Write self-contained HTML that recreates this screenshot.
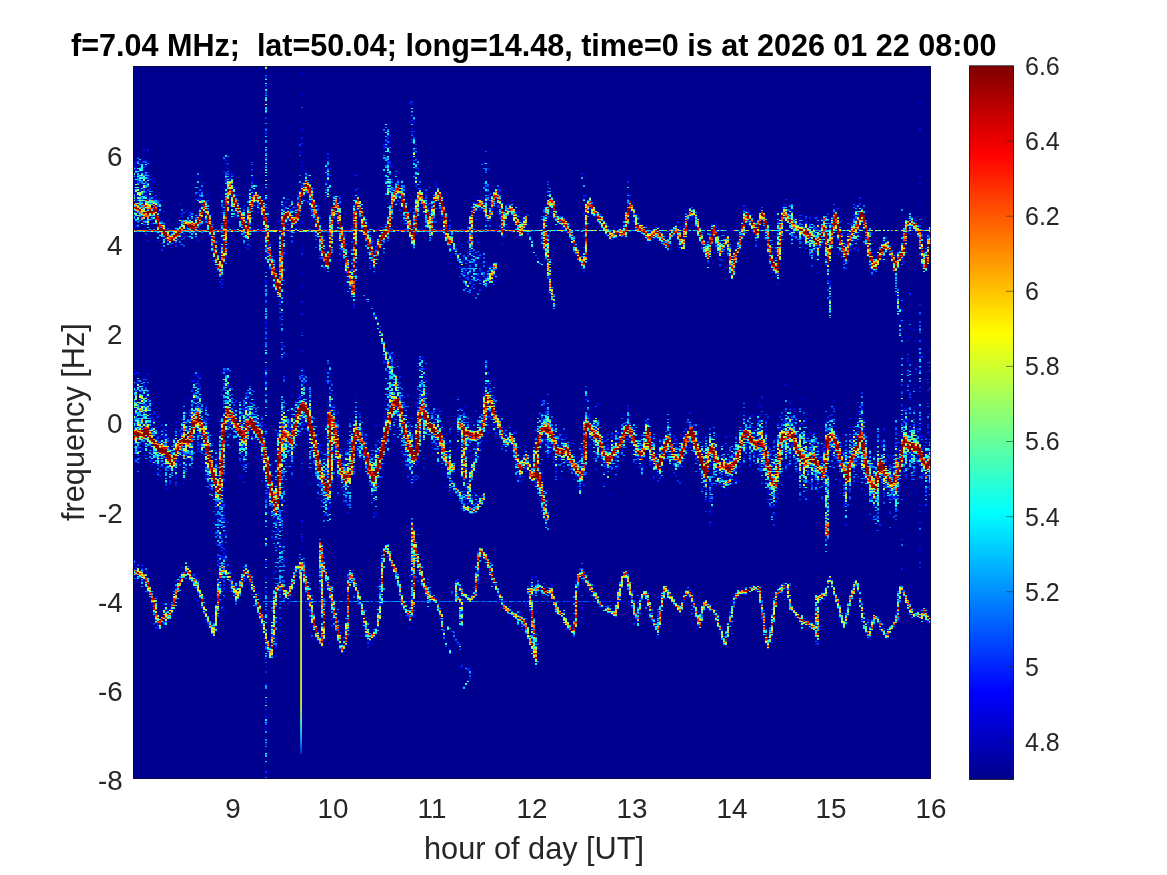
<!DOCTYPE html>
<html><head><meta charset="utf-8"><title>spectrogram</title><style>
html,body{margin:0;padding:0;background:#fff;}
body{width:1167px;height:875px;position:relative;overflow:hidden;font-family:"Liberation Sans",sans-serif;color:#262626;}
.t,.xt,.yt,.ct{will-change:transform;}
.t{position:absolute;white-space:pre;line-height:1;}
.xt{position:absolute;white-space:pre;line-height:1;font-size:27.8px;top:794.5px;width:80px;margin-left:-40px;text-align:center;}
.yt{position:absolute;white-space:pre;line-height:1;font-size:27.8px;right:1044.5px;text-align:right;}
.ct{position:absolute;white-space:pre;line-height:1;font-size:25px;left:1024.8px;}
#plot{position:absolute;left:0;top:0;}
</style></head><body>
<svg id="plot" width="1167" height="875" viewBox="0 0 1167 875">
<rect x="133" y="66" width="798" height="713" fill="#00008f"/>
<defs><filter id="sb" filterUnits="userSpaceOnUse" x="133" y="66" width="798" height="713"><feGaussianBlur stdDeviation="0.5 0.4"/></filter></defs><g fill="none" stroke-width="2" shape-rendering="crispEdges" filter="url(#sb)">
<path stroke="#0000c1" d="M134 224v1m2 7v1m0 328v1m4 -338v1m0 158v1m2 9v1m0 50v1m2 -69v1m2 -218v1m0 10v1m0 400v1m2 -372v1m2 -40v1m0 30v1m0 404v1m4 -382v1m0 10v1m2 -23v1m2 244v1m2 -240v1m0 208v1m0 9v1m2 -226v1m0 33v1m2 227v1m4 -217v1m2 196v1m2 154v1m0 9v1m2 -32v1m0 5v1m6 -377v1m2 -14v1m0 37v1m6 -29v1m0 3v1m2 191v1m2 -196v1m2 163v1m0 15v1m0 196v1m2 -412v1m2 -5v1m0 26v1m0 15v1m0 156v1m0 73v1m2 -62v1m0 1v1m0 14v1m2 -214v1m0 217v1m2 -197v1m2 389v1m6 13v1m6 -143v1m0 54v1m2 -244v1m0 225v1m0 23v1m0 18v1m2 -347v1m0 73v1m0 223v1m0 75v1m2 29v1m2 -183v1m0 87v1m4 -143v1m0 201v1m0 3v1m2 -411v1m4 45v1m0 22v1m0 165v1m0 26v1m4 -11v1m4 -27v1m0 186v1m6 -391v1m4 216v1m0 198v1m2 -431v1m0 20v1m2 7v1m2 382v1m2 -405v1m2 53v1m0 370v1m2 -354v2m0 16v1m0 252v2m0 12v1m0 28v1m0 150v1m2 -516v1m2 243v1m2 165v1m6 -98v2m2 74v1m0 1v1m2 -272v1m4 129v1m0 109v1m2 -159v1m0 44v1m0 12v1m2 -238v1m2 188v1m0 52v1m2 107v1m2 -354v1m0 168v1m2 -170v1m0 158v1m2 -228v1m2 -36v1m0 2v1m0 79v1m0 35v1m0 35v1m0 94v1m0 17v1m0 28v1m0 57v1m8 -310v1m0 296v1m2 -16v1m0 183v1m8 -419v1m2 36v1m2 153v1m0 194v1m2 -456v2m2 11v1m0 223v1m0 6v1m0 13v1m2 93v1m2 -258v1m2 159v1m4 23v1m0 216v1m2 -437v1m0 29v1m0 6v1m0 200v1m2 -1v1m0 12v1m8 -12v1m2 -214v1m2 165v1m0 99v1m0 108v2m2 -219v1m2 -187v1m2 -17v1m4 436v1m2 -144v1m2 -263v1m0 73v1m0 348v1m2 -153v1m0 3v1m0 130v1m4 -122v1m2 -199v1m0 114v1m2 -193v1m0 79v1m0 2v1m0 5v1m0 255v1m2 -3v1m2 -359v1m2 -92v1m0 19v1m0 23v1m0 66v1m0 132v1m0 27v1m2 -242v1m0 210v1m0 168v1m2 -188v2m2 -129v1m4 212v1m6 -248v1m2 16v1m0 7v1m0 203v1m0 28v1m2 -234v1m2 -23v1m2 229v1m2 -301v1m0 441v1m2 -140v1m0 45v1m0 118v1m2 -473v1m0 9v1m0 346v1m2 -278v1m0 197v1m0 19v1m2 -54v1m4 -180v1m0 225v1m0 142v1m4 -337v1m4 -16v1m6 -27v1m0 8v1m2 273v1m0 135v1m4 -127v1m2 138v1m2 -405v1m4 277v1m4 -15v1m2 163v1m2 -236v1m0 45v1m0 38v1m0 97v1m4 -110v1m2 -207v1m0 7v1m0 242v1m2 75v1m2 -119v1m2 -249v1m0 204v1m4 -227v1m0 51v1m2 -48v1m2 74v1m2 -25v1m0 310v1m2 -404v1m2 26v1m2 -7v1m0 237v1m2 -61v1m6 -97v1m0 100v1m0 24v1m0 27v1m2 -145v1m4 -15v1m2 135v1m2 192v1m2 -177v1m4 -215v1m0 407v1m2 -12v1m4 -127v1m4 -265v1m6 5v1m6 254v1m6 -225v1m0 2v1m0 229v1m0 135v1m4 -207v1m0 14v1m2 75v1m0 83v1m2 -404v1m0 23v1m6 229v1m0 2v1m0 6v1m2 -28v1m0 171v1m2 -133v1m4 -248v1m0 405v1m2 -159v1m2 -258v1m4 266v1m8 -21v1m4 -199v1m4 11v1m2 125v1m0 189v1m4 1v1m4 -148v1m2 -48v1m0 14v1m0 9v1m0 175v1m2 -186v1m0 189v1m4 -397v1m6 406v1m2 -147v1m4 -3v1m2 -238v1m0 371v1m4 -376v1m0 195v1m0 27v1m4 2v1m4 -278v1m0 226v1m0 199v1m0 2v1m4 -5v1m2 -158v1m6 -212v1m0 234v1m2 -37v1m2 -4v1m2 -212v1m2 365v1m4 -125v1m2 -30v1m0 195v1m2 -406v1m6 389v1m12 -148v1m4 -5v1m6 -243v1m0 3v1m0 375v1m2 -154v1m2 4v1m2 -238v1m2 234v1m4 -25v1m2 8v1m2 176v1m4 -161v1m2 48v1m2 -240v1m2 244v2m0 93v1m2 -91v1m4 -73v1m2 22v1m0 17v1m2 -26v1m2 -215v1m4 216v1m2 -230v1m2 13v1m0 231v1m2 -248v1m0 249v1m8 -251v1m2 220v1m2 -210v1m0 174v2m0 38v1m2 -20v1m4 23v1m2 -33v1m0 39v1m2 -9v1m4 26v1m2 -263v1m2 -19v1m0 189v1m4 28v1m2 8v1m2 -173v1m0 193v1m2 -17v1m0 10v1m0 18v1m0 20v1m4 -40v1m0 62v1m0 79v1m2 -104v1m2 -241v1m0 169v1m4 -221v1m12 258v1m2 -26v1m4 -198v1m0 224v1m2 -38v1m4 19v2m2 25v1m2 -12v1m4 -215v1m0 232v1m4 151v1m2 -154v1m0 14v1m0 91v1m2 -385v1m0 33v1m2 294v1m0 18v1m2 -260v1m0 296v1m4 -167v1m2 1v1m2 -222v1m0 216v1m0 178v1m2 -170v1m0 1v1m4 -199v1m2 30v1m4 2v1m0 185v1m4 -245v1m0 268v1m2 -236v1m2 -2v1m0 235v1m4 -113v2m0 35v1m0 5v1m0 170v1m2 -181v1m0 190v1m4 -102v1m4 -276v1m4 18v1m0 266v1m10 -66v1m0 69v1m6 -268v1m2 226v1m4 -29v1m0 144v1m2 -280v1m0 132v1m4 72v2m0 58v1m2 -350v1m0 233v1m0 1v1m6 -73v1m0 95v1m2 -35v1m0 29v1m4 -252v1m0 139v2m0 10v2m0 26v2m2 -66v1m2 -142v1m0 84v1m0 10v1m0 138v1m0 31v1m0 97v2m2 -186v2m0 35v1m0 65v1m0 117v1m0 2v1m2 -367v1m6 105v1m0 37v1m0 64v1m0 91v1"/>
<path stroke="#0000e5" d="M134 181v2m0 16v1m0 172v2m0 41v1m0 148v1m2 -400v1m0 3v1m0 22v1m0 7v1m0 15v1m0 153v1m0 1v2m0 205v1m2 -392v1m0 25v1m0 225v1m0 8v1m0 10v1m2 -86v1m0 87v1m2 -86v1m0 8v1m0 26v1m0 9v2m0 2v1m0 20v2m0 113v1m0 1v1m2 -418v1m0 5v1m0 13v3m0 1v2m0 18v3m0 174v1m0 6v1m0 5v1m0 2v1m0 52v1m0 3v3m2 -270v1m0 196v1m0 199v1m2 -379v2m0 377v1m2 -413v1m0 12v1m0 13v2m0 26v1m0 193v1m0 4v2m0 5v1m0 3v1m0 26v1m2 -274v2m0 4v1m0 36v1m0 177v1m0 11v1m0 1v1m0 1v1m0 1v2m0 5v1m0 3v1m0 25v1m0 7v1m2 -286v3m0 16v1m0 238v1m0 19v1m0 1v1m0 13v1m2 -278v1m0 231v1m0 5v1m0 157v1m0 2v1m0 33v1m2 -419v1m0 214v1m0 4v1m0 46v1m0 133v1m0 14v1m2 -431v1m0 18v2m0 202v1m0 14v2m2 -232v1m0 256v1m2 -227v1m0 190v1m0 180v1m2 -145v1m0 23v1m2 -68v1m0 45v1m0 136v1m0 3v1m0 3v1m0 7v1m2 -180v1m0 6v1m0 32v1m2 -236v1m0 230v1m2 -238v1m0 226v2m0 119v1m0 25v1m2 -194v1m0 11v1m0 5v1m2 15v1m2 -244v2m0 10v1m0 8v1m0 183v1m0 13v2m0 4v1m0 11v1m0 11v1m0 111v1m0 3v2m2 -128v2m0 129v1m2 -182v1m0 75v1m2 -62v1m0 19v1m0 25v1m0 10v1m2 -265v1m0 3v1m0 213v2m0 33v1m2 -251v1m0 24v1m0 160v1m0 79v1m2 -269v1m0 3v1m0 159v1m2 32v1m0 29v1m2 -202v2m0 139v1m0 23v1m0 170v1m0 2v1m0 11v1m0 9v1m2 -422v2m0 22v2m0 170v1m0 1v1m0 8v1m0 48v1m0 13v1m0 125v1m0 6v1m0 12v1m0 11v1m2 -232v1m0 21v2m0 45v1m0 2v1m2 -275v1m0 17v2m0 14v1m0 191v1m0 59v1m0 149v1m2 1v1m2 -208v1m0 1v1m0 24v1m0 34v1m0 6v1m0 148v1m2 -429v1m0 4v1m0 223v1m0 8v1m0 3v1m0 39v1m0 139v1m2 -380v1m0 181v1m0 60v1m0 6v1m0 2v1m2 -277v2m0 4v1m0 5v1m0 21v1m0 242v1m0 125v1m0 18v1m2 -374v1m0 239v1m0 15v1m0 15v1m0 101v2m2 -395v1m0 258v1m0 6v1m0 21v1m0 10v2m0 12v2m0 70v1m2 -342v1m0 166v1m0 1v2m0 58v3m0 39v1m0 3v1m0 8v1m0 6v1m2 -31v2m0 1v1m0 5v1m0 21v1m0 39v2m2 -430v1m0 53v1m0 30v1m0 4v1m0 1v1m0 120v2m0 120v1m0 7v1m0 9v2m0 29v1m0 14v1m0 8v1m2 -188v1m0 75v2m0 22v2m0 5v1m0 14v1m0 29v1m0 17v1m0 28v1m2 -445v1m0 11v1m0 77v2m0 115v1m0 131v1m0 39v1m0 4v1m2 -384v1m0 82v1m0 118v1m0 198v1m2 -373v1m0 8v1m0 167v1m0 2v1m0 5v1m0 14v1m0 36v1m0 149v1m2 -179v1m0 171v1m2 5v1m0 10v1m0 2v1m2 -411v2m0 26v1m0 364v1m0 3v1m0 19v1m2 -163v1m0 154v1m2 -393v1m0 198v1m0 18v1m0 51v2m2 -268v1m0 202v1m0 3v1m2 -184v1m0 210v1m0 18v1m0 9v1m0 108v1m2 -362v1m0 155v1m0 3v1m0 16v2m0 13v1m0 42v1m0 108v1m0 10v1m2 -385v1m0 52v1m0 151v1m0 48v2m2 -258v1m0 46v1m0 150v1m0 19v1m2 -234v2m0 1v1m0 12v3m0 33v1m0 369v1m2 -411v2m0 222v1m0 25v1m0 166v1m2 -425v1m0 255v1m0 17v2m0 135v1m2 -385v1m0 16v1m0 221v1m0 9v1m0 127v1m0 5v1m0 20v1m2 -385v1m0 196v1m0 194v1m0 11v1m2 -444v1m0 5v1m0 1v1m0 30v1m0 186v1m0 7v2m0 2v2m0 23v1m0 170v1m2 -386v1m0 232v1m2 -397v1m0 131v3m0 44v1m0 7v1m0 19v1m0 15v1m0 25v2m0 41v2m0 1v1m0 20v2m0 17v1m0 12v2m0 2v2m0 57v1m0 8v2m0 12v1m0 7v1m0 4v1m0 6v1m0 45v2m0 12v1m0 1v2m0 5v1m0 54v1m0 55v1m0 2v1m0 1v2m0 10v2m0 44v1m2 -528v1m0 4v1m0 16v1m0 186v1m0 34v1m0 22v1m2 -269v1m2 11v1m0 17v1m0 229v1m0 114v1m2 -366v1m0 41v1m0 185v1m2 -215v2m0 160v1m0 11v1m0 6v1m0 12v1m0 2v1m0 71v1m0 99v1m0 8v2m0 6v2m2 -428v1m0 1v1m0 63v1m0 8v1m0 182v1m0 38v1m2 -203v1m0 104v1m0 66v1m0 57v2m0 11v1m0 23v2m0 30v2m2 -428v2m0 6v1m0 127v2m0 77v2m0 38v2m0 4v1m0 63v1m2 -292v1m0 4v1m0 118v1m0 14v1m0 145v2m0 21v1m0 2v1m0 16v1m0 7v1m2 -357v1m0 17v1m0 6v1m0 16v2m0 159v1m0 13v1m0 31v1m0 138v1m0 1v1m2 -371v1m0 235v1m2 -235v1m0 194v1m0 29v1m0 1v2m0 137v1m2 -404v1m0 12v1m0 176v1m0 29v2m0 45v1m0 2v2m0 3v1m2 -241v1m0 183v1m0 40v2m0 110v1m2 -345v1m0 176v1m0 41v1m2 -223v1m0 172v1m2 -244v2m0 74v1m0 167v1m0 21v1m0 162v1m2 -508v2m0 18v2m0 25v1m0 8v2m0 21v1m0 8v2m0 2v2m0 2v2m0 52v1m0 8v1m0 2v1m0 13v2m0 5v1m0 16v2m0 10v2m0 1v1m0 49v1m0 29v2m0 2v2m0 23v1m0 26v1m0 34v1m0 8v2m0 4v1m0 12v1m0 26v1m0 8v1m0 3v1m0 12v2m0 6v2m2 -167v1m0 16v1m0 27v1m0 3v2m2 -231v1m2 -11v1m0 194v2m0 13v1m2 -26v1m0 15v1m0 4v1m0 70v1m0 121v1m0 19v1m0 6v3m2 -404v1m0 1v1m0 193v1m0 34v1m0 150v1m0 3v1m0 20v2m0 12v1m2 -445v1m0 38v1m2 -7v1m0 209v1m0 41v1m0 156v1m2 -433v1m0 300v1m0 68v1m0 25v1m2 -379v1m0 233v1m2 -235v1m0 32v1m0 187v2m0 101v1m0 66v1m2 -368v1m0 2v1m0 188v1m0 75v1m0 39v2m0 1v1m0 2v1m0 26v2m0 20v1m0 23v1m2 -468v1m0 1v2m0 2v2m0 6v2m0 13v1m0 173v1m0 47v1m0 33v2m0 5v1m0 3v1m0 104v1m2 -393v1m0 7v1m0 60v2m0 30v1m0 128v2m0 67v1m0 25v1m0 99v1m2 -443v1m0 19v2m0 10v1m0 180v3m0 114v1m0 10v1m0 3v1m0 1v2m2 -268v1m0 167v2m0 1v1m0 207v2m2 -215v1m0 2v1m0 195v1m0 13v1m2 -425v1m0 21v2m0 196v1m0 44v2m2 -218v1m0 188v1m0 44v1m0 16v1m0 128v1m2 -435v1m0 58v1m0 10v1m0 187v1m0 184v2m0 8v1m2 -156v2m2 -266v1m0 39v1m0 176v1m0 6v2m0 7v1m0 37v1m0 105v1m0 50v1m2 -410v1m0 194v1m0 22v1m0 5v1m0 30v1m0 5v2m0 82v1m0 53v1m2 -414v1m0 47v1m0 218v1m0 1v1m0 14v1m0 107v1m2 -208v1m0 72v1m0 93v1m0 1v1m0 16v1m2 -350v1m0 14v1m0 8v1m0 23v1m0 270v1m2 -398v2m0 16v1m0 12v1m0 35v1m0 64v2m0 120v1m0 50v1m0 94v1m0 44v1m2 -411v1m0 1v1m0 60v1m0 27v1m0 97v1m0 14v2m0 27v1m0 6v1m2 -256v2m0 36v1m0 193v1m0 18v1m0 9v1m2 -234v1m0 33v1m0 210v1m0 3v1m0 130v1m2 -397v2m0 221v2m0 1v1m0 18v1m2 -14v1m2 -218v1m2 3v2m0 7v1m0 66v1m0 149v1m0 171v1m0 5v1m0 11v1m0 3v1m4 -414v1m0 7v1m0 5v1m0 241v1m0 4v2m0 149v2m2 -165v1m0 15v1m0 15v1m0 124v1m2 -409v1m0 13v1m0 180v1m0 14v1m0 46v1m0 25v2m0 113v1m2 -393v1m0 83v1m0 132v2m2 -121v1m0 226v2m0 8v1m0 11v1m0 47v1m2 -400v1m0 14v1m0 187v1m0 162v1m2 -384v1m0 9v1m0 131v2m0 47v1m0 10v2m2 -277v1m0 3v2m0 40v1m0 33v2m0 2v1m0 136v2m0 23v1m0 23v1m0 32v1m0 9v1m0 89v1m2 -405v1m0 2v1m0 228v2m0 1v1m0 58v1m0 8v1m0 98v1m0 4v1m0 7v1m0 1v1m2 -422v1m0 28v2m0 185v2m0 5v1m2 -4v1m0 34v1m0 180v1m2 -371v1m0 168v1m0 1v1m0 13v1m0 42v1m0 5v1m0 3v2m0 13v1m2 -282v1m0 7v1m0 208v1m0 16v2m2 -231v1m0 14v1m0 6v1m0 169v1m0 58v1m2 -245v1m0 42v1m0 197v1m0 170v1m2 -392v1m0 184v3m0 4v1m0 52v1m0 134v1m2 -372v1m0 5v1m0 1v1m0 183v2m0 37v1m0 10v1m2 -257v1m0 211v1m0 7v1m0 23v1m0 10v1m0 10v2m0 13v1m0 124v1m0 4v1m2 -403v1m0 217v1m0 44v1m2 -374v2m0 4v1m0 323v1m0 32v1m0 5v1m0 10v1m0 39v1m0 106v1m2 -473v1m0 319v1m0 10v1m0 77v1m0 6v2m0 1v1m0 21v1m2 -477v2m0 38v2m0 20v1m0 283v1m0 12v1m0 48v1m0 70v2m0 5v1m2 -451v2m0 20v1m0 3v2m0 219v2m0 13v1m0 41v2m0 96v1m0 22v1m2 -414v1m0 224v1m0 14v1m0 46v2m0 70v1m0 18v1m2 -168v2m0 10v1m2 -30v1m0 11v1m0 16v2m0 171v1m2 -208v1m0 15v1m0 27v1m0 39v1m2 -250v2m0 29v1m0 143v2m0 5v1m0 6v1m0 12v1m0 31v1m0 6v1m2 -24v1m0 34v1m0 130v1m2 -163v1m2 36v2m2 -260v1m0 25v1m0 182v1m0 2v1m0 3v1m0 5v1m2 -234v1m0 1v1m0 252v1m2 -255v1m0 44v1m0 178v1m0 34v2m0 19v1m0 138v1m2 -395v2m0 2v1m0 15v1m0 192v1m2 -230v1m0 217v1m0 12v2m0 44v1m2 -237v1m0 240v1m0 163v1m2 -168v2m0 4v1m2 -37v1m0 40v1m0 14v1m0 146v1m0 2v2m2 -426v1m0 7v2m0 12v1m0 10v1m0 185v1m0 39v1m0 10v1m2 -248v1m0 334v1m0 68v2m2 -403v1m0 219v1m0 130v1m2 -347v1m0 230v2m0 155v1m2 -258v1m0 9v1m0 51v1m0 9v1m0 184v1m2 -214v1m0 70v1m0 123v1m0 41v1m2 -260v2m0 104v1m0 85v1m2 -372v1m0 37v1m0 155v1m0 56v1m0 6v1m0 7v1m2 -267v1m0 6v1m0 23v1m0 146v1m0 38v1m0 3v1m0 33v1m0 14v1m2 -265v1m0 3v2m0 227v2m0 200v1m2 -446v2m0 21v1m0 44v1m0 125v1m0 24v1m0 5v1m0 7v1m0 33v1m2 -285v1m0 3v1m0 34v1m0 8v1m0 7v1m0 2v1m0 2v1m0 4v1m0 4v3m0 8v1m0 176v1m0 22v1m0 99v1m0 8v1m2 -402v1m0 260v1m0 31v1m0 21v1m0 83v1m2 -388v1m0 48v1m0 158v1m0 24v1m0 12v1m0 104v1m0 5v1m2 -373v1m0 2v1m0 16v1m0 39v1m0 14v1m0 6v1m0 189v1m0 34v1m0 27v1m2 -333v1m0 15v1m0 37v1m0 3v2m0 12v1m0 1v2m0 4v1m0 144v1m0 19v2m0 122v2m2 -299v1m0 9v1m0 137v1m0 134v1m0 1v1m2 -407v1m0 10v2m0 89v1m0 26v1m0 82v1m0 27v1m2 -232v1m0 27v1m0 73v2m0 14v1m0 143v1m0 18v2m2 -178v1m0 5v1m0 10v1m0 78v2m0 16v1m0 5v4m0 23v1m0 21v1m2 -214v1m0 8v1m0 35v1m0 114v1m0 11v1m2 -183v1m0 68v1m2 -72v1m0 68v1m0 112v1m0 33v1m0 146v1m0 2v1m2 -377v1m0 32v1m0 210v1m0 138v1m2 -391v1m0 1v1m2 21v1m0 221v1m2 -238v1m0 35v1m2 200v1m0 5v1m0 1v1m2 -215v1m2 -13v1m0 3v1m0 3v1m0 208v1m0 164v1m0 12v1m2 -411v1m0 243v1m2 -249v1m0 414v1m2 1v1m2 -391v1m0 202v1m0 30v2m0 5v1m0 2v1m0 4v1m0 124v1m2 -391v1m0 234v1m0 29v2m0 136v1m2 -4v1m2 -396v1m0 242v1m0 141v1m0 11v1m0 11v1m0 9v2m2 -160v1m2 -11v1m0 127v1m0 6v3m2 -386v1m0 9v1m0 368v1m2 -356v1m0 340v1m0 20v1m0 5v1m0 1v1m2 -371v1m0 332v1m0 1v1m0 20v1m0 39v1m2 -49v1m0 67v1m2 -219v1m0 42v2m0 182v1m2 -11v1m2 -420v1m0 21v2m0 1v1m0 157v1m0 71v1m0 6v1m0 86v1m0 12v1m2 -363v1m0 159v1m0 2v1m0 18v1m0 21v1m0 34v2m2 -82v1m0 19v1m0 15v1m0 80v1m0 71v1m2 -187v1m0 6v1m0 34v1m0 81v1m2 -285v1m0 213v1m0 11v1m4 -259v1m0 91v1m0 2v1m0 115v2m0 26v1m0 135v1m2 -284v1m2 -89v1m0 93v1m0 160v1m0 4v1m2 -39v1m0 7v1m2 -8v2m0 20v1m0 1v1m0 166v1m4 -414v1m0 207v1m0 18v1m0 169v1m2 -393v1m0 216v1m0 179v1m0 11v1m2 -396v1m0 396v1m4 -398v1m0 216v1m2 -221v1m0 13v1m2 9v1m0 232v1m0 92v1m0 1v1m2 -127v1m0 43v1m0 88v1m2 -127v1m2 -16v1m0 3v2m0 122v1m0 28v1m0 4v1m0 10v1m2 -349v1m0 146v1m2 -219v1m0 195v1m0 2v1m0 4v1m0 68v1m2 -45v1m2 -201v1m0 183v1m2 -185v1m0 204v1m0 145v1m2 -176v1m0 2v1m0 33v1m0 11v1m2 -3v1m0 146v1m2 -380v1m0 181v2m0 21v1m0 2v1m0 15v1m2 -24v1m0 26v2m0 155v1m2 -168v1m0 20v1m0 17v1m2 -45v1m0 4v2m0 42v2m0 120v1m2 -371v1m0 199v2m0 8v1m0 22v1m2 -248v1m0 218v1m0 171v1m2 -171v1m0 5v1m0 18v1m0 144v1m2 -6v1m0 1v1m2 -382v1m0 8v1m0 200v1m0 16v1m0 144v1m2 -375v1m0 12v1m0 191v1m0 1v1m0 24v1m0 8v2m0 147v1m2 -385v1m0 2v1m0 194v1m0 168v1m2 -375v1m0 1v1m0 358v1m2 -173v1m2 -1v1m2 162v2m2 -402v1m0 45v1m0 180v1m0 2v1m0 2v1m0 22v1m0 3v1m0 134v1m0 27v1m0 1v1m2 -404v1m0 217v1m0 162v1m0 13v1m4 -374v1m0 8v1m0 199v1m2 -218v1m0 13v1m0 201v1m0 7v1m0 17v1m0 9v1m0 155v1m2 -160v1m0 3v1m0 133v1m2 -380v1m0 9v1m0 202v1m0 2v1m0 18v1m0 152v1m2 -146v1m0 139v1m2 -380v1m0 369v1m0 4v1m2 -378v1m0 22v1m0 211v1m0 123v1m0 15v1m2 -359v1m0 208v1m0 141v1m2 -361v1m0 222v1m0 7v1m0 15v1m2 -37v1m0 17v1m0 160v1m2 -172v1m2 -214v1m0 233v2m2 147v1m0 14v1m2 -160v1m0 127v1m2 -375v1m0 236v1m2 -221v1m0 215v1m2 -37v2m0 23v1m0 129v1m0 10v1m0 3v1m2 -369v1m0 5v1m2 193v1m0 21v1m0 5v1m2 -18v1m2 -11v1m2 -196v1m2 10v1m0 1v1m0 193v1m2 -213v1m0 215v1m0 18v1m0 131v1m2 -164v1m0 2v1m0 20v1m0 14v1m2 -253v1m0 212v1m2 -227v1m0 39v2m0 347v1m2 -147v1m0 142v1m2 -173v1m0 22v1m0 150v1m2 -7v1m2 -163v2m0 166v1m0 4v1m2 -392v1m0 224v1m0 18v1m0 1v1m0 170v1m2 -192v1m0 173v1m2 -385v1m0 243v1m2 -25v1m2 -217v1m0 268v2m0 99v1m2 -361v1m0 367v1m4 -374v1m0 287v2m2 -62v2m0 22v2m0 22v1m0 9v1m0 81v1m2 -381v1m0 11v2m0 14v1m0 169v1m2 -202v1m0 3v1m0 208v1m0 33v2m0 16v1m0 7v1m2 -266v1m0 28v1m0 212v1m2 -241v1m0 9v1m0 237v1m2 -238v1m0 13v1m0 2v1m0 213v1m0 8v1m2 -252v1m0 212v1m0 49v1m2 -239v1m0 197v1m0 34v1m0 4v1m0 151v1m2 -185v1m0 13v1m0 2v1m2 -207v1m0 178v2m0 22v1m0 137v1m0 7v1m2 -343v1m0 319v2m0 20v1m2 -394v1m0 214v2m0 8v1m0 18v1m2 -230v1m0 27v1m0 205v2m4 -245v1m0 16v1m0 162v1m0 47v1m0 4v1m0 11v2m2 -54v2m2 -189v1m0 214v1m2 -251v1m0 29v1m0 197v1m0 163v1m2 -377v1m0 196v1m0 6v1m2 -215v1m2 1v1m0 231v1m0 12v1m2 -26v2m0 18v1m0 130v1m2 -343v1m0 3v1m2 208v1m0 18v1m0 12v1m2 -260v1m0 174v1m0 25v1m0 21v2m4 -220v1m0 374v1m2 -190v1m0 8v1m0 69v1m0 125v1m2 -379v1m0 202v1m0 39v1m2 -250v1m0 210v1m0 54v1m2 -273v1m0 34v1m0 369v1m2 -177v2m0 4v1m2 -197v1m0 164v3m0 55v1m0 3v1m2 -87v1m0 12v1m0 5v1m0 29v2m0 23v1m0 98v1m2 -325v1m0 165v1m0 63v1m2 -289v1m0 22v1m0 11v1m0 175v1m0 8v1m2 -221v1m0 23v1m0 231v1m0 136v1m2 -371v1m0 154v1m0 86v1m2 -44v1m2 -201v1m0 201v1m0 23v1m0 22v1m0 118v1m0 13v1m2 -412v1m0 31v1m0 6v1m0 179v1m0 1v1m2 -204v1m0 16v1m0 173v1m0 2v1m0 6v1m0 40v1m2 -220v1m0 185v1m0 27v1m0 161v1m2 -396v1m0 196v1m0 11v1m0 40v1m0 146v1m2 -402v1m0 206v1m0 7v2m0 182v1m2 -394v1m0 14v1m0 2v1m0 201v1m0 1v1m0 24v1m2 -233v1m0 12v1m0 163v1m0 30v1m0 32v1m0 22v1m2 -282v1m0 25v1m0 172v2m0 31v1m0 17v1m2 -247v1m0 1v1m0 208v1m0 45v1m2 -267v1m0 2v1m0 3v1m0 208v1m0 43v1m2 -249v1m0 19v1m0 213v1m0 13v1m0 21v1m2 -282v1m0 9v1m0 26v1m0 165v2m0 4v1m0 5v1m0 40v1m0 4v2m2 -265v1m0 268v1m0 9v1m0 7v1m0 141v1m2 -426v1m0 4v1m0 231v2m0 16v1m0 14v1m0 6v1m0 144v1m2 -183v1m0 14v2m0 137v1m0 11v1m0 3v1m2 -202v2m2 -226v1m0 7v1m0 266v1m0 112v1m2 -369v1m0 195v1m0 27v2m0 58v2m0 9v1m2 -295v2m0 2v1m0 7v1m0 5v1m0 28v1m0 2v1m0 1v2m0 32v1m0 109v1m0 50v2m0 38v2m0 65v1m2 -162v1m0 156v1m0 2v2m2 -131v1m0 5v1m0 11v1m2 -256v1m0 187v2m0 64v1m0 17v2m2 -280v1m0 255v1m0 130v1m2 -354v1m0 7v1m0 5v1m2 215v1m0 7v1m0 139v1m2 -167v2m0 158v1m2 -351v1m0 5v2m0 161v1m0 68v3m0 13v2m0 4v1m0 94v2m2 -352v1m0 236v2m0 5v1m0 97v1m2 -8v1m2 -384v1m0 31v1m0 179v1m0 4v2m0 4v1m0 56v1m2 -280v1m0 15v1m0 6v1m0 1v1m0 222v1m0 7v1m0 1v1m0 108v1m2 -375v1m0 3v1m0 5v1m0 208v1m0 5v1m0 35v1m2 -228v1m0 211v1m2 -261v1m0 270v1m0 9v2m2 -272v1m0 16v1m0 3v1m2 -10v1m0 184v1m0 46v1m0 146v1m2 -174v2m0 177v1m0 12v1m0 8v1m2 -115v1m2 -285v1m0 220v2m0 49v1m0 119v1m0 5v1m0 9v1m2 -418v1m0 24v1m0 20v1m0 368v1m2 -367v1m2 -21v1m0 19v1m0 354v1m2 -165v1m0 31v1m0 119v1m2 -172v1m0 12v1m0 66v1m4 -294v1m0 10v1m0 19v1m0 180v1m0 1v1m0 6v1m0 181v1m2 -408v1m0 187v1m0 15v1m0 12v1m0 11v1m0 26v1m2 -252v1m0 9v1m0 392v1m2 -177v1m0 175v1m2 -146v1m0 24v1m2 -271v1m0 221v1m0 3v1m0 2v1m2 33v1m2 -214v1m0 135v1m0 14v1m0 180v1m2 -339v1m0 20v1m0 140v1m0 3v1m0 5v1m0 20v1m0 7v1m0 2v2m2 -181v1m0 2v1m0 3v1m0 121v1m0 3v1m0 27v1m2 -246v1m0 71v2m0 18v2m0 93v2m0 52v1m0 56v1m0 3v1m0 59v1m0 62v1m2 -247v2m0 50v1m2 -243v1m0 26v1m0 229v1m2 -161v1m0 104v2m0 11v1m0 25v1m0 150v1m2 -319v1m0 27v1m0 7v1m0 7v2m0 61v1m0 11v1m0 16v2m0 5v1m0 99v1m0 34v1m2 -169v1m0 21v2m0 1v1m0 24v1m2 -232v1m0 8v1m0 98v2m0 57v2m0 9v1m0 7v1m0 82v1m0 3v1m2 -155v2m0 36v1m0 39v1m0 6v1m0 2v3m0 186v1m2 -402v1m0 7v1m0 124v1m0 74v2m0 6v2m0 1v1m0 20v1m0 152v1m0 1v1m2 -529v1m0 17v2m0 73v1m0 24v2m0 43v1m0 104v1m0 54v1m0 27v1m0 1v2m0 24v1m0 41v2m0 28v1m0 13v3m0 54v1m2 -349v1m0 8v1m0 175v1m0 29v2m0 1v1m0 7v1m2 -40v1m2 -212v2m0 258v2m0 16v1m2 -248v1m0 81v1m0 4v1m0 60v2m0 37v1m0 160v1m2 -366v1m0 4v1m0 100v1m0 6v2m0 60v1m0 9v2m0 40v1m0 12v1m0 2v1"/>
<path stroke="#0009ff" d="M134 175v1m0 13v2m0 29v1m0 165v1m0 3v1m0 23v1m0 44v1m0 115v1m2 -415v1m0 4v1m0 3v1m0 24v1m0 30v1m0 2v1m0 157v1m0 20v2m0 168v1m2 -419v1m0 43v1m0 8v1m0 158v1m0 10v1m0 26v1m0 35v1m0 1v1m0 5v1m2 -284v1m0 16v1m0 254v1m2 -283v2m0 9v1m0 6v1m0 7v1m0 203v1m0 24v2m0 30v1m0 119v1m2 -419v1m0 37v1m0 31v1m0 163v2m0 69v1m2 -296v1m0 4v1m0 13v1m0 4v1m0 11v1m0 13v1m0 9v1m0 173v1m0 11v1m2 -258v2m0 84v1m0 4v1m0 133v1m0 17v2m0 6v1m0 2v1m0 188v1m2 -417v1m0 7v1m0 35v1m0 178v1m0 28v1m0 18v1m2 -269v1m0 27v1m0 209v1m0 32v1m0 5v1m0 3v3m0 1v1m0 141v1m2 -403v1m2 -7v2m0 32v1m0 181v1m0 182v1m0 30v1m2 -418v1m0 3v1m0 24v1m0 192v1m0 39v1m2 -34v1m0 193v1m2 -435v1m0 223v1m0 5v1m0 4v1m0 30v1m2 -256v1m0 217v1m0 2v2m0 2v2m0 1v1m0 163v1m2 -177v1m0 8v2m0 26v1m0 23v1m0 137v1m2 -188v1m2 -196v1m0 361v1m0 1v1m6 -380v1m0 193v1m0 4v1m0 12v2m0 16v1m0 10v1m0 5v3m0 6v1m0 89v1m0 4v1m0 29v1m0 6v1m2 -395v1m0 234v1m0 1v2m2 -259v1m0 40v1m0 186v1m0 2v1m2 -222v1m0 2v1m0 19v1m0 195v1m0 139v1m2 -339v1m0 163v1m0 12v1m0 2v1m0 5v1m0 62v1m2 -273v1m0 208v1m0 46v1m2 -248v1m0 234v1m2 -242v1m0 22v1m0 185v1m0 35v1m2 -80v2m0 32v1m0 28v1m0 4v2m0 5v1m0 6v1m0 113v1m0 10v1m2 -366v1m0 157v2m0 10v2m0 15v1m0 1v1m0 35v1m2 -73v1m0 23v1m0 30v1m0 3v1m0 142v2m2 -382v2m0 41v1m0 135v2m0 7v1m0 21v1m0 24v1m0 16v1m0 150v2m2 -409v1m0 250v2m0 20v1m4 -284v1m0 11v1m0 227v1m0 19v1m0 177v1m2 -402v1m0 243v1m0 1v1m0 8v1m0 3v1m2 -286v1m0 14v1m0 25v1m0 241v1m0 5v1m2 -273v1m0 228v2m0 40v1m0 5v1m0 139v1m2 -408v1m0 24v1m0 188v1m2 -175v1m2 201v1m0 3v1m0 9v1m0 7v1m0 22v1m0 18v1m0 103v1m2 -362v1m0 187v1m0 121v1m0 18v1m2 -357v1m0 28v1m0 9v1m0 127v1m0 13v2m0 9v1m0 65v1m0 2v2m0 9v1m0 30v1m0 9v1m0 10v1m0 18v1m0 13v2m2 -415v1m0 8v1m0 16v2m0 14v1m0 9v2m0 5v1m0 32v1m0 7v1m0 84v2m0 115v1m0 4v1m0 9v2m0 13v3m0 13v1m0 20v3m0 9v1m0 10v1m0 26v1m2 -448v1m0 49v1m0 52v1m0 121v2m0 95v1m0 24v1m0 20v1m0 24v2m0 2v2m0 29v1m0 8v2m0 12v1m2 -451v1m0 209v2m0 27v1m0 41v1m0 84v1m0 3v1m0 3v1m0 19v1m0 12v1m2 -357v1m0 9v2m0 148v1m2 -197v1m0 1v1m0 22v1m0 4v1m0 165v1m0 14v1m0 60v1m0 123v1m0 19v1m2 -419v1m0 251v1m2 -251v1m0 53v1m2 357v1m2 -393v1m0 225v1m2 -8v1m0 32v1m0 6v1m0 6v1m0 14v1m2 -34v1m0 20v2m2 -261v1m0 196v1m0 5v1m0 1v1m0 36v1m0 16v1m0 112v1m0 1v1m0 1v1m2 -366v1m0 30v1m0 147v1m0 12v2m0 36v1m2 -252v1m0 4v1m0 241v1m0 126v1m0 4v1m2 -339v1m0 8v2m0 144v1m0 23v1m0 14v1m0 152v1m2 -408v1m0 4v2m0 259v1m0 143v1m2 -383v1m0 197v1m0 8v1m0 3v1m2 8v1m0 22v1m0 147v1m0 10v1m2 -404v1m0 21v1m0 365v1m0 1v1m2 -363v1m0 214v1m2 -232v1m0 201v1m0 34v1m0 28v1m0 130v1m0 12v1m2 -430v1m0 32v1m0 385v1m0 2v1m0 19v1m2 -555v1m0 48v2m0 16v1m0 47v1m0 32v1m0 10v1m0 8v1m0 6v1m0 20v3m0 38v3m0 3v1m0 8v2m0 9v1m0 10v1m0 7v1m0 8v3m0 2v2m0 101v1m0 38v1m0 17v2m0 18v2m0 2v2m0 12v1m0 21v1m0 9v1m0 20v1m0 17v1m0 16v1m0 16v2m0 14v2m0 16v1m0 3v1m0 7v1m2 -511v1m0 25v1m0 8v2m0 198v1m0 31v1m0 6v1m0 18v1m0 127v1m0 9v1m0 1v1m2 -186v1m0 46v1m0 132v1m2 -368v1m0 6v1m0 182v1m0 9v1m0 57v1m0 64v1m0 23v1m2 -337v1m0 280v2m0 21v1m0 40v1m2 -117v2m0 17v1m0 4v2m0 56v1m0 8v2m0 6v2m0 18v2m0 4v1m0 7v1m2 -433v2m0 209v1m0 97v1m0 1v2m0 14v2m2 -306v1m0 55v3m0 17v1m0 178v1m0 30v1m0 11v1m0 1v2m0 4v1m0 38v1m0 14v1m0 9v1m0 2v1m0 7v1m0 5v2m2 -427v1m0 93v1m0 43v2m0 13v1m0 64v1m0 57v1m0 99v1m2 -378v1m0 43v2m0 103v1m0 60v1m0 74v1m0 19v1m0 49v2m2 -361v1m0 29v1m0 191v1m0 5v1m2 36v1m0 129v1m0 7v1m2 -377v2m0 178v1m0 20v1m0 6v1m2 -237v1m0 7v1m0 1v1m0 24v1m0 159v1m0 32v1m0 49v1m4 -272v1m0 371v1m2 -389v1m0 9v1m0 233v1m0 135v1m2 -427v2m0 41v1m0 34v1m0 151v1m0 3v1m0 18v1m0 31v1m0 4v1m0 120v1m0 1v1m2 -422v2m0 48v1m0 33v2m0 78v2m0 10v2m0 36v1m0 24v1m0 6v1m0 34v2m0 7v1m0 38v1m0 11v1m0 41v2m0 14v2m2 -356v1m0 12v1m0 175v1m0 41v1m0 6v2m0 3v1m0 137v1m0 23v1m0 7v1m2 -425v1m0 28v1m0 197v1m0 43v1m0 132v1m2 -145v1m0 7v1m0 134v1m0 26v1m0 2v1m2 -405v1m0 1v1m0 195v1m0 84v1m0 86v1m0 4v1m0 17v1m0 15v1m0 1v1m0 10v1m0 3v1m2 -448v1m0 9v1m0 24v1m0 2v1m0 188v1m0 3v1m0 35v1m0 1v1m0 6v1m0 11v1m2 -276v1m0 25v1m0 14v1m2 242v2m0 147v1m2 -420v1m0 8v1m0 19v1m0 8v1m0 185v1m0 8v1m0 8v1m0 33v1m0 8v1m0 139v1m2 -188v2m0 2v2m0 8v1m0 28v1m0 101v1m2 -119v1m0 30v1m0 41v1m0 92v1m2 -373v2m0 247v1m2 -247v1m0 111v2m0 40v1m0 15v1m0 16v1m0 19v1m0 2v1m2 -322v2m0 70v1m0 2v1m0 267v1m0 8v1m0 11v1m2 -354v1m0 88v1m0 4v1m0 129v1m0 95v1m0 109v1m2 -361v1m0 124v1m0 19v1m0 97v1m2 -264v1m0 176v1m0 8v2m0 72v1m2 -57v1m0 5v1m0 20v1m2 -251v1m0 4v1m0 34v1m0 170v1m0 9v1m0 56v1m0 9v1m0 123v2m0 6v1m2 -417v2m0 9v1m0 29v1m0 14v1m2 -34v1m0 23v1m0 5v1m2 -24v1m0 228v2m0 166v1m2 -359v1m0 9v1m0 5v1m0 162v1m0 34v1m0 7v1m0 94v1m0 30v1m2 -173v1m0 6v1m0 56v1m0 63v1m0 15v1m0 36v1m0 15v1m2 -417v1m0 40v1m0 21v1m0 210v1m0 76v1m2 -349v1m0 6v1m0 332v1m2 -377v1m0 110v1m0 159v1m0 1v1m0 4v1m0 102v1m0 16v1m2 -148v1m0 133v1m2 -375v1m0 204v2m2 -210v1m0 202v1m0 40v2m0 4v1m0 3v1m0 147v1m4 2v1m2 -355v1m0 182v1m0 17v2m0 175v1m2 -408v1m0 248v1m0 167v1m2 -384v1m0 5v1m0 215v1m2 -240v2m0 61v1m2 -59v1m0 3v1m0 19v1m0 42v1m0 181v1m0 19v1m0 120v1m2 -392v1m0 1v1m0 175v1m0 26v2m0 60v1m2 -32v1m0 83v1m2 -239v1m0 254v1m0 6v1m0 11v2m2 -360v1m0 218v2m0 1v1m0 89v1m0 1v1m0 44v1m2 -461v3m0 194v1m0 18v2m0 238v1m2 -459v1m0 206v1m2 -226v1m0 22v1m0 12v1m0 26v1m0 15v1m0 150v1m0 3v1m0 19v1m0 16v1m0 11v1m2 -273v1m0 5v2m0 8v1m0 32v1m0 206v1m0 35v1m2 -263v2m0 190v2m0 3v1m0 1v1m2 -10v1m0 21v1m0 40v1m2 -188v1m0 351v1m2 -412v1m0 58v1m0 181v1m0 10v2m0 149v1m2 6v1m0 10v1m2 -379v1m0 180v2m2 -200v1m0 22v1m0 1v1m0 5v1m0 166v2m0 5v1m0 196v1m2 -370v1m0 223v2m0 5v1m0 153v1m2 -154v1m0 2v1m0 134v1m2 -481v2m0 86v1m0 212v1m0 4v1m0 10v1m0 35v1m0 5v1m0 78v1m0 16v2m0 49v1m2 -524v1m0 11v1m0 11v1m0 4v2m0 429v1m0 13v1m0 43v1m2 -410v1m0 232v1m0 4v1m0 163v2m2 -450v1m0 297v1m0 128v1m2 -427v1m0 1v1m0 1v1m0 7v1m0 177v1m0 47v1m0 55v1m0 66v1m0 44v1m2 -391v1m0 4v1m0 17v1m0 185v1m0 11v1m0 195v1m2 -373v1m0 126v2m2 -159v1m0 168v2m0 6v2m0 18v2m0 21v1m2 -224v1m0 193v1m2 -184v1m0 24v1m0 175v1m2 2v1m0 197v1m2 -405v1m0 237v1m0 3v1m0 153v1m2 -411v1m0 30v1m0 189v2m0 3v1m0 1v1m0 19v1m0 157v1m2 -418v1m0 5v1m0 17v1m0 237v1m0 2v1m2 -37v1m0 4v1m4 -221v1m0 21v1m0 197v1m0 204v1m2 -414v1m0 26v1m0 401v2m2 -184v1m0 12v1m0 20v1m0 154v1m2 -418v1m0 232v1m0 1v1m2 -227v1m0 20v1m0 7v1m0 168v2m2 -185v2m0 199v1m2 -28v1m0 209v1m2 -390v1m0 335v1m2 -184v1m0 18v1m0 30v1m0 46v1m0 86v1m0 62v1m2 21v1m2 -420v1m0 15v1m0 15v1m0 138v1m0 3v1m0 69v1m0 108v1m0 3v1m0 7v1m0 53v1m2 -411v2m0 1v1m0 9v1m0 2v2m0 131v1m0 5v1m0 89v1m2 -228v1m0 10v1m0 139v1m0 27v1m0 30v1m0 5v1m0 4v1m0 9v1m0 3v1m0 90v1m0 65v1m2 -413v1m0 20v1m0 163v2m0 5v1m0 33v1m0 17v1m0 96v1m0 71v1m0 14v1m2 -473v1m0 38v1m0 9v1m0 30v1m0 221v1m0 154v1m0 1v1m2 -461v1m0 58v1m0 15v2m0 135v1m0 46v1m0 35v1m2 -253v2m0 9v1m0 176v1m0 51v1m2 -291v1m0 25v1m0 6v1m0 26v1m0 13v2m0 175v1m0 1v1m0 14v1m0 97v1m2 -368v1m0 38v1m0 13v1m0 21v1m0 218v2m0 4v1m0 49v1m0 20v1m0 20v1m2 -387v1m0 1v1m0 43v1m0 21v1m0 137v1m0 10v1m0 22v2m0 107v1m2 -275v1m0 156v2m2 -48v1m2 -224v1m0 12v1m0 33v1m0 5v1m0 57v1m0 137v1m2 -221v1m0 7v1m0 1v1m0 64v1m0 7v1m0 121v1m0 10v2m0 7v1m0 6v1m2 -230v1m0 62v1m0 114v1m0 11v1m0 20v1m2 -207v1m0 22v1m0 192v2m2 -146v1m0 115v2m0 186v1m2 -382v1m0 25v1m0 32v1m0 17v1m0 132v1m0 19v1m0 4v1m2 -228v1m0 17v1m0 371v1m2 -413v1m0 38v1m2 15v1m2 -18v2m0 203v1m0 169v1m2 -383v1m0 230v1m0 153v1m2 -402v1m0 402v1m2 10v1m4 -165v1m2 -24v2m0 30v1m4 13v1m0 2v2m0 130v1m4 -394v1m0 231v1m0 4v1m0 19v1m0 149v1m2 -402v1m0 242v2m0 1v1m0 129v1m2 -378v1m0 365v1m2 -351v1m0 221v1m0 119v1m0 2v1m2 -9v1m0 17v1m0 37v1m2 -42v1m2 -17v1m0 34v2m0 32v1m0 21v1m2 -241v1m0 5v1m0 37v1m0 26v1m2 -85v1m0 85v1m2 -101v2m0 36v1m0 3v1m0 29v1m0 2v1m0 5v1m2 -275v1m0 4v1m0 191v2m0 33v1m0 52v1m2 -272v1m0 187v1m0 2v1m0 27v2m0 79v1m0 2v1m2 -287v1m0 3v1m0 28v1m0 4v1m0 167v2m0 3v1m0 7v1m0 32v1m2 -275v1m0 27v1m0 30v1m0 1v1m0 15v1m0 151v1m0 5v3m0 147v1m2 -155v1m0 137v1m2 -368v1m0 12v1m0 70v1m0 132v1m0 22v2m0 145v1m2 -379v1m0 199v1m0 11v1m0 23v1m0 8v1m2 -250v1m0 216v2m0 2v1m2 -15v1m0 28v1m0 141v1m2 -375v2m0 205v1m0 3v1m0 39v1m2 -37v1m0 11v1m0 8v1m0 148v1m2 -382v1m0 202v1m0 2v1m0 24v1m0 138v1m0 25v1m6 -27v1m2 -1v1m2 -360v1m0 3v1m0 214v1m0 13v1m2 -19v1m2 -204v1m0 172v1m0 40v1m0 16v1m0 3v1m2 -317v2m0 274v3m0 29v1m0 98v1m0 26v2m2 -413v1m0 15v2m0 21v1m0 35v1m0 201v1m2 -87v1m0 77v1m0 1v1m2 -254v1m0 183v1m2 15v1m0 3v1m0 3v1m0 22v1m0 5v1m0 149v1m4 -386v1m0 225v1m2 -15v1m0 39v2m2 -67v1m0 35v1m4 -5v1m0 21v1m0 2v1m0 140v1m0 2v1m2 -144v1m0 21v1m2 -36v2m0 13v1m0 1v1m0 2v1m0 132v1m2 -158v1m0 2v1m0 47v1m0 105v1m2 -151v1m2 -16v1m0 6v1m0 22v1m0 134v1m4 -175v1m0 5v1m0 33v1m0 133v1m2 -373v1m0 212v1m0 21v2m0 135v1m2 -168v1m0 19v1m0 142v1m0 3v1m2 -171v1m0 18v1m0 120v1m0 22v1m0 6v1m2 -156v1m0 12v1m0 141v1m2 -179v2m2 -232v2m0 9v1m0 204v1m0 177v1m2 -375v1m0 387v1m4 -382v1m0 230v1m0 139v1m0 23v1m0 1v1m4 -159v1m0 158v1m2 -169v1m0 148v1m2 -136v1m2 -8v1m4 -215v1m0 174v1m0 3v2m0 166v1m2 -360v1m0 233v1m0 139v1m2 -379v1m0 2v1m0 8v1m2 196v1m0 40v2m0 143v1m0 3v1m4 -400v1m0 12v1m0 233v1m0 121v1m0 38v1m0 2v1m2 -163v1m0 148v1m2 -186v1m0 4v1m0 163v1m6 -360v1m0 203v1m2 -226v1m0 15v1m0 173v1m0 42v1m4 -27v3m0 34v1m4 -247v1m2 -1v3m0 235v1m0 16v1m4 117v1m2 -391v1m0 219v1m0 165v1m2 -377v1m0 10v1m0 218v1m0 138v1m2 -178v2m2 -205v1m0 6v1m0 385v1m0 11v1m0 7v1m2 -406v1m0 381v1m0 8v1m0 2v1m2 -156v1m0 2v1m0 157v1m0 9v1m2 -196v2m0 1v1m2 10v1m2 4v3m0 20v1m0 13v2m0 132v1m2 -371v1m0 185v1m0 40v1m2 -238v1m0 14v1m0 224v1m2 -221v1m2 169v1m0 10v1m0 39v3m0 28v1m2 -15v2m4 -280v1m0 3v1m0 209v2m0 10v2m0 34v2m2 -258v1m0 28v1m2 203v1m0 15v1m2 -8v1m0 1v1m0 156v1m2 -185v1m0 39v1m2 -50v2m0 13v1m0 9v1m0 26v1m2 -30v1m0 14v1m0 8v1m2 -254v1m0 247v1m0 132v1m2 -177v1m0 18v1m0 5v1m0 15v2m0 126v1m2 -150v1m0 1v1m0 13v2m0 10v1m0 112v1m0 3v1m0 6v1m2 -377v1m0 15v1m0 191v1m0 29v1m0 10v2m0 110v1m4 -122v1m2 -250v1m0 12v1m2 -27v1m0 201v1m0 8v1m0 168v1m0 4v1m2 -371v1m0 224v1m2 -239v1m0 217v1m0 13v1m0 11v1m2 -242v1m0 230v1m0 14v2m0 4v1m2 -236v1m0 183v1m0 11v1m0 158v1m2 -160v1m2 -184v1m0 189v1m2 -216v1m0 200v1m0 17v1m2 -34v1m0 8v2m0 41v1m0 7v1m0 5v1m0 133v1m2 -210v1m0 9v1m0 191v1m0 20v1m2 -394v1m0 6v1m0 4v1m0 208v1m0 175v2m2 -392v1m0 187v1m0 10v2m0 209v1m2 -391v1m0 238v2m2 -41v1m0 27v1m0 4v1m0 19v1m0 122v1m0 12v1m2 -371v1m0 197v1m0 43v1m0 118v1m0 2v1m0 2v1m2 -134v1m0 7v1m2 -19v1m0 3v1m0 6v1m0 6v1m2 -294v1m0 2v1m0 4v1m0 10v1m0 26v1m0 6v1m0 9v1m0 138v1m0 5v1m0 8v1m0 49v1m0 3v2m0 101v1m2 -10v1m2 -380v1m0 39v1m0 345v1m2 -174v2m0 28v1m0 144v1m2 -365v1m0 153v1m0 66v2m0 10v2m2 -253v1m0 241v1m0 7v1m0 1v1m2 -257v1m0 21v1m0 170v2m0 4v1m0 38v1m0 17v1m0 10v1m2 -266v1m0 24v2m0 183v1m0 5v1m0 14v1m0 2v1m0 4v1m2 -233v1m0 14v1m0 175v1m0 44v1m0 8v1m0 144v1m0 5v1m2 -200v1m0 2v1m0 60v1m0 131v1m2 -390v1m0 246v1m0 143v1m2 -396v1m0 33v1m0 146v1m0 25v1m0 97v1m2 -309v1m0 21v1m0 230v2m0 16v1m0 138v1m2 -400v1m0 10v1m0 244v1m0 7v1m0 5v2m0 120v1m2 -402v1m0 2v1m0 1v1m0 5v1m0 15v1m0 173v1m0 31v1m0 23v1m2 -249v1m0 12v1m0 197v1m0 8v1m0 1v2m0 49v1m2 -283v1m0 20v1m0 194v1m0 193v1m2 -382v1m0 201v1m0 29v1m2 -261v1m0 34v1m0 179v1m0 32v1m0 5v1m2 170v1m2 -384v1m0 11v1m0 171v2m0 2v3m0 1v2m0 4v1m0 29v1m2 109v1m0 2v1m2 -365v1m0 2v1m0 207v3m0 9v2m0 130v1m0 9v1m2 -159v1m0 39v2m0 104v1m2 -331v1m0 160v1m0 51v1m0 18v2m2 -256v1m0 25v1m0 151v1m2 -193v1m0 56v2m2 -47v1m0 170v1m0 7v1m0 27v1m0 3v2m0 17v1m2 -47v1m0 5v1m0 29v2m0 5v1m0 131v1m2 -160v1m0 166v1m2 -351v1m0 207v1m2 -234v1m0 214v3m0 34v2m0 10v2m2 131v1m2 -394v1m0 2v1m0 25v1m0 194v4m0 27v1m0 16v2m0 104v1m2 -169v1m0 5v1m0 37v1m0 15v1m0 21v2m2 -271v1m2 -6v1m0 176v1m2 -189v1m0 212v1m0 136v1m2 -376v1m0 3v1m0 212v1m0 1v1m0 12v1m0 12v1m0 8v2m0 135v1m2 -401v1m0 29v1m0 4v1m0 177v1m0 4v1m0 12v1m2 -222v1m0 34v1m0 160v1m0 15v1m0 31v1m0 17v1m2 -281v1m0 38v1m0 175v2m0 36v1m0 143v1m2 -387v1m0 199v1m0 6v1m0 72v2m0 116v1m2 -187v2m0 10v1m0 8v1m0 33v3m0 130v1m2 -388v1m0 16v1m0 205v1m0 34v1m2 -29v1m0 13v1m0 158v1m0 1v1m0 9v1m2 -398v1m0 262v1m0 119v1m2 -390v2m0 17v1m0 244v1m0 21v1m0 99v1m0 10v1m2 -376v1m0 19v1m2 -6v1m0 183v1m0 15v1m0 20v1m0 38v1m2 -74v1m0 16v1m2 145v1m2 -379v1m0 12v2m0 183v2m0 3v1m0 1v1m0 6v1m0 26v1m0 144v1m2 -384v1m0 184v2m0 67v1m2 -48v1m0 9v1m0 18v1m0 6v1m0 151v1m2 -183v2m0 41v1m2 -256v1m0 209v1m0 9v1m0 23v1m0 7v2m0 13v1m0 1v1m2 -58v2m0 18v1m0 19v2m0 140v1m2 -196v1m0 3v1m0 38v1m0 3v1m0 2v1m0 3v1m0 127v1m2 -333v1m0 124v1m0 23v1m0 8v1m0 44v2m0 114v1m0 1v1m2 -319v1m0 7v1m0 19v1m0 123v2m0 11v1m0 18v1m0 7v1m0 10v1m0 10v1m0 101v1m2 -289v1m0 122v1m0 24v1m2 -164v2m0 17v1m0 7v2m0 57v1m0 10v1m0 30v1m0 130v2m2 -308v1m2 -24v1m0 1v1m0 177v1m0 51v1m0 5v1m0 9v1m2 -262v1m0 5v1m0 106v1m0 20v2m0 10v2m0 34v2m0 188v1m0 7v1m2 -381v1m0 7v1m0 157v2m0 61v1m0 1v1m0 145v1m2 -147v1m0 20v1m2 -73v1m0 67v1m2 -16v1m0 6v1m0 3v1m2 -244v1m0 194v1m0 39v2m2 -398v2m0 61v2m0 52v1m0 139v1m0 32v2m0 49v1m0 8v2m0 8v1m0 12v1m0 42v1m0 39v1m0 4v1m0 82v1m0 4v2m2 -384v1m0 31v1m0 169v3m0 9v2m0 177v1m2 -182v1m0 8v1m0 1v1m2 -201v1m0 235v1m0 127v1m2 -384v1m0 133v1m0 46v1m0 12v1m0 1v1m0 42v2m0 3v1m0 139v1m2 -235v1m0 6v1"/>
<path stroke="#002cff" d="M134 164v1m0 14v1m0 7v1m0 3v1m0 1v2m0 1v1m0 223v2m0 7v1m0 12v1m0 9v2m0 106v1m0 4v1m0 3v1m2 -408v1m0 36v1m0 12v1m0 12v1m0 157v1m0 22v1m0 17v2m0 33v1m0 107v1m2 -411v1m0 23v2m0 16v1m0 24v1m0 148v1m0 37v1m0 43v1m0 108v1m2 -398v1m0 21v2m0 5v1m0 222v1m0 157v1m2 -13v1m0 15v1m2 -418v1m0 19v1m0 19v1m0 199v2m0 5v1m2 -246v1m0 16v1m0 7v2m0 31v1m0 9v1m0 161v1m0 58v1m2 -284v1m0 228v1m0 41v1m2 -228v1m0 189v1m0 22v1m0 31v1m2 -246v1m0 6v1m0 179v1m0 30v1m2 -239v1m0 215v2m0 6v2m0 8v1m0 193v1m2 -198v1m0 23v1m0 11v1m0 163v1m2 -428v1m0 215v2m0 18v1m0 3v1m0 12v1m0 10v2m0 6v1m0 154v1m2 -428v1m0 20v1m0 10v1m0 208v1m0 18v2m0 8v1m2 -222v2m0 174v1m0 31v1m0 164v1m2 -399v1m0 396v1m2 -164v1m0 7v1m0 18v1m0 125v1m2 -392v1m0 7v1m0 12v1m0 198v1m2 28v1m0 10v2m0 1v1m0 125v1m2 -1v1m4 -383v1m0 18v1m0 182v1m0 31v1m0 22v1m0 96v1m0 6v1m6 -375v1m0 212v1m0 5v1m0 133v1m2 -335v1m0 4v1m0 182v1m0 42v2m2 -239v1m0 184v1m0 8v1m0 32v1m0 4v1m2 -41v1m0 6v1m4 -191v1m0 338v1m2 -178v2m0 3v1m0 171v1m2 -345v1m2 -40v1m0 187v2m0 22v2m0 28v1m0 10v1m0 2v1m0 2v1m0 129v1m0 12v1m2 -401v1m0 1v1m0 2v1m0 8v2m0 176v1m0 1v2m0 37v1m2 34v1m0 143v1m2 -395v1m0 207v2m2 -14v1m0 11v1m0 10v1m2 -13v1m0 14v1m0 35v1m0 5v1m0 10v1m0 135v1m0 1v1m2 -188v1m2 -217v1m0 220v2m0 42v1m2 35v1m0 102v1m2 -360v1m0 182v1m0 33v1m0 142v1m2 -357v1m0 261v1m0 26v2m0 2v2m0 15v2m0 33v1m2 -365v1m0 28v1m0 138v2m0 78v1m0 17v1m2 -307v1m0 71v1m0 105v1m0 97v1m0 13v1m0 13v2m0 32v1m0 13v1m0 43v1m2 -438v1m0 198v1m0 15v1m0 87v1m0 5v1m0 21v1m0 4v1m0 12v2m0 9v1m0 16v2m0 15v1m0 12v1m0 5v2m0 2v2m2 -427v1m0 17v2m0 8v1m0 55v1m0 120v2m0 70v1m0 94v1m0 22v1m2 -396v2m0 55v1m0 6v1m0 15v1m0 140v1m0 1v1m0 47v1m0 87v1m2 -345v1m0 239v1m0 2v1m0 3v1m0 155v1m0 2v1m2 -411v1m0 36v1m0 23v1m0 152v1m0 11v2m0 22v1m0 164v2m2 -398v1m0 205v1m0 2v1m0 190v1m2 -399v1m0 19v1m0 184v2m0 202v1m2 -163v1m2 -212v1m0 214v1m0 12v2m0 119v1m2 -356v1m0 182v2m0 36v1m0 8v1m2 -250v1m0 27v1m0 8v1m0 159v1m0 5v1m0 35v1m0 14v2m0 20v1m0 83v2m2 -349v1m0 18v1m0 153v2m0 24v1m0 19v1m2 -199v1m0 7v1m0 143v2m0 13v1m0 4v1m0 50v1m2 -265v1m0 195v1m0 7v1m2 -235v2m0 236v1m2 -202v1m0 192v1m0 19v1m0 18v1m0 148v1m2 -387v1m0 216v2m0 23v1m2 -250v1m0 9v1m0 7v1m0 206v1m0 4v1m0 170v1m0 18v1m2 -192v1m0 19v1m0 181v1m2 -204v1m0 13v1m0 8v1m0 34v1m2 -282v1m0 231v1m0 7v1m0 23v1m0 7v1m2 -395v2m0 6v2m0 6v2m0 22v2m0 9v1m0 3v1m0 28v2m0 84v2m0 47v1m0 34v1m0 22v1m0 29v2m0 26v2m0 20v1m0 49v3m0 12v1m0 91v1m0 52v1m0 13v1m0 12v2m0 36v1m0 33v2m0 26v2m2 -557v1m0 4v2m0 265v1m0 3v1m0 1v1m0 3v1m2 -253v1m0 398v1m2 -116v1m0 5v2m0 66v1m0 29v2m2 -371v1m0 15v1m0 230v2m0 1v1m0 62v1m2 -289v1m0 231v1m0 8v1m0 39v1m0 74v1m2 -210v1m0 90v2m0 54v1m2 -365v1m0 8v1m0 62v1m0 18v1m0 5v2m0 113v1m0 65v1m0 19v1m0 1v2m0 58v1m0 7v1m0 14v1m2 -309v1m0 107v1m0 16v1m0 4v1m0 15v1m0 36v1m0 23v1m0 20v1m0 22v2m2 -342v1m0 2v2m0 42v2m0 121v2m0 22v2m0 22v1m0 76v1m0 4v1m0 75v1m2 -381v1m0 260v1m2 -254v1m0 8v1m0 198v1m0 5v1m0 3v2m0 13v1m0 159v1m2 -395v2m0 25v1m0 172v1m0 10v2m0 1v1m0 159v1m2 -368v1m0 23v1m0 1v1m0 212v1m2 -35v1m0 24v1m0 122v1m0 17v1m2 -365v1m0 4v1m2 -34v1m0 190v1m0 11v1m0 5v1m0 196v1m2 -206v1m0 178v1m2 -433v1m0 39v1m0 1v2m0 12v1m0 53v2m0 77v1m0 44v1m0 36v1m0 119v1m0 40v1m2 -201v1m0 4v2m0 33v1m0 8v1m0 146v1m2 -393v1m0 248v2m0 162v1m2 -391v1m0 400v1m2 -403v1m0 188v1m0 15v1m0 52v1m0 140v1m2 -414v1m0 25v1m0 384v1m2 -400v1m0 261v1m0 1v1m2 -228v1m0 199v2m0 28v1m2 -259v3m0 5v1m0 217v1m0 11v2m0 1v1m0 29v1m0 18v1m0 135v1m0 5v1m2 -424v1m0 34v1m0 2v1m0 1v2m0 225v2m0 91v1m0 9v2m0 48v1m2 -186v2m0 31v1m0 7v1m0 7v1m0 65v1m2 -329v1m0 232v1m0 25v1m0 27v1m2 -91v2m0 55v1m0 12v1m0 8v1m0 65v1m0 36v1m2 -466v2m0 13v1m0 19v1m0 194v1m0 19v1m0 104v1m0 74v1m0 2v1m0 3v1m2 -416v1m0 204v2m0 11v1m2 -157v1m0 169v1m0 83v1m0 126v1m0 6v2m2 -411v1m0 230v1m0 7v1m2 -259v1m2 24v1m0 189v2m0 7v1m0 54v1m0 143v1m2 -424v1m0 251v1m0 182v1m2 -385v1m0 216v1m2 19v1m0 15v1m0 149v1m2 -412v1m0 35v1m0 4v1m0 220v1m2 -251v1m0 3v1m0 22v1m0 160v2m0 7v1m0 55v1m0 72v1m0 14v1m2 -308v1m0 132v1m0 20v2m2 -178v1m0 168v1m2 -130v1m0 106v1m0 8v2m0 46v1m0 106v1m2 -401v1m0 13v2m0 76v1m0 20v1m0 151v1m0 143v1m2 -397v1m0 234v1m0 17v1m0 10v2m0 145v1m0 4v1m2 -189v1m0 3v1m0 5v1m0 177v1m2 -377v1m2 229v1m2 -20v1m0 25v1m0 154v1m2 18v1m0 6v1m2 -396v1m0 13v1m0 190v1m0 27v2m0 115v1m2 -362v1m2 75v2m0 138v1m0 2v1m0 31v1m0 8v1m0 15v1m2 -201v1m0 130v1m0 180v1m2 -400v1m0 210v2m0 152v1m2 -265v1m0 138v1m0 115v1m0 1v1m0 12v1m0 4v1m0 7v1m2 -387v1m0 248v2m0 73v1m0 8v1m0 35v1m0 6v1m2 -456v1m0 273v1m0 33v1m0 6v1m2 -325v1m0 39v1m0 219v1m2 -268v1m0 2v1m0 1v2m0 24v1m0 7v1m0 8v1m0 35v1m0 165v1m0 20v1m0 34v1m2 -278v3m0 206v1m0 54v1m2 -63v1m0 1v1m0 9v1m0 7v1m0 2v1m0 8v1m2 -207v1m2 13v1m2 -24v1m0 2v1m0 11v1m0 183v1m0 8v2m0 20v1m0 1v1m2 -204v2m0 20v1m0 144v2m0 203v1m0 17v1m2 -420v1m0 6v1m0 247v1m0 15v1m2 -264v1m0 30v1m0 184v2m0 49v1m2 -40v2m0 5v1m0 191v1m2 -139v1m0 139v1m2 -515v1m0 106v1m0 213v1m2 -324v2m0 17v1m0 20v2m0 275v1m0 51v1m0 12v1m0 114v1m0 17v1m2 -486v1m0 116v1m0 228v1m0 48v1m2 -383v1m0 7v1m0 7v1m0 7v1m0 16v2m0 32v1m0 12v1m0 231v1m2 -301v1m0 198v1m0 2v1m0 35v1m0 73v2m0 102v2m2 -353v1m0 138v2m0 17v1m0 42v1m2 -49v1m0 3v1m0 9v2m2 40v1m0 19v1m0 8v1m2 -273v1m0 31v1m0 152v2m0 10v1m0 38v1m0 162v2m2 -187v1m0 21v1m0 158v1m2 -404v1m0 24v2m0 25v1m0 362v1m2 -191v1m2 22v1m0 13v1m2 -28v1m0 3v1m0 17v1m2 -27v1m0 8v1m2 -217v1m2 3v1m0 3v1m0 214v1m0 32v1m2 164v1m4 -407v1m0 2v1m0 240v2m2 -247v2m0 18v1m0 185v1m0 10v1m0 33v1m2 3v1m2 6v1m0 2v1m0 146v1m2 -389v1m2 4v1m0 159v1m0 2v1m0 16v1m0 144v1m2 -313v1m0 140v1m2 -165v1m0 16v1m0 231v1m0 15v1m0 78v1m0 22v2m2 -341v1m0 140v1m0 1v1m0 51v1m0 23v1m0 7v1m0 96v1m0 89v1m2 -419v1m0 8v2m0 158v1m0 13v3m0 33v1m0 6v1m0 2v1m2 -270v1m0 12v2m0 9v1m0 3v1m0 21v1m0 401v1m2 -409v1m0 9v1m0 158v1m0 9v1m0 50v1m0 7v1m0 167v1m2 -428v1m0 35v1m0 211v1m0 4v1m2 -300v1m0 9v1m0 238v1m0 4v1m0 1v1m2 -243v1m0 191v1m0 26v1m0 9v1m0 144v1m2 -352v1m0 30v3m0 170v1m0 12v1m0 91v1m0 20v1m0 5v1m0 2v1m0 1v1m2 -375v1m0 59v2m0 18v2m2 -28v1m0 167v1m2 -269v1m0 19v1m0 99v1m0 102v1m2 -199v1m0 2v1m0 9v1m0 18v1m0 147v2m0 60v1m2 -263v1m0 16v1m0 45v1m0 35v1m0 114v1m0 21v1m0 5v1m0 13v1m2 -232v2m0 31v1m0 4v1m0 179v1m0 5v1m0 155v1m2 -365v1m0 6v1m0 63v1m0 110v1m0 190v1m2 -377v1m0 68v1m0 154v1m2 -162v1m0 162v1m0 1v1m0 149v1m2 -396v2m0 1v1m0 13v2m0 385v1m2 -404v1m0 8v1m0 17v2m0 7v1m0 193v1m2 8v1m0 16v1m0 2v1m0 151v1m2 -366v1m0 194v1m2 2v1m0 10v1m4 -234v1m0 18v1m2 -26v1m0 237v1m0 5v1m2 -19v2m0 8v1m0 10v1m2 -241v1m0 14v1m0 204v1m0 26v1m2 -246v1m2 5v1m0 238v1m2 -242v1m0 409v1m4 -416v1m0 231v1m0 19v1m0 139v1m0 26v1m2 -400v1m0 221v1m2 6v1m0 186v1m2 -181v1m0 108v1m0 3v1m0 56v1m0 9v1m2 -420v1m0 369v1m0 21v1m0 10v1m2 -156v1m0 97v1m0 6v1m2 -327v1m0 171v1m0 212v2m0 2v2m0 4v1m0 8v1m2 -251v1m0 30v1m0 26v1m0 116v1m2 -359v1m0 189v1m0 53v1m0 37v1m2 -303v1m2 9v1m0 3v1m0 187v1m0 1v1m0 92v1m2 -326v2m0 9v1m0 85v1m0 143v1m0 19v1m0 5v1m0 7v1m0 57v1m0 78v1m2 -401v1m0 17v1m0 48v1m0 17v1m0 165v1m2 -233v1m0 388v1m2 -166v1m0 20v1m2 -154v1m0 125v1m0 40v1m0 5v1m0 123v1m0 10v1m2 -174v1m0 2v1m0 3v1m0 11v1m0 6v1m2 -250v1m0 393v1m2 -167v1m4 -7v1m0 21v2m0 167v1m2 -168v1m2 0v1m0 4v2m0 131v1m2 -159v1m0 27v1m2 -29v1m0 10v1m0 24v1m0 156v1m2 -56v1m2 -333v1m0 236v1m0 100v2m2 -143v1m0 22v1m0 14v1m0 3v1m0 79v1m0 8v1m2 -87v1m0 109v1m0 15v1m2 -423v1m0 18v1m0 21v1m0 195v2m0 50v2m0 85v1m2 -377v1m0 60v1m0 142v1m0 74v1m2 -265v1m0 2v1m0 202v2m0 162v1m0 6v1m2 -144v1m4 -21v1m2 -212v1m0 1v1m0 208v1m0 4v1m0 29v1m2 -5v1m2 -232v1m4 247v2m0 127v1m2 -368v1m0 205v2m0 22v1m0 1v1m2 -22v1m2 159v1m2 -174v3m0 2v1m0 8v1m0 15v1m0 151v1m4 -158v1m0 3v1m2 -30v1m0 6v1m0 15v1m0 10v1m0 123v2m2 8v1m2 -372v1m0 196v1m4 12v1m2 -259v2m0 16v1m0 3v1m0 202v1m0 11v1m2 -208v1m0 203v1m0 8v1m2 18v1m0 147v2m0 3v1m0 9v2m2 -147v2m0 127v1m0 9v1m0 23v1m2 -162v1m0 148v1m2 -389v1m0 219v1m0 2v1m0 8v1m0 164v1m2 -175v1m0 8v1m0 141v1m2 -153v1m0 10v1m0 9v1m0 3v1m2 123v1m2 -358v1m0 181v1m0 2v1m2 0v1m2 34v1m0 4v1m2 -228v1m0 382v2m2 -384v1m0 198v1m0 38v1m2 -240v1m0 218v1m2 23v2m0 115v1m0 13v2m0 2v1m2 -177v1m0 3v1m0 182v2m2 -386v1m0 198v1m2 -200v1m4 181v1m0 164v1m2 -154v1m0 10v1m0 2v1m0 143v1m4 -366v1m0 5v1m0 199v1m0 24v1m0 11v1m2 -6v1m0 7v1m2 -255v1m0 9v1m0 11v1m0 209v1m0 26v2m2 -18v1m2 -23v1m2 -217v1m0 209v1m0 165v1m2 -386v1m0 204v1m0 5v2m2 -211v1m0 200v1m0 1v1m2 24v1m2 -229v1m0 10v1m2 193v2m2 -200v1m0 377v1m2 -385v1m0 217v1m0 1v1m0 184v1m2 -385v1m0 232v1m2 -231v1m0 2v1m0 366v1m2 -133v1m2 -47v1m0 7v1m0 54v1m0 11v1m2 -252v1m0 208v1m0 8v1m0 124v1m0 4v1m2 -376v1m0 194v1m0 4v1m0 20v1m0 3v1m0 5v2m0 30v2m0 2v2m0 9v1m0 92v1m2 -381v1m0 230v1m0 3v1m0 2v1m0 21v2m0 21v1m2 -62v1m0 30v1m2 -251v1m0 222v1m0 19v1m0 12v1m2 -253v1m0 245v1m0 140v1m2 -355v1m0 1v1m0 366v1m2 -384v1m0 2v1m0 200v1m0 21v2m2 -228v2m0 204v2m0 24v1m6 -244v1m0 6v1m0 19v1m0 181v1m0 10v1m0 165v1m2 -143v1m0 149v1m2 -364v1m2 -15v1m0 179v1m0 31v1m2 -228v1m2 7v1m0 212v1m0 3v1m0 127v1m2 -147v1m2 -244v2m0 3v1m0 21v1m0 188v1m2 -211v1m0 233v1m0 2v1m0 145v1m2 -371v1m0 216v1m2 -26v1m0 27v1m0 12v1m0 6v2m2 -236v1m2 199v1m0 21v2m2 -219v1m0 10v1m2 171v1m0 2v1m0 24v1m0 3v1m0 3v2m2 -34v1m0 13v2m0 18v1m0 7v1m0 1v1m0 2v1m2 -73v1m0 55v1m0 3v1m0 10v2m0 12v2m0 119v1m0 14v1m2 -382v1m0 227v1m0 144v1m2 -372v1m0 183v1m0 58v1m0 143v1m2 -211v2m0 29v1m0 51v1m0 2v1m2 -261v1m0 13v1m0 191v1m0 9v1m2 -190v1m0 180v2m0 12v2m0 25v1m0 14v1m2 -2v1m0 7v1m0 10v2m2 -269v1m0 18v1m0 169v1m0 41v1m0 13v1m2 -281v1m0 201v1m2 -9v2m0 52v1m2 -48v1m0 51v1m0 8v2m2 -282v1m0 217v1m0 24v3m2 -251v1m0 268v2m2 -41v1m0 14v2m0 5v1m0 1v1m0 10v1m2 -255v1m0 21v1m0 176v1m0 8v1m0 38v1m0 6v1m0 132v1m2 -154v1m2 -226v1m2 251v1m0 145v1m2 -387v2m0 202v2m0 31v1m2 26v1m6 -278v1m0 29v1m0 189v1m0 51v1m0 127v1m2 -179v2m0 28v1m0 2v1m0 6v2m2 -264v1m0 20v1m0 11v1m0 2v2m0 186v1m0 7v1m0 20v1m0 11v1m0 138v1m2 -378v1m0 20v1m0 168v1m0 13v1m0 6v1m0 27v3m2 -259v1m0 3v1m0 17v1m0 191v1m0 26v1m2 -211v1m0 179v2m0 1v1m0 13v1m2 -228v1m0 15v1m0 245v1m0 114v1m0 37v1m2 -399v1m0 209v1m0 22v1m0 122v1m0 23v1m2 -408v1m0 236v1m0 21v1m0 17v2m2 -53v1m0 1v1m0 2v2m0 22v1m0 123v2m2 -172v1m0 2v1m0 2v1m0 37v1m0 1v1m0 15v1m0 50v1m0 45v1m2 -375v1m0 66v3m0 134v1m0 174v1m2 -334v1m0 25v1m0 18v1m0 110v1m2 -2v1m0 172v1m2 -180v2m0 11v1m0 8v1m0 14v1m0 4v2m0 6v1m2 -230v1m0 227v2m2 -251v1m0 229v2m0 22v1m0 3v1m0 130v1m0 4v1m2 -382v1m0 247v1m0 143v1m2 -394v1m0 12v1m0 1v1m0 5v1m0 204v1m0 176v1m2 -379v1m0 14v1m0 232v1m0 13v1m2 -262v1m0 202v1m0 174v1m2 -396v1m0 3v1m0 256v1m2 -267v1m0 9v1m0 11v2m0 1v1m0 168v1m0 20v1m2 -217v1m2 -9v1m0 18v1m0 5v1m0 7v1m0 214v1m0 16v2m0 105v1m2 -382v1m0 230v1m0 148v1m2 -375v1m0 36v1m0 152v1m0 60v1m0 12v1m2 -279v1m0 4v2m0 206v1m0 46v1m2 -67v2m0 15v1m0 16v1m0 32v1m0 2v1m0 157v1m2 -390v1m0 201v1m2 5v1m0 54v1m2 -239v1m0 362v2m2 -163v1m0 171v1m2 -388v1m0 220v1m0 31v1m2 -41v2m0 47v1m2 -35v1m0 18v1m0 8v1m0 6v1m0 11v1m2 -252v1m0 171v1m2 14v1m0 69v2m0 96v1m0 4v1m2 -182v1m0 33v1m2 -252v1m0 209v1m0 47v1m0 2v1m0 1v2m0 1v2m2 -51v1m0 14v1m0 21v1m0 1v1m2 -31v1m0 174v1m2 -166v1m0 46v1m2 -262v1m0 9v1m0 218v1m0 10v1m0 7v1m2 -8v1m0 3v1m2 -65v2m0 34v2m0 28v1m2 -206v1m0 3v2m0 293v1m0 18v1m0 8v1m2 -186v1m0 159v1m0 6v1m2 -345v2m0 99v1m0 24v2m0 5v1m0 12v2m0 17v1m0 115v1m2 -279v1m0 148v1m0 11v1m2 -191v1m0 15v1m0 225v1m0 1v1m2 -119v1m0 25v2m0 33v1m0 49v1m2 -237v1m0 59v2m0 101v2m0 58v1m0 2v1m2 -234v1m0 229v1m0 9v2m0 140v1m2 -390v1m0 190v1m0 15v1m0 1v1m0 33v1m2 -232v1m0 136v2m2 58v2m0 25v1m0 3v1m2 -235v2m0 77v1m0 8v2m0 43v1m0 3v1m0 8v1m0 19v1m0 19v1m0 18v1m0 80v1m0 55v1m2 -339v1m0 126v2m0 109v1m0 9v1m4 -227v1m0 186v1m0 36v1m0 13v2m0 13v2m2 -277v1m0 132v1m0 16v1m0 2v1m0 7v1m0 12v1m0 20v2m0 6v1m0 37v1m0 9v1m0 141v1m2 -375v1m0 101v1m0 84v1"/>
<path stroke="#0050ff" d="M134 167v1m0 206v1m0 20v1m0 23v1m0 20v1m0 132v1m2 -183v1m0 26v1m2 -242v1m0 2v1m0 14v1m0 184v2m0 65v1m0 117v1m2 -385v2m0 22v2m0 180v1m0 3v1m0 66v1m2 -279v1m0 18v1m0 1v1m0 6v1m0 185v1m0 174v1m0 10v1m2 -420v2m0 4v1m0 21v2m0 31v1m0 1v1m0 154v1m0 28v2m2 -249v1m0 11v1m0 59v1m0 145v1m0 7v3m0 7v1m0 6v2m0 39v1m0 131v1m0 5v1m2 -407v2m0 10v2m0 8v1m0 391v1m2 -413v1m0 8v1m0 8v1m0 262v1m2 141v1m2 10v1m0 9v1m2 -429v1m0 10v1m0 232v1m0 180v1m2 -184v2m0 2v2m0 26v1m2 -4v1m0 8v1m2 -255v1m0 21v1m0 212v1m2 0v1m0 146v1m0 19v1m2 -396v1m0 200v1m0 53v1m0 136v1m2 -393v1m0 211v1m0 28v1m2 -3v1m2 -236v1m2 212v1m2 -205v1m0 2v1m0 186v1m0 27v1m0 13v1m0 124v1m2 -361v1m2 190v1m0 33v2m0 110v1m2 -338v1m0 179v1m0 27v1m0 125v1m2 -337v1m0 7v2m0 206v1m2 -226v1m0 184v1m0 9v1m0 4v1m0 39v2m0 101v1m2 -336v1m0 193v1m2 -219v1m0 2v1m0 194v1m0 1v2m0 6v2m0 30v2m0 9v1m2 -74v2m0 14v1m0 31v1m0 21v2m0 5v1m4 -275v2m0 4v1m0 17v1m0 165v1m0 22v2m0 3v1m2 -29v1m0 54v1m0 5v1m0 147v1m2 -404v1m0 39v1m0 177v1m0 43v1m2 -44v1m0 28v1m0 5v1m0 2v1m0 5v2m2 0v1m0 143v1m0 14v1m2 -399v1m0 6v1m0 184v1m0 1v1m0 8v1m0 2v1m0 2v1m0 26v1m0 16v2m0 4v1m0 3v1m0 7v1m0 132v1m2 -420v1m0 9v1m0 227v1m0 47v1m0 135v1m2 -173v1m0 34v1m2 -41v1m0 43v1m2 -23v1m0 43v1m2 -14v1m0 1v2m0 1v1m0 29v1m2 -20v1m0 5v2m0 1v1m0 8v1m0 11v2m0 8v2m0 49v1m2 -377v1m0 201v1m0 18v1m0 56v1m0 35v3m0 9v1m0 39v1m2 -391v2m0 25v1m0 35v1m0 125v1m0 119v1m0 9v2m0 12v1m0 3v1m0 64v1m2 -398v1m0 172v1m0 14v1m0 14v1m0 58v2m0 5v1m0 24v2m0 9v1m0 64v2m2 -410v4m0 1v2m0 76v1m0 175v1m0 110v1m0 34v1m2 -405v2m0 210v1m0 32v1m0 4v1m0 140v2m2 -371v1m0 213v1m0 10v1m0 3v1m0 162v1m2 -398v1m0 198v1m0 190v1m2 -394v1m0 28v1m0 187v2m0 6v1m0 17v1m0 7v1m2 -210v1m0 203v1m0 1v1m0 152v1m2 -385v1m0 231v1m2 157v1m2 -173v1m0 164v1m2 -379v1m0 23v1m0 170v1m0 39v1m0 12v1m0 10v2m0 108v1m0 1v1m2 -185v1m2 -1v1m0 11v2m0 3v1m2 -190v1m0 4v1m0 156v1m0 15v1m2 -241v1m0 1v1m0 18v1m0 33v2m0 171v1m0 25v1m0 19v2m0 143v1m0 12v1m2 -390v1m0 185v1m0 28v1m2 -13v1m0 5v1m0 190v1m2 -400v1m0 24v1m0 206v1m2 -231v1m0 215v1m0 193v1m2 -182v1m0 21v1m0 158v1m2 -415v1m0 411v1m2 -460v2m0 37v1m0 47v1m0 56v2m0 25v1m0 4v2m0 8v1m0 26v1m0 23v1m0 37v2m0 8v1m0 5v1m0 43v2m0 152v1m0 55v1m0 20v2m2 -494v1m0 21v1m0 347v1m2 -354v1m0 19v1m2 -11v1m0 244v1m0 2v1m0 6v1m0 114v1m0 7v1m0 19v1m2 -396v1m0 254v2m0 4v1m0 3v1m0 108v1m0 1v1m2 -168v1m0 23v1m0 110v1m0 12v1m2 -186v2m0 87v1m0 15v1m0 24v1m0 3v1m0 10v1m2 -344v1m0 68v1m0 7v1m0 173v1m0 24v4m0 1v2m0 78v2m0 10v1m0 9v1m2 -307v1m0 3v1m0 39v2m0 63v1m0 18v1m0 30v1m0 27v1m0 18v1m0 5v2m0 4v1m0 4v1m0 44v2m2 -302v1m0 65v1m0 5v2m0 25v3m0 28v1m0 14v1m0 20v1m0 25v2m0 26v1m0 57v1m0 5v2m0 14v2m0 18v1m2 -379v1m0 180v1m2 -205v1m0 24v1m0 198v1m0 1v2m0 3v1m0 13v2m0 6v2m0 137v1m2 -387v2m0 220v1m0 17v1m0 155v1m2 -361v1m0 187v1m0 29v1m0 12v2m0 127v1m2 -378v1m0 349v1m2 -366v1m2 -11v1m0 205v1m0 159v1m2 -422v1m0 10v1m0 35v1m0 23v1m0 13v1m0 146v2m0 19v1m0 27v1m0 131v1m0 43v1m2 -495v1m0 227v1m0 50v1m0 29v2m0 45v1m2 -82v1m2 -207v1m0 15v1m0 229v1m2 -222v1m0 29v1m0 377v1m2 -402v1m0 20v1m0 162v2m0 189v1m0 17v1m2 -392v1m0 207v1m0 217v1m2 -177v1m2 -222v1m0 231v1m0 2v1m4 -257v1m0 240v1m0 22v1m0 3v1m0 7v1m0 78v2m0 1v1m0 6v1m2 -326v1m0 205v1m0 27v1m0 7v1m0 5v1m0 44v1m2 -323v1m0 31v1m0 5v1m0 203v1m0 1v1m0 83v1m0 40v2m0 5v1m2 -417v2m0 4v1m0 35v1m0 194v1m0 144v1m2 -397v1m0 55v1m0 150v1m0 57v2m0 12v1m0 13v1m0 45v1m0 72v1m2 -393v1m0 32v1m0 159v2m0 12v1m0 48v1m0 51v1m0 83v1m0 6v1m0 6v1m2 -351v1m0 132v2m0 20v1m0 179v1m0 15v1m2 -193v1m0 1v1m0 187v1m2 -387v1m0 214v1m0 18v1m0 181v1m2 -403v1m0 198v1m0 3v1m0 43v1m0 16v2m0 128v1m0 6v1m2 -432v1m0 40v1m0 6v1m0 6v2m0 393v1m2 -168v1m0 5v1m0 164v1m2 -419v1m0 2v1m0 246v1m0 6v1m0 8v1m0 144v1m2 -375v1m0 180v1m0 15v1m0 1v1m0 22v1m0 3v1m0 3v1m0 99v1m2 -337v1m0 177v1m0 47v1m0 12v1m0 72v1m2 -155v2m0 162v1m2 -360v1m0 12v2m0 16v1m0 9v2m0 13v1m0 296v1m0 19v1m2 -395v1m0 264v2m2 -265v1m0 70v1m0 125v1m0 43v1m2 -242v1m0 218v1m0 21v1m0 4v1m0 144v1m0 2v1m2 -190v1m0 2v1m0 3v1m0 8v1m2 1v2m0 3v1m2 -222v1m0 229v1m2 -226v1m0 77v1m0 135v1m0 6v1m0 25v1m0 141v1m0 6v1m2 -144v1m0 167v1m2 -388v1m0 7v1m0 4v1m0 188v1m0 182v1m2 -400v2m0 242v1m2 -235v1m0 60v1m0 137v1m0 6v1m0 29v1m0 143v1m2 -386v1m0 72v1m0 124v2m0 155v1m2 -280v1m0 128v1m0 4v1m0 129v1m2 -261v1m0 115v1m0 34v1m0 101v1m0 12v2m0 5v1m0 1v1m2 -41v1m2 -322v1m0 121v1m0 90v1m2 -84v1m0 48v1m0 27v1m2 -287v2m0 1v1m0 12v2m0 61v1m0 130v1m0 19v1m0 16v1m0 147v1m2 -368v2m0 163v2m0 38v1m0 166v1m0 39v1m2 -423v1m0 1v2m0 6v2m0 161v1m0 248v1m2 -414v1m0 226v1m2 -245v1m0 234v1m2 -207v1m0 385v1m2 -389v1m0 4v1m0 179v1m0 15v1m0 195v1m2 -208v1m0 216v1m2 -421v1m0 10v1m0 241v2m2 25v1m2 -237v1m0 165v1m0 80v1m2 -52v1m0 10v1m0 29v1m0 108v1m0 31v1m0 7v1m2 -504v1m0 18v1m0 7v1m0 91v1m0 202v2m0 28v2m0 53v1m0 18v1m0 3v1m0 28v1m0 12v2m0 13v1m2 -481v1m0 17v2m0 10v2m0 9v1m0 47v1m0 5v1m0 6v1m0 254v1m0 98v1m0 34v1m2 -463v1m0 277v1m0 48v1m0 3v1m0 81v1m0 14v2m0 23v1m2 -414v1m0 18v1m0 180v2m0 8v1m0 4v1m0 130v1m2 -347v1m0 14v1m0 152v2m0 38v2m0 31v1m0 8v1m0 12v1m2 -84v2m0 14v2m0 180v1m0 15v1m0 2v1m2 15v1m2 -413v1m0 7v1m0 195v1m0 8v1m0 26v2m0 170v1m2 -398v1m0 3v2m0 369v1m0 2v1m2 -380v1m0 34v1m0 353v1m2 -180v1m0 28v1m2 -225v1m0 2v1m0 189v1m0 36v1m2 -228v2m0 191v1m0 34v1m2 -1v1m2 -39v1m0 6v1m0 182v1m0 16v1m2 1v1m2 -394v1m0 210v1m0 22v1m2 -19v1m0 157v1m0 44v1m2 -192v1m0 145v1m2 -382v1m0 10v1m0 196v1m0 18v1m0 29v1m0 3v1m0 8v1m2 -9v1m0 108v3m0 7v1m0 29v1m2 -168v1m0 166v1m0 4v1m2 -389v1m0 5v1m0 238v1m0 87v1m0 58v1m2 -382v1m0 232v2m0 91v1m0 4v1m0 3v1m2 -335v1m0 15v1m0 132v1m0 81v1m0 117v1m0 34v1m0 4v1m2 -421v1m0 38v1m0 1v1m0 205v1m0 25v1m0 3v1m0 1v1m0 97v1m0 58v1m2 -435v1m0 23v2m0 23v1m0 222v1m0 5v1m0 83v1m0 7v1m2 -333v2m0 151v1m0 13v1m0 41v1m2 -202v1m0 1v1m0 223v1m0 97v1m0 67v1m2 -405v2m0 2v2m0 10v1m0 7v1m0 181v1m0 7v1m0 193v1m0 1v2m2 -198v1m0 15v1m0 99v1m2 -347v1m0 11v2m0 21v1m0 139v1m0 80v1m0 81v1m2 -290v1m0 152v1m0 42v1m0 17v1m0 59v1m2 -342v1m0 190v1m0 148v1m0 5v1m0 2v1m2 -313v1m0 11v1m0 145v1m2 -263v1m0 64v1m0 265v1m0 5v1m0 99v1m2 -399v1m0 53v2m0 14v2m2 -124v1m0 33v2m0 10v2m0 3v1m0 14v1m0 142v1m0 3v2m0 235v1m2 -416v1m0 4v1m0 3v1m0 80v1m0 95v2m0 227v1m2 -390v1m0 2v1m0 9v1m0 41v1m0 1v1m0 118v2m0 26v1m2 -150v1m0 333v1m2 -332v1m0 13v1m0 115v1m2 26v1m0 157v1m2 -381v1m0 209v1m0 174v1m0 4v1m2 -401v1m0 16v1m0 1v1m0 10v1m0 375v1m2 -175v1m0 11v1m0 8v1m0 151v1m2 0v1m0 2v1m2 -4v1m2 -393v1m0 5v1m0 225v1m0 171v1m2 -187v1m0 178v1m4 -150v1m0 143v1m2 -137v1m2 6v1m0 128v1m0 16v1m2 -143v1m2 147v1m4 -402v1m0 240v1m2 -250v1m0 17v1m0 226v1m0 125v1m2 -351v1m0 373v1m2 -27v1m4 -330v1m0 387v1m2 -64v1m0 2v1m0 7v1m0 9v1m2 -189v1m0 49v1m2 -248v1m0 19v1m0 4v2m0 173v1m0 5v1m0 87v1m2 -301v1m0 38v1m0 182v1m0 85v1m0 64v1m0 17v1m2 -372v1m2 -47v1m0 2v1m0 28v1m0 45v1m0 131v1m0 17v1m0 30v1m0 143v1m4 -161v1m2 -134v1m0 161v1m0 5v1m2 3v1m0 9v1m2 -13v1m0 149v1m2 -398v1m0 217v1m0 20v1m2 -241v1m0 228v1m0 17v1m2 -237v1m0 200v1m0 10v1m0 26v1m4 -242v1m0 375v1m2 -137v1m2 -232v1m0 393v1m2 -390v1m0 11v1m2 222v1m2 1v1m0 109v1m0 14v1m2 -372v1m0 244v1m0 93v1m0 31v1m2 -334v1m0 187v2m0 9v1m0 100v1m0 26v1m2 -368v1m0 18v1m0 223v1m0 102v1m0 26v1m2 -216v1m0 86v1m0 127v1m2 -182v1m0 180v1m2 -394v1m0 381v1m2 -388v1m0 10v1m2 207v1m0 2v1m0 32v1m0 137v1m0 4v1m2 -388v1m0 191v1m0 18v1m2 -6v1m2 -207v2m4 232v1m0 17v1m2 -243v1m0 381v1m2 -173v1m0 13v1m2 152v1m2 -370v1m0 6v1m0 227v1m0 1v1m2 -237v1m0 209v1m2 -207v1m0 215v1m0 2v1m0 3v1m0 155v1m2 -184v1m2 149v1m2 -348v1m0 217v1m0 132v1m4 -141v1m0 126v1m2 -140v1m0 3v1m2 -245v1m0 35v1m0 191v1m0 18v1m2 -9v1m0 164v1m2 -387v2m0 245v1m0 141v1m0 20v1m2 -171v1m0 163v1m2 -401v1m0 224v1m0 159v1m2 -159v1m0 3v1m0 17v1m2 3v1m0 3v1m0 124v1m4 -179v1m2 -191v1m2 228v2m0 151v1m2 -4v1m2 -145v1m2 -240v1m0 241v1m0 153v1m2 -386v1m0 223v1m0 151v1m0 1v1m2 -139v1m2 -27v1m0 139v1m0 3v1m2 -356v1m0 217v1m0 138v1m2 -353v1m0 211v1m2 -34v1m2 6v2m0 1v1m4 29v1m0 138v1m2 -380v1m0 213v1m0 3v1m2 -222v1m2 260v1m4 -53v1m0 23v1m2 -243v1m0 233v1m0 142v1m2 -361v1m0 190v1m0 17v1m0 2v1m0 151v1m2 -171v3m0 163v1m2 -384v1m0 397v1m2 -156v1m0 150v1m2 -388v1m0 243v1m2 -18v1m0 18v1m0 151v1m4 -381v1m0 1v1m0 381v1m2 -157v1m2 -217v2m0 191v1m0 7v1m0 37v1m0 3v1m0 2v1m0 6v1m2 -257v1m0 19v1m0 206v1m2 -234v1m0 16v1m0 176v1m0 60v1m0 1v2m0 28v1m0 87v1m2 -128v1m0 12v2m2 -54v2m0 30v1m0 132v1m2 -380v1m0 15v1m0 370v1m0 2v1m2 -151v1m2 -229v1m0 16v1m0 5v1m0 218v1m0 140v1m2 -366v1m0 369v1m2 -161v2m2 -29v1m0 31v1m0 159v1m2 -384v1m0 1v2m0 377v1m2 -387v1m0 201v1m0 10v1m0 154v1m4 -147v1m0 131v1m0 1v3m2 -346v1m0 176v1m0 9v1m0 35v1m2 -239v1m2 -15v1m2 198v1m2 20v1m0 6v1m0 3v1m2 -19v1m2 -225v1m2 1v1m0 2v1m0 191v1m0 6v1m0 1v1m0 29v1m0 2v1m4 -238v1m0 213v1m0 18v1m2 -211v1m0 189v1m0 154v1m2 -353v1m0 185v1m0 44v1m2 -42v2m0 29v1m0 3v1m0 4v1m0 1v1m2 -264v1m0 203v1m0 40v1m0 3v1m0 2v1m0 137v1m0 2v1m0 1v1m0 1v1m2 -141v1m0 149v1m2 -201v1m0 11v1m0 7v1m0 4v3m0 2v1m0 184v1m2 -143v1m0 151v1m0 8v1m2 -200v1m0 5v1m0 49v1m0 121v1m2 -377v1m0 216v1m0 145v1m0 27v1m2 -203v2m0 18v2m0 42v1m0 7v1m2 -265v1m0 2v1m0 6v1m2 -28v1m0 193v1m0 10v1m0 61v1m4 -277v1m0 11v1m0 177v2m0 10v1m0 161v1m0 5v1m2 -10v1m2 -176v1m0 2v1m0 8v2m0 33v1m0 131v1m2 -136v1m0 146v1m2 -383v1m0 204v2m0 27v1m0 4v1m0 4v1m0 121v2m2 -351v1m0 5v1m0 175v2m0 28v1m2 -226v1m0 14v1m0 189v1m2 -189v1m0 220v1m0 2v2m2 -27v1m0 5v1m0 4v1m2 -234v1m0 10v1m0 15v1m0 165v1m0 63v2m0 18v2m0 5v1m2 -274v1m0 196v1m0 11v1m0 43v1m2 -244v1m0 175v2m0 206v1m2 -398v1m0 216v1m0 57v1m2 -27v1m2 -249v2m0 16v1m0 10v1m0 194v1m0 16v1m2 -210v1m0 8v1m0 176v1m0 3v1m0 10v1m0 24v1m0 4v1m2 -239v1m0 193v1m0 24v1m2 -252v2m0 8v2m0 18v2m0 2v1m0 189v1m2 -195v1m0 232v2m0 136v1m0 24v1m2 -417v1m0 15v1m0 213v1m0 142v1m2 -144v1m2 -238v1m0 10v1m0 246v1m2 -262v1m0 41v1m0 4v1m0 158v1m0 5v1m0 54v2m0 28v1m0 25v1m2 -327v1m0 5v1m0 14v1m0 53v2m0 140v1m0 29v1m0 26v2m0 14v2m0 2v2m2 -287v1m0 62v1m0 12v1m0 143v1m2 -227v1m0 1v1m0 5v1m0 193v1m0 34v1m2 -251v1m0 4v1m2 244v1m0 1v1m0 22v1m0 114v1m2 -356v1m0 368v1m2 -387v1m0 245v1m0 148v1m2 -384v1m0 21v1m0 356v1m2 -162v1m0 1v2m0 32v2m0 2v1m2 -231v1m0 5v1m0 166v1m0 8v1m0 15v2m0 2v1m0 38v1m0 110v1m2 -392v1m0 10v1m0 25v1m0 190v1m0 31v1m0 20v2m2 -18v2m0 1v1m0 4v2m2 -59v1m2 -236v1m0 2v1m0 219v1m2 -211v1m0 2v1m0 223v1m0 140v1m2 -155v1m0 23v1m0 134v2m2 -363v1m0 176v2m0 14v1m0 40v1m2 -60v1m0 13v1m0 3v1m0 8v1m2 4v1m0 41v1m2 -242v1m0 6v1m0 197v1m0 2v1m0 186v1m4 -366v1m0 182v1m0 13v1m0 33v2m0 14v1m0 121v1m2 -363v1m0 190v1m2 -196v1m0 221v2m0 10v1m0 12v1m0 106v1m2 -394v1m0 283v1m2 -82v2m0 74v1m0 1v2m0 4v1m0 11v1m0 86v1m4 -359v1m2 -21v1m0 11v1m0 251v1m0 124v1m2 -392v2m0 220v1m0 24v1m2 0v1m2 -256v1m0 24v1m0 210v1m0 8v1m0 51v1m0 98v1m2 -160v1m0 7v1m0 2v1m0 14v1m2 22v2m2 -243v2m0 2v1m0 1v2m0 139v1m0 4v2m0 5v1m0 8v1m0 66v2m0 7v1m2 -226v1m0 147v1m0 153v1m0 21v1m4 -319v1m0 91v2m0 30v2m0 37v1m0 35v1m0 92v1m2 -173v2m0 44v1m2 -223v1m0 169v1m0 39v1m2 -225v2m0 122v1m0 113v1m4 -252v1m0 261v1m0 130v1m2 -192v1m0 4v2m0 3v1m0 38v2m0 5v1m0 137v1m2 -394v1m0 239v2m2 -237v1m0 9v1m0 204v1m2 -196v1m0 7v2m0 66v2m0 2v2m0 13v2m0 25v1m0 19v1m0 30v1m0 46v1m0 10v2m0 84v1m2 -329v1m0 1v1m0 202v1m0 9v1m0 26v1m0 1v1m2 -5v1m0 141v1m2 -369v1m0 190v1m0 2v1m0 45v1m2 -35v1m0 3v1m0 28v1m2 -122v1m0 3v1m0 17v2m0 98v2"/>
<path stroke="#0073ff" d="M134 210v1m0 232v1m0 117v1m2 -390v1m0 243v2m0 5v1m0 19v1m0 7v1m0 8v2m0 112v1m2 -417v1m0 2v2m0 15v1m0 43v1m0 3v1m0 4v1m0 196v1m0 22v1m0 6v2m0 11v1m2 -308v1m0 11v1m0 39v1m0 163v1m0 25v1m0 13v2m0 25v1m2 -272v1m0 6v1m0 13v1m0 4v1m0 12v1m0 211v1m0 13v1m0 129v1m2 -160v2m2 -252v1m0 11v1m0 6v2m0 12v1m0 219v1m0 8v2m0 18v1m0 123v1m0 22v1m2 -429v1m0 45v1m0 172v1m0 8v1m0 7v1m0 22v1m2 -225v2m0 3v1m0 204v2m0 34v2m0 4v1m2 -260v1m0 11v1m0 15v1m0 212v1m0 160v1m2 -171v1m0 10v1m0 177v1m2 -156v1m0 140v1m2 -398v1m0 1v4m0 252v1m0 8v1m0 156v1m2 -399v1m0 214v1m0 15v1m2 -237v1m2 221v1m0 177v2m2 -181v1m0 23v4m0 141v1m2 -175v1m0 8v1m4 -205v1m0 208v3m0 17v2m2 -35v1m0 10v1m2 -210v1m0 191v1m0 32v1m0 15v1m0 106v1m4 -364v1m0 15v1m2 -34v2m0 12v1m0 204v2m0 4v1m0 11v1m0 8v1m2 -244v1m0 239v1m0 18v1m2 -43v1m0 23v1m0 1v1m0 15v1m2 -253v1m0 9v1m0 336v1m2 -152v1m0 3v1m0 34v1m2 -238v1m0 184v1m0 8v1m0 3v1m0 23v1m0 4v2m0 10v2m0 123v1m2 -350v1m0 153v1m0 7v1m0 17v1m0 39v2m0 120v1m2 -357v1m0 360v1m2 -393v1m0 38v2m0 164v2m0 4v1m0 7v1m0 21v2m0 12v1m2 -253v1m0 33v1m0 153v1m0 218v1m2 -413v1m0 6v3m0 36v2m0 171v1m0 4v1m0 197v1m4 -407v1m0 17v1m0 1v1m0 203v1m0 28v1m2 -40v1m0 52v2m2 -24v1m0 37v1m2 -261v1m0 263v1m2 -229v1m0 362v1m2 -395v1m0 11v1m0 290v1m0 3v2m2 -71v1m0 33v1m0 33v1m0 50v1m0 28v1m2 -340v1m0 257v1m0 3v1m0 24v1m0 20v2m0 13v1m2 -396v1m0 18v1m0 47v1m0 268v2m0 5v1m0 43v1m2 -435v2m0 81v1m0 127v2m0 18v2m0 10v2m0 4v1m0 54v1m0 3v1m0 52v1m0 40v1m0 8v2m2 -390v1m0 71v1m0 122v1m2 -220v1m0 14v1m0 247v1m2 -50v1m0 51v1m0 149v1m0 7v1m2 -405v1m0 217v1m0 13v2m0 19v1m0 155v1m2 -355v1m0 181v1m0 21v1m2 -4v1m0 170v1m2 -404v1m0 12v1m2 -4v1m0 226v1m0 20v1m2 -47v2m0 10v1m2 -215v1m0 8v1m0 180v2m0 3v1m0 50v1m0 9v1m0 109v1m2 -180v1m0 66v2m0 5v1m2 -75v1m0 12v1m0 7v1m0 18v1m2 -227v1m0 11v1m0 183v1m0 166v1m2 -181v1m0 184v1m2 -378v1m0 204v1m0 6v1m2 -184v1m0 177v1m0 12v1m2 -218v1m0 201v1m0 15v1m0 2v1m2 -2v1m0 179v1m2 -188v2m0 6v1m0 28v1m0 167v1m2 -396v1m2 -154v1m0 16v1m0 36v2m0 29v1m0 4v2m0 82v2m0 49v1m0 31v1m0 9v1m0 1v2m0 28v1m0 24v1m0 77v1m0 12v1m0 9v3m0 1v2m0 95v1m0 1v2m0 4v1m0 22v1m0 14v2m0 13v1m0 114v1m4 -534v1m0 22v1m0 230v1m0 5v2m0 95v1m2 -346v1m0 224v1m0 30v1m0 94v2m0 1v1m0 44v1m2 -394v1m0 268v1m0 112v1m2 -215v1m0 45v1m0 57v1m0 12v1m0 30v1m0 4v1m0 22v1m0 15v1m0 4v2m2 -110v1m0 63v1m2 -321v1m0 44v1m0 201v1m0 67v1m0 2v1m0 19v1m0 5v1m2 -380v1m0 90v1m0 4v1m0 23v2m0 123v1m0 2v2m0 5v1m0 8v2m0 33v1m0 34v1m2 -311v1m0 154v1m0 139v1m0 2v1m0 47v1m2 -391v1m0 19v1m0 237v1m0 12v1m2 -60v1m0 21v1m2 -232v1m0 220v2m0 161v1m2 -150v1m0 10v2m0 15v1m0 114v1m2 -379v1m0 198v1m2 -9v1m0 42v1m0 129v1m2 -374v1m0 231v1m2 -260v1m0 35v1m0 166v1m0 37v1m0 7v1m0 6v1m0 142v1m2 -373v1m0 26v1m0 145v1m0 225v1m2 -38v1m2 -374v1m0 184v2m0 2v2m0 35v1m0 172v1m0 10v1m2 -427v1m0 4v1m0 406v1m2 -390v1m0 189v1m0 7v2m0 10v1m0 43v2m0 156v1m0 4v2m2 -22v1m0 5v1m0 15v1m0 17v1m2 -218v1m0 43v1m0 152v1m0 12v1m2 -406v1m0 23v1m0 186v1m0 166v1m2 -110v2m2 -266v1m0 323v2m0 5v1m0 8v2m0 2v1m2 -336v1m0 19v1m0 207v1m0 20v1m2 -25v1m0 40v1m0 16v2m0 47v1m0 30v1m0 5v1m2 -424v1m0 287v1m0 2v1m0 38v1m0 87v1m2 -441v2m0 6v1m0 190v2m0 1v1m0 8v2m0 2v1m0 3v2m0 68v1m0 18v1m2 -283v1m0 199v1m0 12v1m0 117v1m2 -269v1m0 199v1m0 29v1m0 1v1m2 -287v1m0 5v1m0 14v1m0 195v1m0 58v2m2 -51v1m0 177v1m2 -406v1m0 24v1m0 202v1m2 -224v2m0 42v1m0 2v1m2 231v1m2 -223v1m0 378v1m2 -394v1m0 6v1m0 201v1m0 15v1m0 22v1m0 3v1m0 3v1m2 -240v1m0 196v1m0 116v1m0 34v1m2 -186v1m0 13v1m0 30v1m0 30v1m0 2v2m2 -257v2m0 45v1m0 285v1m2 -378v1m0 89v1m0 175v1m0 124v2m2 -354v1m0 16v2m0 12v1m0 131v1m0 10v1m0 15v1m4 -219v1m0 240v1m2 -24v2m0 165v1m2 -161v1m0 168v1m2 -177v1m0 199v1m2 -383v1m0 48v1m0 335v1m2 -403v1m0 226v1m2 -217v1m0 11v1m0 49v1m0 141v1m0 3v1m0 29v1m0 9v1m0 7v1m0 98v1m2 -346v1m0 10v1m0 3v1m0 190v1m0 25v2m2 -259v1m0 257v1m2 -235v1m0 3v1m0 226v1m0 114v1m0 24v1m2 -151v1m0 111v1m2 -247v1m2 -214v2m0 111v1m2 -116v1m0 29v2m0 6v2m0 57v1m0 126v1m0 56v2m0 32v1m2 -314v1m0 11v2m0 25v1m0 14v1m0 210v1m0 14v1m0 29v1m0 104v1m0 56v1m2 -455v1m0 4v1m0 20v2m0 5v1m0 24v1m0 22v1m0 133v1m0 16v1m0 16v2m0 7v1m0 1v1m0 20v2m2 -242v1m0 25v1m0 14v1m0 123v1m0 5v2m2 -160v1m2 -19v1m0 191v1m0 43v1m0 153v2m2 -391v1m0 11v1m0 169v1m0 15v1m0 44v1m2 -33v3m0 32v1m0 161v1m2 -204v1m0 14v1m0 24v1m0 14v2m2 -260v2m0 1v1m0 5v1m0 206v1m0 4v1m0 33v1m2 -238v1m0 24v1m0 176v1m0 36v1m0 6v1m0 3v1m0 5v2m0 2v1m2 -59v1m0 47v1m0 9v2m0 149v1m2 -186v1m0 6v1m0 20v1m2 -344v1m0 19v1m0 300v2m0 112v1m0 64v1m2 -394v1m0 23v1m0 215v1m0 93v1m2 -398v1m0 39v1m0 31v1m2 -18v1m0 171v1m0 20v1m0 3v1m0 43v1m0 114v1m0 30v1m2 -421v2m0 251v1m0 128v1m4 -352v1m0 186v1m0 8v1m0 179v1m2 -399v1m0 7v1m0 2v1m0 18v1m0 10v1m0 131v1m0 22v1m0 41v1m2 172v1m2 -368v1m0 2v1m0 181v1m0 171v1m0 1v1m0 7v1m2 -396v1m0 24v1m0 3v1m2 -20v2m0 219v1m0 2v2m2 -234v1m0 234v1m0 4v1m2 -30v1m0 28v1m2 -243v3m2 -10v1m0 258v1m0 142v1m2 -1v1m0 35v2m4 -408v1m0 224v1m0 4v1m0 14v2m2 -250v1m0 22v1m0 177v1m0 25v1m0 145v1m0 51v1m2 -173v1m2 -251v1m0 17v1m0 221v1m0 160v1m2 -383v1m0 388v1m2 -241v1m0 31v1m0 57v1m0 152v1m2 -390v2m0 161v2m0 82v1m0 86v1m0 10v1m0 12v3m0 3v1m0 3v1m2 -349v2m0 140v1m0 4v1m0 42v1m0 32v1m0 2v1m0 118v1m2 -343v1m0 137v1m0 4v1m0 59v1m2 -217v1m0 21v1m0 2v1m0 127v1m0 39v1m0 2v1m0 8v2m0 28v1m2 -239v1m0 7v1m0 149v1m0 3v1m0 1v3m0 61v1m0 106v1m2 -345v1m0 184v1m0 3v1m0 55v2m2 -262v1m0 8v2m0 14v1m0 17v1m0 150v1m0 46v1m0 20v1m0 14v1m0 87v1m2 -399v1m0 25v1m0 1v1m0 18v1m0 29v1m0 7v1m0 136v1m0 22v2m0 54v1m0 3v1m0 3v1m0 88v1m2 -350v1m0 44v1m0 143v1m0 61v1m0 69v1m0 18v1m0 8v1m2 -351v1m0 42v1m0 149v2m0 11v1m0 43v1m0 68v1m0 5v1m0 2v1m0 21v1m2 -347v1m2 -48v1m0 63v1m0 141v2m0 6v1m0 81v1m0 43v1m2 -381v1m0 18v2m0 42v1m0 33v2m0 5v1m0 3v1m0 324v1m2 -434v3m0 1v1m0 108v1m0 2v1m0 1v1m0 74v1m0 5v1m0 20v2m0 3v1m2 -205v2m0 6v1m0 1v1m0 77v1m2 -69v1m0 60v1m0 112v1m0 25v1m0 152v2m0 1v1m2 -367v1m0 198v1m2 -197v1m0 1v1m0 26v1m0 37v1m0 4v1m0 126v1m0 3v1m0 195v1m2 -334v1m2 -84v2m2 23v1m0 225v1m0 162v1m2 -181v1m2 -207v1m2 -9v1m0 18v1m2 -15v1m0 229v1m0 4v1m4 -215v1m0 379v1m2 -160v1m2 -241v1m2 234v1m0 6v1m2 146v1m4 -373v1m0 1v1m0 386v1m0 6v1m2 -8v1m0 10v1m2 -37v1m4 -126v1m0 131v1m0 40v1m2 -190v2m0 26v1m0 107v1m0 29v1m0 5v1m2 -195v1m0 8v1m0 42v1m0 102v1m0 5v1m0 9v1m0 32v1m0 9v1m2 -152v1m0 87v1m4 -178v2m0 8v1m0 2v1m0 6v1m0 34v1m0 133v1m0 7v1m2 -391v1m0 5v1m0 182v2m0 91v1m2 -243v1m0 6v1m0 180v1m0 5v1m2 -232v1m0 46v1m0 15v1m0 135v1m0 26v2m0 9v3m0 58v1m0 5v1m0 82v1m2 -414v1m0 42v1m0 191v1m2 -227v1m0 218v2m0 6v1m2 -130v1m0 154v1m2 -27v1m0 54v1m0 130v1m2 -175v1m0 164v1m2 -381v1m0 212v1m0 12v1m0 16v2m2 -27v1m0 2v1m2 -225v1m0 210v1m0 18v1m0 152v1m4 -158v2m0 182v1m2 -392v1m0 226v1m2 3v2m0 2v2m2 -237v1m0 375v1m0 21v1m2 -383v1m4 194v2m0 36v1m2 -25v1m0 100v1m2 -296v1m0 152v1m0 50v1m0 106v1m2 -186v1m0 19v1m0 49v1m0 7v1m2 -264v1m0 190v2m0 6v2m2 -213v1m0 385v1m2 -382v1m0 221v1m2 3v1m0 14v1m2 8v2m0 138v1m2 -172v1m0 35v1m0 145v1m2 -177v1m0 178v1m2 -166v1m2 44v1m2 121v1m2 -383v1m0 212v1m0 9v1m0 21v1m0 134v1m4 -139v1m4 -27v1m4 153v1m2 -179v1m0 5v2m0 13v1m0 13v1m2 -31v1m0 23v1m2 -26v1m2 151v2m0 13v1m4 -163v2m0 168v1m2 -377v1m0 379v1m2 -143v1m0 158v1m2 -400v1m0 238v1m0 136v1m0 11v1m0 5v1m2 -169v1m2 -11v1m0 8v1m0 11v1m4 -230v1m0 2v1m0 377v1m2 -16v1m2 -158v1m0 16v1m0 163v1m2 -174v1m0 164v1m0 3v1m2 -180v1m0 190v1m2 -395v1m2 222v1m0 16v1m0 137v1m0 9v1m2 -180v1m0 10v1m4 -214v1m2 2v1m0 189v1m0 20v1m2 -222v1m0 11v1m0 203v1m0 3v1m0 6v1m0 132v1m2 -138v1m2 -9v1m2 17v1m0 137v1m2 -156v1m0 12v1m2 -222v1m0 208v1m2 -202v1m0 200v1m2 12v1m0 4v1m2 -13v1m2 -237v1m0 231v1m2 136v1m4 21v1m0 3v1m4 -395v1m0 204v1m0 46v1m4 -3v1m2 -222v1m0 221v1m0 144v1m2 -368v1m0 237v1m2 -47v2m0 16v1m0 37v1m2 -255v1m2 245v2m0 8v1m0 106v1m2 -381v1m0 212v1m0 18v1m2 -31v1m0 7v1m0 37v1m0 140v1m2 -384v1m0 13v1m0 229v1m0 134v1m2 -359v1m0 202v2m2 -227v1m0 242v1m2 0v1m0 4v1m0 6v1m0 152v1m2 -405v1m0 248v1m2 156v1m2 -403v1m0 7v1m0 237v1m2 -221v1m0 181v1m0 2v1m0 5v1m0 4v1m0 22v1m0 127v1m2 -350v1m0 191v1m0 23v1m0 137v1m2 -349v1m0 178v2m0 147v1m2 -160v1m0 32v1m2 -10v1m2 -230v1m0 14v1m0 178v1m2 18v1m2 -212v1m0 167v1m0 3v1m0 7v1m0 177v1m2 -362v1m0 194v2m0 18v1m0 5v1m0 133v1m2 -376v1m0 8v1m2 200v1m0 2v1m0 29v1m4 1v1m0 3v1m2 -224v1m0 1v1m0 198v1m0 10v1m0 12v1m0 125v1m2 -165v1m0 5v1m0 36v1m2 -49v2m2 4v1m0 22v1m0 151v1m0 10v1m0 4v1m2 -395v1m0 391v1m2 -194v1m0 22v1m0 188v1m2 -179v1m2 -194v1m0 190v1m0 44v1m0 4v1m2 -265v1m0 3v1m0 224v1m0 6v1m0 132v1m0 25v1m2 -375v1m0 180v1m0 3v2m0 45v1m0 1v1m2 -249v1m0 25v1m2 -1v1m0 163v1m0 45v1m0 106v1m2 -118v1m0 113v1m2 -376v1m0 8v1m0 203v1m0 158v1m2 -377v1m0 219v1m0 15v3m2 -236v1m0 197v1m0 56v1m2 -258v2m0 4v1m0 200v1m2 -212v1m0 10v1m0 207v1m0 1v1m0 33v1m0 124v1m2 -382v1m0 7v1m0 20v1m0 376v1m2 -380v1m0 183v1m0 6v1m2 -186v1m0 230v2m2 -231v1m2 -16v1m0 14v1m0 1v1m0 1v1m0 165v1m0 49v1m0 15v1m0 8v2m2 -262v1m0 397v1m2 -191v2m0 2v2m0 28v1m0 20v1m2 -272v1m0 224v1m0 37v1m0 19v1m2 -256v1m0 207v2m0 17v1m2 -246v1m0 14v1m0 8v1m0 189v2m0 7v1m0 14v1m2 -21v1m0 35v2m0 6v2m2 -265v1m0 7v1m0 233v1m2 -231v1m0 7v1m0 205v1m0 37v1m0 117v1m0 16v1m0 16v1m2 -196v1m0 36v1m2 -237v1m0 239v1m2 10v1m4 -270v1m0 181v1m0 95v1m0 31v1m0 54v1m2 -298v2m0 177v1m0 9v1m0 7v1m0 7v1m0 34v1m2 -108v1m2 -205v1m0 19v1m0 179v1m0 14v1m0 18v2m0 122v2m2 -376v1m0 25v1m0 174v1m4 -174v1m0 201v1m2 -194v1m0 2v1m0 195v1m0 14v2m0 8v1m0 133v1m4 -342v1m0 188v1m0 30v2m2 -242v1m0 16v1m0 178v2m0 3v1m0 19v1m0 25v1m0 7v1m2 103v1m0 9v1m2 -180v1m0 15v1m0 151v1m2 -378v1m0 220v1m0 20v1m0 129v1m2 -379v2m0 213v1m0 8v1m0 16v3m0 8v1m0 5v1m0 104v1m2 -365v1m0 239v1m0 5v2m2 -261v1m0 7v1m0 15v1m0 9v1m0 211v1m2 -38v1m0 42v1m2 -62v1m0 6v1m0 1v1m0 4v1m0 19v1m0 38v1m0 133v1m0 15v1m0 1v1m2 -417v2m2 15v1m0 213v1m2 200v1m2 -398v1m0 224v1m0 24v1m0 136v1m2 -355v1m0 193v1m0 30v1m0 121v1m2 -361v1m0 205v1m0 8v1m0 40v1m0 2v1m2 -249v1m0 225v1m2 -62v2m0 78v2m2 103v1m2 -166v2m0 16v2m0 155v1m2 -192v1m0 21v1m0 13v1m0 9v1m0 15v1m2 -22v1m2 5v1m0 149v1m2 -170v1m0 7v1m0 22v1m2 -250v1m0 241v1m2 -22v1m2 -43v1m2 -200v1m0 21v1m0 36v1m0 301v1m0 5v1m2 -347v1m0 82v1m0 266v1m2 -358v1m0 19v1m0 115v2m0 162v2m0 40v1m2 -161v1m0 27v1m0 16v1m0 118v2m2 -182v1m0 11v1m2 -37v1m0 67v1m2 -238v1m0 11v1m0 134v2m0 28v1m0 12v1m0 4v2m0 12v1m0 3v1m0 22v1m0 151v1m0 8v1m2 -385v1m2 191v1m0 11v1m0 44v1m4 -49v1m2 -213v1m0 92v1m0 15v1m0 3v1m0 37v1m0 57v2m0 34v1m0 63v2m2 -295v1m2 377v1m2 -361v1m0 204v1m0 1v1m0 30v1m2 -257v1m0 2v1m0 167v1m0 20v1m0 22v1m0 164v1m2 -254v1m0 51v1m0 24v1m0 8v2m0 19v1m0 16v1"/>
<path stroke="#0096ff" d="M134 216v1m0 175v1m0 7v2m0 16v1m2 -29v1m0 3v1m0 7v1m0 24v1m0 21v1m0 120v1m2 -396v1m0 3v1m0 3v1m0 28v1m0 8v1m0 3v1m0 180v1m0 12v1m0 42v1m0 114v1m2 -399v1m0 19v1m0 1v1m0 12v1m0 5v1m0 160v1m0 30v2m0 1v1m0 7v1m0 3v1m2 -247v2m0 15v1m0 6v2m0 24v1m0 208v1m0 138v1m2 -405v1m0 16v1m0 14v1m0 13v1m0 169v1m0 11v1m0 36v2m2 -211v1m0 226v1m0 110v1m2 -395v1m0 7v1m0 1v2m0 36v1m0 166v1m0 16v3m2 -10v2m0 12v1m0 3v1m0 34v1m0 2v2m2 -261v1m0 20v1m0 209v2m2 -230v1m0 28v1m0 202v1m0 18v1m2 -251v1m0 21v1m0 206v1m0 24v2m0 4v1m0 160v1m2 -421v1m0 271v1m4 -11v2m2 -243v1m0 12v1m0 9v1m0 209v1m2 -13v2m0 36v1m0 120v1m0 18v1m2 -380v1m0 204v1m0 1v1m2 -216v1m2 210v1m0 155v1m0 1v1m2 -373v1m0 211v2m0 145v1m2 -8v1m4 -352v1m0 7v1m0 211v1m0 123v1m2 -358v2m0 9v1m0 12v1m0 178v1m0 24v3m2 -220v1m0 214v1m0 4v1m0 2v1m0 122v1m2 -126v1m0 5v1m0 6v1m0 96v1m0 15v1m2 -362v1m0 235v1m2 -223v1m0 219v1m0 127v1m2 -367v2m0 3v1m0 185v2m2 7v1m2 -222v1m0 22v1m0 3v1m0 152v2m0 18v2m0 16v1m0 16v1m0 159v1m2 -415v2m0 56v1m0 164v2m0 13v1m0 23v1m0 3v1m2 -217v1m0 179v1m0 4v1m0 23v2m2 -248v1m0 36v1m0 181v1m0 10v1m2 29v1m0 165v1m2 -411v1m0 2v1m0 206v3m0 52v1m2 5v1m0 4v1m0 2v1m0 134v1m4 -391v1m0 18v1m0 210v2m0 168v1m0 6v1m2 -403v1m0 4v1m2 -6v1m0 10v1m0 6v1m0 214v2m0 27v1m0 20v1m0 90v1m2 -106v1m0 11v2m0 5v1m0 63v1m2 -353v1m0 208v1m0 1v1m0 65v2m0 2v3m0 9v2m0 33v1m2 -335v2m0 4v1m0 17v2m0 167v1m0 99v1m2 -306v1m0 158v2m0 13v1m0 8v2m0 5v1m0 3v1m0 6v1m0 45v1m0 3v1m0 98v1m0 9v1m0 21v1m2 -440v1m0 83v1m0 22v1m0 138v1m0 133v2m2 -335v1m0 27v1m0 168v2m0 24v1m0 2v1m0 7v1m0 6v2m2 -215v1m0 202v1m0 138v1m2 -391v1m0 244v1m0 155v1m0 6v1m2 -381v1m2 -14v1m0 212v1m0 3v1m0 173v1m0 11v1m2 -386v1m0 381v1m2 -180v1m0 175v1m2 -384v1m0 21v1m0 180v1m0 9v1m0 2v1m0 18v1m2 -208v1m0 1v1m0 177v1m2 -5v2m0 36v1m0 109v1m2 -364v1m0 6v2m0 34v1m0 186v1m0 4v1m2 -248v1m0 38v1m0 198v1m2 -243v2m0 24v1m0 191v1m0 10v1m0 24v1m0 136v1m2 -173v1m0 200v1m2 -186v1m0 181v1m6 -372v1m0 212v1m2 25v1m0 130v1m2 -507v1m0 16v1m0 28v2m0 10v2m0 49v1m0 2v1m0 64v1m0 16v3m0 3v1m0 13v2m0 2v2m0 23v1m0 44v1m0 18v1m0 141v2m0 49v1m0 18v1m0 14v1m0 13v1m0 41v1m0 1v2m0 42v2m0 6v2m0 5v1m0 7v1m4 -489v1m2 208v1m0 28v1m0 96v1m0 28v1m2 -365v1m0 223v1m0 52v1m0 46v1m0 5v1m0 46v1m2 -167v1m0 1v1m0 35v1m0 7v1m0 42v1m0 31v1m0 22v1m0 21v2m2 -210v1m0 14v1m0 65v2m0 40v1m2 -323v1m0 2v1m0 183v1m0 9v1m0 104v1m0 19v1m0 1v2m0 13v1m0 3v1m0 7v1m0 2v1m2 -390v1m0 76v1m0 50v2m0 11v1m0 56v1m0 63v1m0 8v1m0 37v1m0 9v2m0 30v2m0 12v1m0 3v1m2 -348v1m0 45v2m0 135v1m0 38v1m0 25v1m0 20v2m0 52v1m0 19v1m0 3v1m2 -364v1m0 11v1m2 201v1m0 28v1m2 -220v1m0 223v1m0 138v1m2 -394v1m0 30v1m0 181v1m0 41v1m2 -250v1m0 24v1m0 208v1m0 139v1m0 19v1m2 -195v1m0 36v1m2 -248v1m2 202v1m0 153v1m0 23v1m2 -199v2m0 2v2m0 36v1m0 5v2m0 140v1m2 -387v1m0 15v1m0 178v1m0 178v1m0 3v1m0 19v1m2 -410v2m0 224v1m0 19v1m0 171v1m2 -163v1m2 -43v1m0 1v1m0 1v1m0 17v1m0 48v1m2 -269v1m0 2v1m0 17v1m0 204v1m0 3v1m2 -206v1m0 15v1m0 194v1m0 174v1m0 12v1m2 -380v1m0 190v1m0 40v1m0 7v1m2 -3v1m0 11v1m0 146v1m2 -386v1m0 291v1m0 61v1m0 41v1m2 -413v1m0 262v1m0 50v1m0 63v1m0 7v1m0 8v1m2 -173v1m0 36v1m0 7v1m0 103v1m0 17v1m2 -369v1m0 200v1m0 45v3m0 9v1m0 56v1m0 9v1m2 -410v1m0 20v1m0 59v1m0 19v1m0 105v1m0 68v2m0 24v2m0 2v1m0 38v1m0 60v1m2 -362v2m0 4v1m0 145v1m0 33v1m0 9v1m0 82v1m0 4v1m0 95v1m2 -353v1m0 5v1m0 140v1m0 67v1m0 15v1m0 131v1m0 5v1m2 -206v1m0 51v1m0 164v1m2 -201v1m0 21v1m0 182v1m2 -205v2m0 182v1m0 11v1m2 -388v1m0 366v1m0 43v1m2 -397v1m0 205v1m0 7v1m0 137v1m2 -366v1m0 13v1m0 5v1m0 207v1m0 3v2m2 -16v1m0 19v1m0 12v1m0 130v1m2 -388v1m0 34v1m0 24v1m0 162v1m0 9v1m0 109v1m2 -144v1m0 11v1m0 4v1m0 6v1m0 44v1m2 -270v1m2 229v1m0 139v1m2 -188v1m2 31v1m0 143v1m0 10v1m2 -388v1m0 16v1m0 224v1m0 146v1m2 -182v1m0 31v2m0 147v1m2 -384v1m0 74v1m0 163v1m0 153v1m2 -368v1m0 219v1m0 134v1m2 -368v1m2 224v2m2 -232v1m0 228v1m2 170v1m0 6v1m2 -387v1m0 199v1m0 37v1m2 -249v1m0 236v1m0 135v1m2 -25v1m2 -350v1m2 -86v1m0 85v1m0 10v1m0 89v1m0 205v1m0 6v1m2 -416v1m0 6v1m0 11v1m0 33v2m0 173v2m0 50v1m0 180v1m2 -472v1m0 26v2m0 77v1m0 1v1m0 113v2m0 6v1m0 43v1m0 45v1m2 -259v1m0 38v1m0 320v1m2 -343v1m0 7v1m0 12v1m0 129v1m0 6v1m2 -2v1m0 66v1m0 166v1m2 -417v1m0 9v1m0 376v1m0 28v1m2 -421v1m0 11v1m0 190v2m0 28v1m0 21v2m0 147v1m0 15v1m2 -204v1m0 1v1m0 17v1m0 182v1m2 -417v1m0 3v1m0 215v1m0 9v1m0 16v2m0 7v1m2 -252v1m0 24v1m0 224v1m0 13v1m0 153v2m2 -387v1m0 186v1m0 190v1m2 -180v1m0 11v1m2 26v1m0 1v1m0 137v1m0 6v1m0 7v1m2 -99v1m0 3v1m0 67v1m0 1v2m2 -451v1m0 32v1m0 35v1m0 14v1m0 17v1m0 284v1m0 26v1m0 48v1m2 -456v1m0 12v1m0 15v1m0 279v1m2 -300v1m0 51v1m0 196v1m2 -52v1m0 22v1m0 15v1m0 3v1m0 25v1m0 7v2m2 -47v1m0 23v1m0 2v1m0 182v1m4 -400v1m0 15v1m0 3v1m0 362v1m2 -375v1m2 2v1m0 25v1m0 193v1m0 152v1m0 6v1m0 5v1m2 -394v1m0 11v1m0 195v2m0 18v1m2 -241v1m0 212v1m0 33v1m0 158v1m4 -402v1m0 30v1m0 372v1m0 3v1m2 -378v1m0 376v1m2 -378v1m0 207v1m0 7v1m0 6v1m0 8v1m2 -233v1m0 398v1m4 -174v1m0 168v1m2 -379v1m0 231v1m0 147v1m2 -396v1m0 2v1m0 234v1m4 126v1m2 -339v1m0 335v1m2 -366v1m0 183v1m0 81v1m0 86v1m2 -316v1m0 140v1m0 33v2m0 21v1m0 23v1m0 3v1m0 4v2m0 1v1m0 90v1m0 4v1m2 -319v2m0 6v2m0 213v1m2 -221v1m0 132v1m0 39v1m0 210v1m2 -442v1m0 45v2m0 16v1m0 147v1m0 43v1m0 5v1m0 4v1m2 -264v1m0 17v1m0 33v1m0 8v1m0 149v1m0 56v1m2 -293v1m0 54v1m0 215v1m0 29v1m2 -238v1m0 7v1m0 187v1m2 -258v1m0 46v2m0 190v1m2 -157v1m0 126v2m0 132v1m2 -272v1m0 132v1m2 11v1m2 -176v2m0 6v2m0 133v1m0 161v1m2 -281v2m0 137v1m0 4v1m2 -239v1m0 13v1m0 72v1m2 -72v1m0 190v1m0 4v1m0 204v1m2 -333v1m0 125v1m0 23v1m0 144v1m2 -178v1m0 11v1m2 -203v1m0 202v2m0 9v1m0 10v1m0 178v1m2 -408v1m0 393v1m2 -392v1m0 235v1m2 -199v1m0 182v1m0 177v1m2 -164v1m2 -228v3m0 221v1m0 19v1m4 150v1m2 -388v1m0 386v1m2 -163v1m2 173v1m2 -398v1m0 9v1m0 253v2m0 129v1m0 3v1m0 8v1m4 -390v1m0 228v1m0 161v1m2 -407v1m0 234v1m0 1v1m2 -227v1m0 229v1m2 -1v1m0 139v1m0 36v1m2 -30v1m0 25v1m2 -51v1m0 8v1m0 6v1m0 5v1m0 30v1m2 -409v1m0 216v1m0 23v1m0 115v1m0 41v1m2 -192v1m0 154v1m0 52v1m2 -197v1m0 38v1m0 2v1m0 168v1m2 -399v1m0 227v1m0 98v1m2 -354v2m0 200v1m0 62v1m0 3v2m2 -292v1m0 11v1m0 190v1m2 -185v1m0 21v1m0 186v1m0 47v2m0 6v1m0 22v1m0 70v1m2 -404v1m0 43v2m0 166v1m0 4v2m0 1v1m0 26v1m0 74v1m0 14v2m2 -271v1m0 9v1m0 18v1m0 130v1m0 19v1m2 -142v1m0 126v1m0 16v1m2 -135v1m0 137v1m2 -233v1m0 210v1m0 10v1m2 0v2m0 6v1m4 25v1m2 -28v1m4 -3v1m0 3v1m2 -215v1m2 -2v1m2 4v1m0 13v1m0 205v2m0 4v1m0 133v2m0 5v2m0 29v1m2 -51v1m0 5v1m2 -6v1m2 -325v1m0 204v1m0 16v1m0 88v1m2 -343v1m0 25v1m0 312v1m0 1v1m2 -373v1m2 62v1m0 149v2m2 -214v1m0 15v1m0 201v1m2 18v1m2 146v1m0 10v1m4 -170v1m0 31v1m0 2v1m2 -38v1m0 16v1m0 14v1m2 -234v1m0 377v1m2 -386v1m2 243v1m0 1v1m2 -240v1m2 242v1m2 -237v1m0 235v1m0 141v1m0 3v1m2 -383v1m0 6v1m0 217v1m0 5v1m0 1v1m2 -230v1m2 195v1m0 5v1m0 2v1m0 10v1m0 4v1m0 18v1m2 -22v1m0 3v1m4 -223v1m0 208v1m0 7v1m2 -232v1m0 3v1m2 9v1m2 -41v1m0 5v2m0 217v1m0 2v1m2 13v1m2 -208v1m0 362v1m2 -135v1m2 -231v1m0 197v1m2 -210v1m0 389v1m0 2v1m2 -172v1m0 172v1m2 -382v1m0 212v1m2 -6v1m2 166v1m6 -148v1m2 -18v1m0 175v1m2 -385v1m0 224v1m0 2v1m4 -232v1m0 208v1m2 -209v1m0 9v1m0 209v1m0 17v1m0 125v1m2 -158v1m4 -202v1m0 174v1m0 4v1m0 8v1m0 5v1m0 160v1m2 -159v1m4 -208v1m0 3v1m0 208v1m0 19v1m2 -237v1m0 220v1m2 0v1m0 15v1m2 146v1m2 -383v1m0 229v1m0 141v1m0 6v1m2 -366v1m2 -31v1m0 231v1m0 4v1m2 -33v1m2 19v1m0 1v1m2 -227v1m0 210v1m0 23v1m2 156v1m2 -396v1m0 3v1m0 8v1m0 199v1m0 11v1m0 25v1m2 -21v1m0 180v1m2 -183v1m0 25v1m2 6v1m2 -236v1m2 14v1m0 190v1m0 45v2m2 -261v2m2 224v1m0 16v3m0 15v1m2 -252v1m0 233v1m2 -243v1m0 196v1m0 38v2m0 10v1m2 -241v1m2 2v1m0 368v1m2 -376v1m0 231v1m0 8v1m2 -247v1m0 13v1m0 205v1m0 182v1m2 -400v1m0 7v1m0 1v1m0 230v1m0 155v1m0 7v1m2 -401v1m0 386v1m0 4v1m2 -183v1m2 -211v1m0 25v1m0 186v1m4 -6v2m2 -3v1m0 146v1m2 -155v1m2 -199v1m0 188v1m2 -202v1m2 -24v1m0 19v1m0 214v1m2 5v1m0 135v1m4 -140v1m0 2v2m2 -236v1m2 237v1m0 3v1m2 -31v1m2 -211v1m0 228v1m2 -220v1m0 218v1m2 160v2m2 -151v3m2 -226v1m2 219v1m0 24v1m0 153v1m2 -408v1m0 31v1m0 217v1m0 7v2m0 13v1m0 127v1m2 -385v1m0 251v1m0 16v2m0 103v1m2 -172v1m0 4v1m0 3v1m0 32v1m0 105v1m0 1v1m4 -382v1m0 219v1m2 -13v1m0 44v1m2 -240v1m0 5v1m0 179v1m0 31v1m0 16v2m0 121v1m2 -374v1m0 210v1m0 12v1m2 -43v1m0 18v1m0 21v1m0 25v1m2 -248v1m0 196v1m0 4v1m2 -217v1m0 218v1m2 -199v1m0 195v1m0 182v1m2 -379v1m0 187v2m0 10v1m0 21v1m0 5v2m2 -234v1m0 11v1m0 182v1m0 2v2m0 34v1m2 -17v1m0 6v1m0 9v1m2 -237v1m0 23v1m0 199v1m0 39v1m2 -268v1m0 13v1m0 211v1m0 5v1m0 21v1m2 -248v1m0 192v1m0 18v1m0 40v2m0 9v1m2 -12v2m2 -44v1m2 -202v1m0 11v1m2 195v1m0 1v1m0 2v1m2 -225v1m0 2v1m0 4v1m0 199v1m0 39v1m2 -245v1m0 224v1m0 13v1m0 2v2m0 2v2m0 1v1m0 8v1m0 119v1m0 14v1m2 -404v1m0 9v1m0 242v1m2 -244v1m0 234v1m2 -227v1m0 2v1m0 243v1m2 -35v1m0 29v1m2 -267v1m0 1v1m0 6v1m0 26v1m0 173v1m0 43v1m0 31v1m0 13v2m0 2v1m2 -298v1m0 204v1m0 51v2m0 33v1m0 22v1m0 43v1m2 -354v1m0 57v1m0 12v1m0 6v1m0 9v1m0 102v1m0 6v1m0 14v1m0 2v1m0 1v1m2 -227v1m0 358v1m2 -370v1m0 207v1m0 47v1m2 -33v1m4 -187v1m0 356v1m2 -365v1m2 24v1m0 194v2m2 -201v1m0 170v1m0 15v1m0 12v1m0 42v1m0 106v1m2 -158v2m0 149v1m2 -378v1m0 14v1m0 206v1m0 29v1m0 15v1m0 96v1m2 -370v1m0 17v1m0 208v1m2 -10v1m0 31v1m2 -269v1m0 7v1m0 215v2m0 20v1m0 5v2m0 12v1m2 -269v1m0 7v1m0 17v1m2 223v1m0 145v1m2 -394v1m0 187v1m0 70v1m2 -258v1m0 16v1m0 12v2m0 194v1m2 -218v1m0 21v1m0 194v1m0 185v1m2 -161v1m0 158v1m2 -394v1m0 2v4m0 12v1m0 13v1m0 193v1m0 17v1m2 -203v1m0 193v1m0 23v1m0 2v1m4 -26v2m0 26v1m0 13v1m0 8v1m0 3v1m0 93v1m2 -178v1m0 6v1m0 46v1m0 5v2m0 116v1m0 3v1m2 -376v2m0 380v1m2 -170v1m0 18v1m0 2v1m0 140v1m2 -372v1m0 2v1m0 185v1m0 2v1m0 15v1m0 169v1m2 -389v1m0 244v1m0 145v1m2 -385v1m2 -4v1m0 4v1m0 217v1m0 20v1m0 4v1m2 -2v1m2 -240v1m0 199v1m0 33v1m0 1v1m0 6v1m0 127v1m2 -342v2m0 221v2m0 5v1m2 -263v1m0 2v1m0 33v1m0 9v1m0 190v1m0 6v1m0 3v1m0 97v1m0 18v1m2 -287v1m0 252v1m0 13v1m2 -392v2m0 109v1m4 -69v1m0 159v1m0 5v1m0 4v3m0 43v1m2 -100v1m0 19v1m2 -163v1m0 95v1m0 55v2m0 26v2m2 45v1m0 5v1m0 13v1m0 141v1m2 -165v1m0 9v1m0 2v1m0 4v1m2 -14v1m0 155v1m2 -379v1m0 199v2m2 -109v1m0 18v2m0 30v2m0 41v1m2 44v2m0 140v1m2 -354v1m0 211v1m2 17v1m0 7v1m2 -260v1m0 179v2m0 202v1m2 -177v1m0 27v2"/>
<path stroke="#00baff" d="M134 176v1m0 35v1m0 5v1m0 174v1m0 33v1m0 19v1m0 114v1m2 -151v2m0 5v1m0 27v2m0 3v2m2 -254v1m0 211v3m0 14v1m0 8v1m0 4v3m2 -244v2m0 190v1m0 4v1m0 14v1m0 3v1m0 3v1m0 3v1m0 15v1m2 -249v1m0 188v1m0 4v3m0 19v1m0 12v1m0 5v1m0 153v1m0 2v1m2 -187v2m0 5v1m2 -233v1m0 9v2m0 35v1m0 200v1m0 15v1m0 134v1m2 -355v1m0 10v1m0 186v1m0 26v1m0 133v1m2 -389v1m0 27v1m0 9v1m0 1v1m0 172v2m0 16v1m0 1v2m0 26v1m2 -255v1m0 18v1m0 215v1m0 20v1m0 136v1m2 -369v1m0 7v1m0 201v1m0 1v1m0 14v1m0 163v1m2 -415v1m0 1v1m0 28v1m0 199v1m0 28v1m0 142v1m0 15v1m2 -407v1m0 24v1m0 218v1m2 -249v2m2 12v1m0 12v1m0 194v1m0 28v2m2 -222v1m0 4v1m0 217v1m2 -29v1m0 4v2m0 30v2m0 1v1m0 2v1m0 125v1m0 4v1m0 7v1m2 -151v1m2 -237v1m0 245v1m2 -247v1m0 243v1m0 136v1m2 -161v1m2 -22v1m0 153v1m2 -358v1m0 360v1m0 8v1m2 -364v1m0 216v1m0 137v1m2 -369v1m0 212v1m2 -216v1m0 185v1m0 11v1m0 51v1m2 -49v1m0 41v1m2 -247v1m0 9v1m0 191v2m0 9v1m0 19v2m2 -232v1m0 10v1m2 1v1m0 175v1m0 39v1m0 2v1m0 5v1m2 -58v1m0 34v1m0 1v1m0 142v1m2 -396v1m0 48v1m0 159v2m0 182v1m2 -193v2m0 46v2m0 144v1m0 8v1m2 -397v1m0 213v1m0 25v1m2 -240v1m0 209v1m0 10v1m0 18v1m2 -206v1m2 -14v1m0 252v1m2 -267v1m0 2v1m0 205v1m0 57v1m0 7v1m2 -247v1m0 200v1m0 8v2m0 9v1m0 165v2m2 -380v1m0 6v1m0 233v2m0 139v1m2 -127v1m0 124v1m2 -173v1m0 72v1m0 104v1m2 -376v1m0 219v1m0 35v1m0 12v2m0 5v1m0 9v1m2 -267v1m0 165v1m0 4v1m0 1v1m0 87v2m2 -337v2m0 25v1m0 45v1m0 145v1m0 80v1m0 6v2m0 52v1m0 10v1m0 3v1m2 -317v1m0 192v1m0 12v1m0 104v1m2 -197v2m0 12v1m0 9v2m0 154v2m0 18v1m2 -401v1m0 10v1m0 180v2m0 20v1m0 37v1m0 7v1m2 -49v1m0 6v1m2 -217v1m0 218v1m0 3v1m2 -209v1m0 400v1m2 -397v1m0 31v1m0 205v1m0 146v1m0 15v1m2 -398v1m2 22v1m0 175v1m0 5v1m0 44v1m0 130v1m2 -352v1m0 341v1m2 -344v1m0 8v1m0 179v1m0 16v1m0 19v1m2 8v1m0 97v1m2 -364v1m0 4v1m0 182v1m0 42v1m2 -244v1m0 6v1m0 190v2m2 -203v1m0 43v1m0 176v1m0 3v2m0 3v1m0 159v1m0 11v1m2 -359v1m0 173v1m2 -221v1m0 225v1m0 9v1m0 3v1m0 9v1m0 168v1m2 -403v1m0 409v1m6 -408v1m2 -98v3m0 12v1m0 16v1m0 8v2m0 36v1m0 41v1m0 12v1m0 42v2m0 6v2m0 13v1m0 8v2m0 27v1m0 35v1m0 4v1m0 12v2m0 47v1m0 31v1m0 24v1m0 19v1m0 69v2m0 8v1m0 48v2m0 29v1m0 35v1m0 19v1m0 12v2m2 -544v2m0 45v1m0 195v1m0 192v1m0 1v1m2 -188v2m0 37v1m0 144v1m2 -418v1m0 399v1m2 -372v1m0 230v1m0 100v1m0 4v1m2 -74v2m0 10v2m0 12v1m0 11v1m0 66v1m2 -334v1m0 214v1m0 50v1m0 27v1m2 -350v1m0 324v1m0 9v1m0 17v1m2 -393v1m0 6v1m0 46v1m0 20v1m0 2v1m0 16v2m0 97v2m0 6v3m0 1v2m0 45v1m0 5v1m0 94v2m0 18v2m0 23v1m2 -405v1m0 46v1m0 157v1m0 41v1m0 9v1m0 1v2m0 17v1m0 15v1m0 2v1m0 89v1m0 16v1m2 -183v1m0 7v1m0 15v1m0 7v1m2 -234v1m0 200v1m0 2v1m2 -211v1m0 237v1m0 15v1m2 -265v2m0 220v2m0 12v1m0 21v2m0 118v1m2 -162v1m0 3v1m0 15v1m0 7v1m0 124v1m0 9v1m2 -15v1m0 32v1m2 -404v1m0 21v1m0 202v1m2 -243v2m0 218v1m0 17v1m0 151v1m0 1v1m2 -183v1m2 -14v1m0 9v1m0 1v1m0 3v1m0 19v1m0 150v1m0 1v1m4 -386v1m0 247v1m2 -247v1m0 46v1m0 222v1m0 2v1m0 5v1m0 3v1m2 -51v1m0 193v1m0 6v1m2 -402v1m2 -9v1m0 9v1m0 12v1m0 239v2m2 -24v1m0 23v1m0 9v1m2 -258v1m0 14v1m0 1v1m0 5v1m0 311v1m2 -79v1m0 3v2m0 73v1m0 49v1m0 2v1m2 -386v1m0 8v1m0 234v1m0 87v1m0 4v1m0 32v1m2 -430v1m0 11v1m0 283v2m0 9v1m0 2v1m2 -319v1m0 8v2m0 92v1m0 187v1m0 21v1m2 -259v1m0 2v1m0 183v1m2 -178v1m0 3v2m0 163v1m0 189v1m0 2v1m0 19v1m2 -415v1m0 403v1m0 5v1m0 8v1m0 6v1m2 -174v1m2 -220v1m0 238v1m0 169v1m2 -183v1m2 20v1m2 -249v1m0 17v1m0 215v1m2 -235v1m0 397v1m0 14v1m2 -193v2m0 11v1m0 26v2m0 140v1m2 -350v1m0 140v1m0 15v1m0 6v1m0 43v1m0 2v2m0 9v1m0 93v1m4 -373v1m0 229v1m0 6v1m0 111v1m2 -379v1m0 26v1m0 7v1m0 166v1m0 182v1m0 15v1m2 -154v2m2 -235v1m0 230v2m2 -221v1m0 218v1m0 2v1m2 151v1m2 -383v1m0 20v1m0 4v1m0 197v1m0 20v1m0 2v1m0 157v1m0 1v1m2 -27v1m0 21v2m2 -394v1m0 11v1m0 237v1m0 151v1m0 1v1m2 -379v1m0 225v1m2 -218v1m0 46v1m2 153v1m2 -214v1m0 221v1m0 137v1m2 -21v2m2 -352v1m0 88v1m0 125v1m0 3v1m0 91v1m0 6v1m0 38v1m2 -445v2m0 70v1m0 358v2m0 11v1m2 -466v1m0 30v1m0 8v1m0 4v2m0 195v1m0 15v1m2 -223v1m0 61v1m0 2v1m0 149v1m0 17v1m0 34v2m0 108v1m2 -342v1m0 159v1m0 5v1m0 2v1m0 45v1m0 126v1m2 -339v1m0 3v1m2 156v1m0 4v1m0 12v2m0 28v1m0 1v2m2 -14v2m0 161v1m0 1v1m2 -396v1m0 391v1m2 -188v1m2 -202v1m0 3v1m0 211v1m0 37v1m2 -223v1m0 196v1m0 28v2m4 -234v1m0 213v1m0 31v1m2 -25v1m0 25v1m0 149v1m0 3v1m0 5v1m2 -381v1m0 185v1m0 11v2m0 4v1m0 26v1m0 7v1m0 2v1m0 111v1m2 -478v1m0 21v1m0 107v1m0 306v1m2 -382v2m0 372v1m2 -386v1m0 21v1m0 380v1m2 -204v1m0 27v1m0 3v1m0 5v1m0 38v1m0 5v1m0 4v1m2 -220v1m0 134v1m0 13v2m0 37v1m0 164v1m2 -190v1m0 4v2m0 7v1m2 -205v1m0 10v1m0 2v1m0 1v1m2 5v1m0 3v1m0 202v1m0 152v1m0 12v1m2 -372v1m2 -18v1m0 204v2m0 14v1m2 -233v2m0 12v1m0 13v1m0 179v1m0 12v1m0 172v1m2 -157v1m2 -251v1m0 256v1m0 11v1m2 -39v1m2 6v1m0 201v1m4 -415v2m0 246v1m0 1v1m4 -26v2m0 45v1m2 -256v1m0 1v1m0 251v1m2 -24v1m0 171v1m2 -405v1m0 21v1m0 237v1m0 100v2m0 3v1m2 -340v1m0 151v1m0 7v1m0 1v1m0 8v1m0 65v1m2 0v1m0 93v1m0 23v1m2 -353v1m0 158v1m0 20v1m0 8v1m0 45v1m0 93v1m0 33v1m2 -204v1m0 71v1m0 10v1m0 182v1m2 -430v1m0 181v1m2 2v2m0 151v1m2 -382v1m0 36v1m0 7v2m0 27v1m0 216v1m0 163v2m2 -445v1m0 3v1m0 22v1m0 3v1m0 8v1m2 -63v1m0 52v1m0 8v1m0 238v1m0 84v1m2 -328v2m0 6v2m0 183v1m0 36v1m0 10v2m0 58v1m0 28v1m2 -389v1m0 71v1m0 162v1m0 13v1m0 96v1m2 -137v1m0 20v1m0 3v1m0 7v1m0 51v1m0 57v2m2 -133v1m0 70v1m2 -290v1m0 68v1m0 148v1m0 63v1m0 2v2m2 -303v1m0 20v1m0 8v2m0 2v1m0 55v1m0 76v1m0 20v1m0 32v1m0 145v1m2 -343v1m0 52v2m4 290v1m0 5v1m0 6v1m2 -376v1m0 1v1m0 61v1m6 -55v1m2 -11v1m0 398v1m2 -381v1m0 3v1m0 217v1m2 -236v1m0 234v1m2 -231v1m0 222v1m2 -233v1m0 226v1m0 9v1m0 166v2m4 -160v1m0 4v1m2 -243v1m0 232v1m0 16v1m0 7v3m0 143v1m2 -156v1m0 7v1m0 140v1m0 7v2m2 -161v1m2 -239v1m0 239v1m0 1v1m0 157v1m2 -23v1m2 -151v1m0 178v1m0 1v1m2 -176v1m0 134v1m2 -362v1m2 376v1m0 26v2m2 -169v2m0 149v1m2 -28v1m0 2v1m0 41v1m2 -210v2m0 154v1m0 5v1m4 -372v1m0 12v1m0 253v1m0 18v1m0 86v1m2 -375v1m0 184v1m0 11v1m0 87v1m2 -278v1m0 29v1m0 161v1m0 1v1m0 13v1m0 66v1m0 18v1m0 6v1m2 -333v1m0 53v1m0 164v1m0 31v1m0 72v1m0 75v1m2 -405v1m0 2v1m0 11v1m0 73v1m0 11v1m0 131v1m0 168v1m2 -307v1m0 155v1m2 -227v1m0 86v1m0 1v1m0 123v1m0 6v1m2 -208v1m0 197v1m0 8v1m0 164v1m2 -148v1m4 -225v1m0 384v1m6 -394v1m0 3v1m0 237v1m2 -235v1m0 393v1m4 -378v1m0 372v1m2 -37v1m0 12v1m2 -137v1m0 1v1m0 119v1m2 -125v2m2 -285v2m0 287v1m0 111v1m2 -394v2m0 391v1m2 -184v1m2 -173v1m2 -24v1m0 235v1m2 2v1m0 145v1m0 1v1m2 4v2m2 -172v1m0 37v1m2 -248v1m0 7v1m0 200v1m0 2v1m0 170v1m2 -143v1m2 -228v1m0 2v1m0 208v1m0 16v1m0 1v1m2 -12v1m0 9v1m4 149v1m0 4v1m8 -176v1m0 169v1m2 -170v1m0 17v1m0 3v2m0 134v1m2 -15v1m2 -137v1m2 -225v1m0 232v1m2 -244v1m2 -13v1m0 22v1m0 188v2m0 1v1m0 170v1m0 1v1m6 -359v1m2 204v1m0 19v1m2 -16v1m0 174v1m2 -175v1m2 -209v1m0 235v1m0 3v1m0 124v1m2 -164v1m0 5v1m0 13v2m2 140v1m2 -179v1m2 -190v1m0 195v1m0 10v1m0 176v1m0 1v1m2 -169v1m0 170v1m2 -182v1m0 5v1m4 175v1m0 2v1m0 1v1m0 8v1m4 -399v1m0 238v1m2 -240v1m0 357v1m2 -157v1m0 12v1m2 -204v2m0 176v1m0 2v2m0 26v1m4 -229v1m0 1v1m0 4v1m4 212v1m0 13v1m2 0v1m0 1v1m2 -235v1m0 9v1m0 203v1m4 -10v1m0 20v1m0 136v1m4 -380v1m2 -9v1m0 231v1m2 -231v1m2 238v1m2 -226v1m0 5v1m4 -3v1m0 388v1m2 -383v1m0 214v1m0 22v1m0 17v1m0 125v2m4 -140v1m2 -235v1m2 -12v1m0 201v1m0 43v2m2 -6v1m0 21v1m2 -66v1m0 40v1m2 -12v1m0 17v1m2 135v1m0 8v1m2 -147v1m2 -35v1m0 33v1m4 -251v1m0 231v1m0 17v1m0 2v1m0 149v1m0 3v1m2 -388v1m0 2v1m0 221v1m2 -228v1m0 367v1m2 -171v1m0 9v1m0 18v1m0 145v1m2 -350v1m0 197v1m2 -209v1m0 203v1m2 -225v1m0 1v1m0 1v1m4 -14v1m2 -6v1m0 193v1m0 15v1m0 21v2m2 -38v1m0 1v1m0 166v1m2 -174v2m0 5v1m2 20v1m6 -225v1m2 198v1m2 23v2m0 1v1m0 3v1m2 -236v1m0 200v2m0 44v1m0 3v1m0 4v1m2 -251v1m0 4v1m2 -1v1m0 205v2m0 28v1m0 16v1m2 -256v2m0 221v1m0 2v1m0 24v1m0 162v1m2 -403v1m0 223v1m0 163v1m2 -152v1m0 137v1m2 -122v1m0 125v1m2 -165v1m0 6v1m0 130v1m2 -372v1m0 9v2m0 192v1m0 50v1m2 113v1m2 -134v1m0 11v1m2 113v1m2 -185v1m0 13v1m0 14v1m0 9v1m0 15v2m2 -8v1m0 137v2m2 -364v1m0 7v1m0 177v1m0 26v1m0 10v1m0 153v1m0 4v1m2 -405v1m0 29v1m2 193v1m2 -207v1m0 210v1m4 -197v1m0 188v1m2 4v1m0 195v1m2 -208v1m0 5v1m0 23v1m6 -200v1m0 370v1m2 -374v1m0 1v1m0 2v1m0 1v2m0 192v2m0 11v2m2 -26v1m0 30v1m2 -237v1m0 211v1m0 26v1m0 12v1m0 122v1m0 11v1m2 -388v1m0 19v1m0 186v2m0 166v1m0 16v3m2 -385v1m2 -5v1m0 221v1m2 -248v1m0 236v1m0 13v1m2 -238v1m0 196v1m0 95v1m0 21v1m0 5v1m2 -322v1m0 2v1m0 36v2m0 11v1m0 145v1m0 27v1m0 19v1m0 5v1m0 7v1m0 26v1m0 9v1m0 6v1m0 51v1m2 -292v1m0 15v1m0 108v1m0 6v1m0 15v1m2 -39v1m2 187v1m2 -157v1m2 21v1m2 -234v1m0 232v1m4 6v1m0 27v1m2 -266v1m0 225v2m0 57v1m0 107v1m2 -16v1m2 -169v1m0 3v1m0 8v1m0 29v1m2 -246v1m0 203v1m2 -222v1m0 223v1m0 21v1m2 -257v1m0 222v1m0 145v1m0 3v1m2 -350v1m0 186v1m2 4v1m0 170v1m2 -121v1m0 3v1m0 121v1m2 -171v2m0 177v1m0 3v1m0 8v1m2 -387v1m0 215v2m0 16v1m2 0v1m0 7v1m2 -256v1m0 20v1m0 202v2m0 3v1m0 2v2m0 5v1m0 25v1m0 1v1m0 5v1m2 -10v1m0 128v1m2 -363v1m0 199v1m0 7v1m0 4v1m0 148v1m0 1v1m2 -126v1m2 -71v1m0 2v1m0 9v1m0 55v1m0 10v2m2 -33v1m4 -33v1m0 15v1m4 -221v1m0 240v1m2 4v1m2 -7v1m2 -23v1m0 6v1m0 5v1m0 15v1m2 -212v2m0 9v1m0 131v1m0 17v1m0 7v1m0 12v1m0 155v1m2 -349v1m0 46v1m0 169v2m0 115v1m0 15v1m2 -289v2m0 125v1m0 21v1m2 -242v1m0 5v1m0 96v2m0 16v1m0 5v2m0 48v1m0 13v2m0 1v1m2 -203v1m0 25v1m0 197v1m0 10v2m2 -246v1m0 192v1m0 54v1m2 -94v1m0 62v1m2 -226v1m0 6v1m0 4v1m0 226v1m0 10v3m2 -35v1m0 27v2m0 11v2m2 -252v1m0 168v1m0 20v2m0 38v1m2 -15v1m2 2v1m2 -112v1m0 21v2m0 58v2m0 1v1m2 -176v1m0 7v1m0 14v1m4 -10v1m0 15v1m0 179v1m4 -6v1m0 22v1m0 12v1m0 12v1m0 127v1"/>
<path stroke="#00ddff" d="M134 205v2m0 10v1m0 176v1m0 40v1m0 142v1m2 -360v2m0 200v1m0 28v1m2 -288v1m0 9v2m0 9v1m0 26v1m0 176v2m0 14v2m0 1v1m0 10v1m0 157v1m2 -418v1m0 230v1m0 12v1m0 172v1m2 -413v1m0 8v1m0 14v1m0 4v1m0 2v1m0 15v1m0 6v1m0 195v1m0 154v1m0 11v1m2 -392v1m0 190v1m0 15v1m0 16v4m2 -247v1m0 4v2m0 8v1m0 398v1m2 -360v1m0 216v1m0 135v1m2 -178v1m0 16v2m0 174v1m2 -388v1m0 5v1m0 378v1m6 -364v1m0 5v1m0 218v1m2 -253v1m0 17v1m0 12v1m0 392v1m2 -394v1m0 198v1m4 -1v1m0 39v1m2 -231v1m0 204v1m0 161v1m0 3v2m2 -151v1m0 9v1m0 139v1m0 1v1m2 -169v1m2 15v1m2 -239v1m0 235v2m0 139v1m2 -370v1m0 214v1m4 124v1m2 -161v2m2 -187v1m0 342v1m2 -125v1m2 -6v1m0 18v2m2 -233v1m0 4v1m0 188v1m0 7v1m0 16v1m0 1v1m0 3v1m0 120v1m2 -144v1m0 146v1m2 -1v1m2 -403v2m0 17v1m0 383v1m4 -390v1m0 26v1m0 222v1m0 4v1m0 145v1m0 7v1m2 -405v1m0 221v1m0 179v1m2 -193v1m0 12v1m0 3v1m2 -222v1m0 22v1m0 202v2m0 2v1m2 -222v2m0 258v1m0 18v1m0 132v1m2 -388v1m0 240v1m0 13v1m4 -43v1m0 14v1m0 37v1m0 17v1m0 84v1m2 -341v1m0 229v1m0 30v1m0 9v1m0 47v1m0 20v1m2 -161v1m0 2v1m0 2v1m0 38v1m0 11v1m0 13v2m0 48v1m2 -344v1m0 19v1m0 25v1m0 205v1m0 7v1m0 12v1m0 10v1m0 15v1m0 48v1m2 -370v1m0 4v1m0 1v2m0 43v1m0 185v1m0 13v1m0 10v1m0 51v1m0 7v1m0 29v1m2 -378v1m0 64v1m0 129v1m2 17v1m0 175v1m2 -184v1m0 24v1m4 -201v1m0 216v1m0 4v2m2 -28v1m0 25v1m0 148v1m2 -151v1m2 -213v3m0 183v1m0 1v1m0 4v1m0 35v1m0 128v1m0 11v1m2 -12v1m2 -352v1m0 4v1m2 -16v1m0 14v2m0 211v1m0 3v1m0 112v1m2 -161v1m0 25v1m2 -233v1m0 18v1m2 -28v1m0 216v1m2 6v1m0 16v1m2 -248v1m0 229v1m0 182v1m2 -371v1m0 185v1m0 194v1m2 -183v1m6 -332v2m0 8v1m0 28v1m0 30v1m0 29v2m0 117v1m0 78v1m0 11v1m0 23v1m0 75v1m0 4v1m0 7v2m0 65v1m0 10v1m0 16v2m0 36v1m0 107v1m4 -291v1m0 12v2m2 29v1m0 116v1m0 24v1m2 -379v1m0 234v1m0 8v1m2 -64v2m0 37v1m0 7v1m0 93v1m2 -93v1m0 24v1m0 7v2m2 -302v1m0 12v1m0 8v1m0 8v1m0 282v2m0 12v2m2 -362v1m0 2v1m0 75v2m0 10v2m0 25v1m0 125v1m0 5v1m0 18v1m0 7v1m0 7v1m0 2v1m0 52v1m0 7v1m2 -362v1m0 35v1m0 5v1m0 217v1m0 1v2m0 123v2m2 -148v1m0 31v1m2 -62v1m0 35v1m0 151v1m2 -162v1m2 -227v1m0 24v1m0 214v1m2 -38v1m2 -205v1m0 18v1m0 341v1m2 -170v1m0 3v1m0 161v1m2 -363v1m0 1v1m0 193v1m0 167v1m0 1v1m2 -203v1m0 24v1m0 4v1m2 -207v1m0 194v1m0 22v1m0 161v1m6 -378v1m0 202v1m0 55v1m0 131v1m2 -401v1m0 5v1m0 14v1m0 240v1m0 161v1m2 -397v1m0 211v1m0 25v1m0 2v1m2 -253v1m2 14v1m0 254v1m2 -251v1m0 15v1m0 321v1m0 74v1m2 -401v1m0 26v2m0 303v1m0 52v1m2 -379v1m0 2v1m0 210v1m0 32v2m0 68v1m0 41v1m2 -440v1m0 298v2m0 26v1m0 14v1m0 1v1m0 70v1m2 -418v1m0 294v1m0 130v1m2 -329v1m0 106v2m0 115v1m0 16v1m2 -294v1m0 15v2m0 25v1m0 181v1m0 154v1m0 19v1m2 -412v1m0 215v1m0 3v1m0 189v1m2 -396v1m0 211v1m2 -217v1m2 2v1m0 20v1m4 4v1m0 255v1m2 -246v1m0 18v1m2 -7v1m0 219v1m0 97v1m0 43v1m0 3v1m2 -358v1m0 220v1m0 5v1m0 74v1m2 -311v1m2 -5v1m0 16v1m0 22v1m0 160v1m0 118v1m0 5v1m2 -391v1m0 27v1m0 46v1m0 6v2m2 150v1m0 10v1m2 -13v1m2 -203v1m0 220v1m0 158v1m2 -150v1m0 153v1m2 -390v2m0 247v1m0 156v1m0 7v1m2 -406v1m2 -3v1m0 7v1m0 14v1m0 227v1m2 -22v1m0 6v1m0 24v1m2 -237v1m0 58v1m0 153v1m2 -15v1m0 23v1m0 20v1m0 6v1m2 -268v1m0 217v1m0 15v1m0 156v1m2 -163v1m0 129v1m2 -256v1m2 -175v2m0 68v1m0 114v1m0 97v1m0 113v2m2 -424v1m0 15v1m0 65v1m0 162v1m0 155v1m0 3v1m2 -417v1m0 25v1m0 5v1m0 1v1m0 39v1m0 9v1m0 231v1m2 -267v1m0 22v1m0 3v1m0 145v1m0 19v2m0 6v2m0 1v1m0 4v2m2 -207v1m0 5v1m0 15v1m0 163v1m0 2v2m0 6v2m0 31v1m2 -42v1m0 5v1m2 -207v1m0 7v1m0 2v1m0 6v1m0 383v1m2 4v1m2 -388v1m0 195v2m0 32v1m0 160v1m2 -407v1m0 9v1m0 203v1m0 32v1m0 175v1m2 -393v1m0 1v1m0 2v1m2 -13v1m2 22v1m0 2v1m0 227v1m0 1v1m0 148v1m2 -387v1m0 232v1m0 11v1m2 -359v1m0 12v1m0 320v1m0 97v1m0 12v2m0 33v1m2 -474v1m0 29v1m0 3v1m0 10v1m0 3v1m0 51v1m0 342v1m2 -398v1m0 258v1m0 117v1m2 15v1m2 -359v1m0 200v1m0 42v1m2 -85v2m0 21v1m0 183v1m0 15v1m2 -200v2m0 36v1m0 2v1m2 -211v1m0 10v1m0 177v2m0 4v1m2 1v1m0 175v1m0 8v1m0 8v1m4 -406v1m0 1v1m0 235v1m2 -4v1m2 -206v1m0 187v1m2 -232v1m0 227v1m0 21v1m0 20v1m0 1v1m0 145v1m2 -187v1m0 191v1m2 9v1m2 -184v1m0 2v1m2 -231v1m2 260v1m2 -21v1m0 15v1m0 2v2m2 -12v1m2 -217v1m0 217v1m0 18v1m0 4v1m2 2v1m0 91v1m0 11v1m2 -178v1m0 8v1m0 153v1m0 14v1m2 -176v1m0 178v1m2 -331v1m0 163v1m0 1v1m0 3v1m0 147v1m2 -322v1m0 6v1m0 148v1m0 71v2m0 12v1m0 176v1m2 -405v1m0 156v1m4 -208v2m0 19v1m0 13v1m2 -28v2m0 197v1m0 25v1m0 9v1m0 25v1m0 6v1m2 -250v1m0 8v2m0 3v1m0 234v1m2 -302v1m0 71v1m0 180v1m0 37v1m0 67v1m0 7v1m2 -137v1m0 134v1m2 -155v2m2 -149v2m0 161v1m0 113v1m4 -370v3m0 23v1m0 23v1m0 155v1m0 37v1m2 -146v1m0 111v1m0 10v1m0 155v1m2 -352v1m0 73v1m0 127v1m0 156v1m2 -372v1m0 15v1m0 202v1m0 170v1m2 -395v1m0 8v1m0 61v1m2 -1v1m0 12v1m2 -46v1m0 360v1m2 -397v1m0 12v1m0 21v1m0 189v1m0 8v1m2 -223v1m0 395v1m2 -376v1m2 -15v1m0 224v1m6 -237v1m2 7v1m0 230v1m0 3v1m2 -241v1m0 21v1m0 236v1m2 156v1m2 -8v1m2 1v1m0 3v1m2 -406v1m0 249v1m2 -8v1m4 -224v1m2 3v1m2 217v1m0 161v1m0 18v2m2 -156v1m0 100v1m0 51v1m2 -222v1m0 7v1m0 41v2m0 18v1m0 97v1m2 -167v1m0 5v1m0 20v1m2 -205v1m0 189v1m0 7v1m0 144v1m2 -356v1m0 188v2m0 1v1m2 -178v1m0 1v1m0 166v1m0 5v1m0 29v1m0 52v1m2 -266v1m0 167v1m0 39v1m0 142v1m2 -361v1m0 39v1m0 154v1m0 15v1m0 5v1m2 -151v1m0 130v1m2 -133v1m2 -81v1m0 2v2m0 208v1m6 -213v1m0 6v1m2 5v1m0 382v1m2 -384v1m0 213v1m2 -221v1m0 239v1m2 -229v1m2 2v1m0 219v1m2 10v1m2 -241v1m0 13v1m2 230v1m0 4v2m2 -15v1m0 22v1m2 -260v1m0 33v1m0 188v1m0 3v1m0 21v1m2 -228v1m0 2v1m0 217v1m2 -251v1m0 166v1m0 23v2m0 46v1m0 111v2m2 -170v1m0 21v1m0 152v1m2 -380v1m4 4v1m0 6v1m0 224v2m2 -10v1m0 5v1m2 -219v1m0 202v1m0 23v1m0 151v1m4 -135v1m0 140v1m2 -158v1m2 -217v1m0 217v1m2 -223v1m0 222v1m2 -222v1m2 216v1m0 11v1m2 -14v1m0 15v1m2 -29v1m0 2v1m0 27v1m2 -237v1m0 221v1m4 -25v1m0 3v1m2 -207v1m0 214v2m4 -256v1m0 226v1m0 4v1m0 1v1m2 5v1m0 154v1m2 22v1m2 -397v1m0 214v2m0 24v1m2 -235v1m0 217v1m0 17v1m0 161v1m0 1v1m2 -176v1m0 3v1m0 170v1m2 -174v1m0 156v1m2 -162v1m0 28v1m0 3v1m2 -239v1m2 360v1m6 -151v1m2 -1v2m0 174v1m2 -165v1m0 170v1m2 -169v1m0 157v1m0 5v1m2 -175v1m0 155v2m4 -169v1m2 -198v1m2 179v1m0 33v1m2 -218v1m0 2v2m0 183v1m2 168v1m2 -370v1m0 371v1m4 -145v1m4 -10v1m2 -219v1m2 223v2m2 -236v1m2 203v1m0 173v1m2 -155v1m2 -234v1m0 241v1m4 -217v1m4 246v1m2 -253v1m0 19v1m0 207v1m0 147v1m0 1v2m2 -363v1m0 352v1m4 -164v1m0 6v1m0 42v1m2 -260v1m2 237v1m2 13v1m2 -245v1m0 8v1m2 -2v1m4 -15v1m0 228v1m4 -211v1m0 373v1m2 -355v1m0 213v1m0 142v1m2 -349v1m0 178v1m0 3v1m0 145v1m2 -341v1m0 334v1m2 -354v1m0 192v1m0 5v2m0 32v1m0 110v1m2 -3v1m2 -358v1m0 10v1m0 184v1m6 -209v1m0 202v1m0 13v1m0 2v1m2 -6v1m2 -217v1m0 205v1m0 18v1m0 11v1m0 128v1m2 -369v1m0 203v1m0 8v2m2 -2v1m0 13v1m2 -224v1m2 11v1m0 198v1m0 24v1m4 -250v1m0 398v1m2 -150v1m0 155v1m0 15v1m2 -404v1m0 5v1m0 1v1m0 197v1m0 37v1m0 156v1m2 -394v1m0 219v1m0 27v1m0 154v1m2 -154v1m0 146v1m2 -164v1m0 23v1m0 23v1m0 106v1m2 -147v1m0 15v2m0 108v1m2 -153v1m0 2v1m0 29v1m0 2v1m2 -255v1m0 203v1m0 1v1m2 0v1m2 -218v1m0 8v1m0 209v1m2 -239v1m0 216v2m0 162v1m2 -382v1m0 215v1m0 13v1m2 -15v1m0 19v1m2 -226v1m0 14v1m0 179v1m0 39v1m0 9v1m0 139v1m0 1v2m2 -401v1m0 212v1m2 -198v1m2 209v2m2 -204v1m0 230v1m2 -242v1m0 14v1m0 1v1m0 173v1m0 82v1m2 -62v1m2 6v2m2 -199v1m0 183v1m0 54v1m2 -241v1m0 218v1m2 -15v1m0 7v1m0 170v1m2 -385v1m0 6v1m0 189v1m0 34v1m0 148v1m2 -382v1m0 193v2m0 3v1m0 8v1m0 19v1m0 157v1m2 -175v1m0 20v1m0 127v2m0 4v1m0 21v2m0 3v1m2 -186v1m0 26v1m0 143v1m0 16v1m2 -409v1m0 1v1m0 239v1m2 -238v1m0 206v1m0 22v1m0 126v1m2 -130v1m2 -245v1m0 5v1m0 203v1m0 113v1m2 -311v1m0 34v1m0 184v1m0 1v1m0 3v1m0 17v1m0 5v2m0 13v1m0 6v1m0 22v1m0 6v1m2 -310v1m0 65v2m0 14v2m0 113v2m0 3v1m0 20v1m0 15v1m2 -222v1m0 198v2m2 -2v1m0 142v1m2 11v1m2 -353v1m2 368v1m2 -387v1m0 20v1m2 -9v1m0 2v1m0 380v1m2 -176v2m0 4v1m0 26v1m0 3v1m0 27v1m0 97v1m0 6v1m2 -19v1m2 -164v1m0 3v1m0 38v2m0 112v1m0 5v1m2 -15v1m0 7v1m2 -377v1m0 2v1m0 7v1m0 232v1m2 -224v1m0 195v1m0 5v1m2 -210v1m0 189v1m0 159v1m2 -138v1m0 3v1m0 138v1m2 -136v1m2 -246v1m0 257v1m0 157v1m4 -399v1m0 231v1m0 172v1m2 -170v1m0 4v1m0 20v1m0 1v1m0 5v1m2 0v1m2 -29v1m0 146v1m2 -352v1m0 197v1m2 -39v1m0 30v1m0 35v1m0 2v1m0 2v1m4 -259v1m0 379v1m2 -179v1m2 -197v1m2 378v1m2 -159v1m0 22v1m0 7v1m0 124v1m2 -151v1m2 9v1m2 -208v1m0 2v1m0 137v1m0 72v1m0 126v1m2 -314v1m0 2v1m0 146v1m0 4v1m0 15v1m0 113v2m0 19v1m2 -306v1m0 147v1m2 -220v1m0 180v1m0 35v1m2 -29v1m0 7v1m0 21v1m0 137v1m2 -168v1m0 20v1m0 7v1m0 2v2m0 1v1m0 131v1m2 12v1m2 -395v1m0 3v1m0 152v1m0 2v1m0 229v1m2 -387v1m0 219v1m2 -8v1m0 8v1m0 15v2m0 9v1m2 -29v1m0 175v1m2 -178v1m0 21v2m2 -233v1m0 130v2m0 10v2m0 30v2m0 13v1m2 201v1m2 -392v1m0 22v1m0 216v1m2 7v1m0 20v1m0 110v1m2 -156v1m0 19v1m2 -34v1m0 33v2m0 1v2m0 1v1"/>
<path stroke="#01fffe" d="M134 168v1m0 219v1m0 13v1m0 4v1m0 16v2m0 145v1m2 -357v1m0 15v1m0 171v1m0 16v1m2 -250v1m0 4v1m0 201v1m0 48v1m2 -260v2m0 5v1m0 31v1m0 7v1m0 15v1m0 170v1m0 36v1m0 11v1m2 -287v1m0 1v2m0 5v1m0 211v1m0 8v1m0 7v1m2 -227v1m0 19v1m0 194v2m0 8v1m0 3v1m2 -243v1m0 56v1m0 226v2m2 -270v1m0 22v1m0 190v1m0 26v1m0 16v1m2 -246v1m0 216v1m0 32v1m4 -243v1m0 13v1m0 233v1m0 3v1m0 1v3m0 153v1m2 -8v1m0 1v1m2 -375v1m0 221v1m0 7v2m4 -24v1m2 -214v1m0 217v1m2 -22v1m0 37v1m0 18v1m2 -16v1m2 7v1m2 -6v1m2 -28v1m0 165v1m2 -371v1m0 196v1m2 143v1m0 8v1m4 -364v1m0 6v1m0 191v2m2 51v1m2 -48v1m0 139v1m2 -340v1m2 4v1m0 206v1m2 -207v1m0 162v2m0 44v1m4 -226v1m0 7v1m0 157v1m0 7v1m2 -5v1m0 10v1m2 -193v1m2 -11v2m0 19v1m0 197v1m0 24v1m2 2v1m2 -242v1m0 251v1m0 151v1m2 -385v1m0 4v1m0 205v1m0 36v1m2 148v1m2 -375v1m2 -18v1m2 17v1m0 9v1m0 3v1m0 194v1m0 9v1m0 2v2m0 136v1m2 -355v2m0 239v1m0 29v1m0 59v1m0 1v1m0 23v1m2 -170v1m0 8v1m0 104v1m0 9v1m0 20v1m0 3v1m2 -394v1m0 69v1m0 148v1m2 -25v1m0 48v1m0 81v1m0 34v1m0 4v1m0 10v1m2 -389v1m0 6v1m0 47v1m0 134v1m0 42v1m0 151v1m2 -199v2m0 14v2m0 3v1m0 4v1m0 3v1m2 -178v1m0 197v1m2 -226v1m0 1v1m0 4v2m0 5v1m0 371v1m2 -398v1m0 3v1m0 17v1m0 378v1m2 -385v1m0 222v1m0 151v1m4 -376v1m0 195v1m0 7v1m0 4v1m0 30v2m0 135v1m2 -373v1m0 212v1m0 2v1m0 14v2m0 2v2m0 126v1m2 -364v1m2 8v1m0 175v1m0 4v1m0 44v1m0 3v1m0 2v1m0 112v1m2 -359v1m0 1v1m0 202v1m0 154v1m2 -338v2m0 157v2m0 12v1m0 9v1m2 -242v1m0 32v1m0 190v1m2 17v1m0 179v1m2 -181v1m2 -221v1m0 9v1m0 231v1m2 -244v1m4 34v1m0 235v1m2 -385v1m0 5v2m0 8v1m0 47v1m0 21v2m0 4v1m0 8v1m0 56v1m0 108v1m0 1v2m0 18v2m0 102v1m0 36v1m0 53v1m0 14v1m0 39v1m0 96v2m0 32v1m2 -525v1m2 1v1m0 265v1m0 151v1m2 -391v2m0 229v1m2 -207v1m0 306v1m0 1v1m0 19v1m0 27v1m2 -353v1m0 181v1m0 30v1m0 114v1m2 -175v1m0 70v1m0 74v1m2 -316v1m0 220v1m0 19v1m0 3v1m0 4v2m0 51v1m2 -374v1m0 9v1m0 139v1m0 56v1m0 84v2m2 -265v1m0 9v1m0 176v2m0 1v1m0 3v1m0 15v1m0 7v1m0 3v1m2 -235v1m0 225v1m0 144v1m2 -142v1m2 -5v1m2 -236v1m0 2v1m0 7v1m0 7v1m0 176v2m0 39v1m2 -13v1m0 2v1m0 139v1m2 -177v2m0 163v1m2 -140v2m2 -9v1m2 -223v1m0 209v1m0 1v1m0 148v1m2 -332v1m0 155v1m0 13v1m0 164v1m0 14v1m2 -392v1m0 211v1m0 13v1m0 159v1m0 10v1m0 1v1m2 -2v1m2 -194v1m0 5v1m0 49v1m0 137v1m2 -375v1m0 205v1m0 25v1m2 168v1m0 10v1m2 -422v1m2 29v1m0 235v1m0 5v1m2 -230v1m0 210v1m2 29v1m0 92v1m0 31v1m2 -149v1m0 18v1m0 15v1m0 135v1m2 -473v1m0 25v1m0 235v2m0 68v1m0 9v1m0 68v1m2 -143v1m0 58v1m0 84v1m2 -395v2m0 30v1m0 41v1m2 -25v1m0 163v1m0 48v2m0 5v1m0 131v1m0 20v1m2 -406v1m0 27v1m4 -29v1m0 6v1m0 260v1m0 153v1m0 12v1m2 -411v1m0 225v1m0 192v1m2 -419v1m0 415v1m2 -394v1m0 4v1m0 209v1m0 18v1m2 -2v1m0 9v1m2 127v1m0 6v1m2 -400v1m0 56v1m0 206v1m0 76v1m0 6v1m0 2v1m2 -330v2m0 18v1m0 160v1m0 138v1m2 -368v1m0 2v2m0 83v1m2 -66v1m0 22v1m0 16v1m0 6v1m0 134v1m2 180v1m2 -388v1m0 223v1m0 13v1m0 7v1m0 1v1m2 -9v1m2 -229v1m2 408v1m2 -395v1m0 14v1m0 388v1m2 -399v1m0 18v2m0 202v1m2 -202v1m2 203v1m0 2v1m2 -205v1m0 219v1m0 146v1m0 2v1m2 -383v1m0 76v1m0 119v2m0 169v2m4 -389v1m0 205v1m0 119v1m0 30v1m0 10v1m2 -353v1m0 100v2m0 79v1m2 -280v1m0 23v1m0 7v1m0 204v1m0 32v1m2 -291v1m0 2v1m0 31v1m0 194v1m0 21v1m0 12v2m0 16v1m0 33v1m2 -278v2m0 8v2m0 5v1m0 2v1m0 165v1m0 14v1m0 9v1m2 -191v1m0 2v1m0 16v1m0 153v1m0 7v1m0 15v1m0 7v1m0 15v2m2 -4v2m2 -35v1m0 6v1m0 9v1m2 179v1m2 -152v1m0 160v1m2 -405v1m0 9v1m0 238v1m0 163v1m2 -365v1m0 187v1m0 22v1m0 159v1m2 -400v1m0 16v1m0 230v1m0 153v1m0 4v1m2 -394v1m0 242v1m2 7v1m2 -361v1m0 120v1m0 216v1m0 19v1m0 77v2m0 13v1m0 10v1m0 17v1m2 -449v1m0 23v1m2 1v1m0 62v1m0 330v1m2 -351v1m0 4v1m2 154v1m0 5v2m0 6v3m0 38v1m2 -64v1m0 11v1m2 -3v1m0 13v1m0 1v2m0 31v1m0 2v1m0 10v1m2 -236v1m0 16v1m0 7v1m0 172v1m2 -175v1m0 188v1m0 175v1m0 12v1m2 -372v1m0 1v1m2 -7v1m0 195v1m6 -9v1m0 1v1m0 12v1m0 29v1m0 149v1m2 -183v1m2 -215v1m0 403v1m0 5v1m2 -173v2m0 6v1m4 -217v1m0 206v1m2 -215v1m0 234v1m0 177v1m2 -185v1m2 16v1m0 2v1m2 114v1m2 -345v1m0 167v1m0 158v1m2 -323v1m0 166v1m2 -199v1m0 204v1m0 3v1m0 14v1m0 139v1m0 14v1m0 3v1m2 -199v2m0 90v1m2 -252v2m0 169v1m0 14v3m2 -174v1m0 218v1m2 -18v2m0 4v2m0 9v1m0 8v2m0 10v1m2 -237v1m2 -73v1m0 51v1m0 16v1m0 3v2m0 191v1m0 126v1m2 -334v1m0 3v1m0 190v1m0 2v1m2 -257v1m0 50v2m0 165v2m0 4v1m0 12v1m2 -213v1m0 324v1m2 -326v1m0 186v1m0 83v1m2 -295v1m0 221v1m2 -268v1m0 25v2m0 9v1m0 3v1m0 161v1m0 7v1m0 5v2m0 172v1m2 -276v1m0 129v1m0 157v1m2 -358v1m0 7v1m0 347v1m0 5v1m4 -300v1m2 -85v1m0 399v1m2 -171v1m0 169v1m2 -387v1m2 395v1m2 -386v1m0 6v1m0 3v1m2 220v1m6 -235v1m0 401v1m2 -160v1m2 11v1m2 -243v1m0 3v1m0 225v1m2 -234v1m0 12v1m2 -11v1m4 236v1m2 -232v1m0 223v1m0 181v1m2 -400v2m2 4v1m0 224v1m0 10v1m0 148v1m0 7v1m0 4v1m2 -391v1m0 208v1m0 158v1m0 18v1m0 4v1m0 1v2m2 -62v1m0 53v1m0 23v1m2 -435v1m0 31v1m0 159v1m2 -2v1m2 -7v1m0 10v1m0 13v1m0 63v1m0 85v1m2 -100v1m0 3v1m0 17v1m2 -307v1m0 1v1m0 2v1m0 5v1m0 26v1m0 170v2m0 4v1m0 1v1m0 86v1m2 -299v1m0 36v1m0 199v1m2 -190v1m0 164v1m0 13v1m2 -242v1m0 229v2m2 -227v1m0 25v1m2 -7v1m0 229v1m0 154v1m2 -388v1m4 220v1m2 1v1m0 3v1m6 -215v1m2 -6v1m0 7v1m2 -1v1m0 393v1m2 -386v1m2 2v1m0 214v1m0 8v1m0 108v1m2 -103v1m2 -220v1m0 180v1m0 15v3m2 -196v1m0 196v1m2 -203v1m0 130v2m6 31v2m6 18v1m0 7v1m2 -238v1m0 217v1m2 -215v1m0 221v1m0 21v1m2 -244v1m0 224v1m0 27v1m2 135v1m2 -158v1m0 13v1m2 -6v1m4 -226v1m0 208v1m2 -1v1m0 5v1m2 144v1m2 -162v1m2 -8v1m0 156v1m2 -358v1m2 2v1m0 3v1m0 188v1m4 -196v1m0 194v1m4 4v1m0 1v1m4 15v1m0 6v1m0 154v1m0 1v1m0 11v1m2 -176v1m0 13v1m0 141v2m4 -16v1m2 -168v1m0 14v1m2 -210v1m0 2v1m0 6v1m0 184v1m0 23v1m2 2v1m4 -224v1m2 231v1m0 165v1m2 2v1m2 -391v1m0 206v1m0 18v1m0 142v1m2 -163v1m0 158v1m2 -149v1m0 134v1m2 -349v1m0 189v1m2 -196v1m0 204v1m0 3v1m0 140v1m2 -157v1m0 21v2m2 -1v1m0 1v1m2 143v1m2 -153v1m2 2v1m0 7v1m2 -13v1m0 12v1m0 143v1m14 -378v1m0 375v1m2 -389v1m0 3v1m0 386v1m0 4v1m0 1v1m4 -152v1m0 148v1m2 -385v1m0 6v1m0 208v1m0 25v1m0 5v1m2 -18v1m2 -216v1m2 -3v1m0 4v1m0 198v1m0 1v1m2 -195v1m0 181v1m2 66v1m2 -43v1m0 3v1m2 -226v1m0 203v1m0 27v1m2 -225v1m4 -6v1m0 391v1m2 -151v1m0 151v1m2 -401v1m0 219v1m0 25v1m4 -215v2m0 201v1m2 -214v1m0 209v1m2 -198v1m0 324v1m2 -156v1m0 22v1m2 -238v1m2 201v2m2 -196v1m0 193v1m2 17v1m2 -239v1m0 2v1m4 -1v1m2 234v2m2 -19v1m0 153v1m4 -172v2m0 40v1m2 -33v1m0 4v1m0 155v1m0 14v1m2 -176v1m0 20v1m0 14v1m2 149v1m2 -142v1m2 -243v1m0 7v1m0 232v1m0 6v1m0 5v1m2 -224v1m0 368v1m0 1v1m2 -366v1m0 225v1m0 8v1m0 113v1m2 -387v1m0 232v1m0 7v1m0 4v1m0 24v1m0 99v2m0 18v1m2 -154v1m2 -242v1m0 2v1m0 8v1m0 1v1m0 36v1m0 164v1m2 -215v2m0 16v1m0 217v1m0 5v1m2 -247v1m0 224v1m0 2v1m0 135v1m2 -149v1m2 -16v1m0 18v1m2 -232v1m0 15v1m0 199v1m0 15v1m2 -232v1m0 9v1m0 226v1m2 -245v1m0 30v1m0 3v1m0 180v1m2 -205v1m0 8v1m2 236v1m0 148v1m2 -156v1m4 -25v2m0 15v1m0 8v1m0 12v1m0 151v1m2 -194v1m0 7v1m0 9v1m0 23v2m2 -30v1m2 -208v1m0 212v1m2 -211v1m0 222v1m2 -244v1m2 6v1m0 207v1m0 7v1m0 17v1m2 -234v1m0 3v1m0 201v1m0 18v1m0 8v1m0 129v1m0 29v1m2 -391v1m0 217v1m0 16v2m0 6v1m4 -256v1m0 373v1m2 -134v1m2 -204v1m0 161v1m0 50v1m0 6v1m0 5v2m2 -271v1m0 11v1m0 190v1m0 72v1m0 15v1m2 -287v2m2 -9v1m0 201v1m2 -189v1m0 190v1m0 23v1m2 -236v1m0 17v1m0 206v1m2 -201v1m0 368v2m2 -166v1m0 23v1m2 150v1m2 -144v1m2 -7v1m0 5v1m0 9v1m0 3v1m0 21v1m0 5v1m2 92v1m4 -145v1m2 -242v1m0 11v1m2 189v1m0 15v1m2 -232v1m0 212v2m0 158v1m2 -377v1m0 13v1m0 224v2m0 3v1m2 -51v1m0 53v1m0 1v1m2 -37v1m0 195v1m2 -378v1m0 198v2m0 5v1m0 35v1m4 -240v1m0 5v1m0 13v1m0 222v1m0 140v1m2 -129v1m2 -22v1m0 9v1m0 129v1m0 2v1m2 -123v2m2 -10v2m0 4v1m0 5v2m0 14v2m4 -67v1m2 -202v1m0 195v1m4 -206v2m0 225v1m0 19v2m0 1v1m2 -22v1m0 157v1m2 -144v1m2 -226v1m0 230v1m2 -223v1m0 17v1m0 209v2m0 3v1m0 109v1m2 -353v1m0 221v1m0 8v1m0 7v1m0 95v1m0 6v1m2 -297v1m2 -54v1m0 116v1m0 52v1m0 159v1m2 -360v1m2 200v1m0 18v1m0 3v2m0 2v1m2 -232v1m0 210v2m0 167v1m2 -379v1m0 203v1m0 8v1m0 19v2m0 4v1m4 -26v1m2 11v1m4 -214v1m0 125v1m0 79v1m4 -189v1m0 198v1m0 157v1m2 -348v1m0 187v1m0 23v2m2 -34v1m0 22v1m2 -243v1m0 224v1m0 20v1"/>
<path stroke="#25ffda" d="M134 195v1m0 13v1m0 4v1m0 167v1m0 6v1m0 14v2m0 17v1m0 148v1m2 -402v1m0 7v1m0 9v2m0 207v1m0 11v1m2 -243v1m0 18v1m0 30v1m0 168v1m0 27v1m0 162v1m2 -409v1m0 6v2m0 1v1m0 16v1m0 188v1m2 -221v1m0 2v2m0 6v2m0 239v1m2 -241v1m0 4v1m0 12v1m0 1v1m0 191v1m2 -194v1m0 202v2m0 9v1m0 4v2m0 28v1m0 3v1m2 -232v1m0 200v1m2 -220v1m0 12v1m0 215v1m2 27v1m2 -257v1m0 11v1m0 233v1m0 3v1m2 -233v1m0 233v1m2 -3v1m0 2v1m0 4v2m0 153v1m2 -411v1m0 17v1m0 231v1m0 170v2m2 -187v1m0 13v1m0 165v1m2 -383v1m0 2v1m0 368v1m2 -381v1m0 193v1m0 13v1m0 40v1m0 143v1m2 -13v1m0 5v1m2 -169v1m2 17v1m2 -29v2m2 -202v1m0 222v1m0 138v1m2 -374v1m0 361v1m2 -138v1m4 -40v1m0 42v1m0 3v1m0 10v1m0 2v1m2 -51v2m0 147v1m2 -355v1m2 7v1m0 196v1m0 1v1m0 17v1m2 16v1m0 113v1m2 -347v1m0 152v2m0 1v1m0 7v1m2 12v2m0 6v1m2 -193v1m2 -5v1m0 173v1m0 3v1m0 13v2m0 182v1m2 -395v1m0 208v1m0 183v1m2 -162v1m2 -232v1m2 23v1m0 211v2m2 183v1m2 -377v1m0 202v1m0 28v1m2 -248v1m2 232v1m0 25v1m0 6v1m2 108v1m2 -171v1m0 6v1m0 120v1m0 21v1m0 1v1m0 1v1m2 -358v2m0 184v1m0 76v1m0 8v1m0 7v1m0 6v1m0 40v1m0 1v1m0 6v1m2 -122v1m0 124v1m2 -422v1m0 37v1m0 45v1m0 143v1m0 8v1m0 3v2m0 29v1m2 -249v1m0 16v1m2 203v2m0 2v2m2 -192v1m4 384v1m2 -389v1m0 3v1m0 15v1m0 356v1m2 -367v1m0 182v1m0 7v1m2 -187v1m0 223v1m2 -238v1m0 200v1m0 33v1m2 -43v1m0 43v1m0 7v1m0 113v1m2 -136v1m0 138v1m2 -380v1m0 23v1m4 -38v1m0 2v1m2 245v1m0 2v1m2 -16v1m0 2v1m0 173v1m0 8v1m4 -395v1m0 232v1m2 -242v1m2 -128v1m0 75v1m0 16v1m0 22v1m0 17v1m0 37v1m0 5v2m0 17v1m0 34v1m0 50v1m0 117v1m0 136v1m0 79v1m0 7v1m2 -481v1m0 36v1m0 194v1m0 29v1m2 -229v1m0 5v1m2 245v1m2 -248v1m0 21v1m0 209v1m0 126v2m2 -98v1m0 72v1m2 -159v1m0 65v1m0 9v1m0 66v1m2 -92v1m0 40v1m0 16v2m0 28v1m2 -371v1m0 71v1m0 6v1m0 110v1m0 11v1m0 31v1m0 23v1m2 -242v1m0 5v1m0 9v2m0 175v1m0 24v1m0 20v2m0 124v1m2 -164v1m0 6v1m0 7v1m0 8v1m0 137v1m2 -386v1m2 235v1m2 3v1m4 -237v1m0 198v1m0 21v1m2 -8v1m2 -222v1m0 371v1m2 -375v1m0 188v1m0 176v1m2 -383v1m0 4v1m0 199v2m0 5v1m4 28v1m0 153v1m2 -136v1m2 -249v1m0 399v1m4 -165v1m0 198v1m2 -192v1m0 7v1m2 -226v1m0 236v1m0 15v1m0 87v1m0 7v1m0 5v1m2 -30v1m0 57v1m0 13v1m2 -379v1m0 216v1m0 6v1m0 35v1m2 -241v1m0 238v1m0 72v1m2 -402v1m0 11v2m0 77v1m0 157v2m0 71v1m0 20v1m0 57v1m2 -319v1m0 138v1m0 4v1m0 79v1m2 -70v1m0 31v1m2 -244v1m0 398v1m0 11v1m2 -165v1m0 5v1m2 15v1m2 -266v1m0 27v1m2 7v1m2 396v2m2 -390v1m0 2v1m0 227v1m0 4v1m2 91v1m0 33v2m0 1v1m0 8v1m2 -193v1m0 10v1m0 16v1m2 -190v1m0 164v1m0 34v1m2 -275v1m0 95v1m0 3v1m2 -61v1m0 2v1m0 11v1m0 160v2m0 2v1m2 172v1m2 -381v1m0 209v1m0 26v1m0 1v1m0 145v1m2 -395v1m0 3v1m0 395v1m0 7v1m2 12v1m2 9v1m2 -337v1m0 330v2m2 -155v1m2 11v1m2 -25v1m0 17v1m0 2v1m2 -24v1m0 33v1m0 133v2m2 -24v1m2 -24v1m0 9v1m0 9v1m0 3v1m2 -270v1m0 221v1m0 21v1m0 2v1m0 1v1m0 11v1m2 -260v1m0 4v1m0 210v1m2 -436v1m0 230v1m0 192v1m2 -401v4m0 33v2m0 2v2m0 176v1m0 42v1m0 135v1m2 -368v1m0 27v1m0 165v1m0 12v1m0 15v1m0 150v1m0 6v1m2 -194v1m0 20v2m0 4v1m0 167v1m2 -373v1m0 40v1m2 -46v1m0 17v1m0 185v1m0 19v2m2 -25v1m0 23v1m0 172v1m2 -388v1m0 203v1m0 22v1m0 9v1m0 155v1m2 -185v1m2 28v1m2 -224v1m0 399v1m2 -395v1m0 212v1m0 19v1m2 -232v1m0 15v1m0 198v1m0 20v1m2 5v1m0 85v2m0 2v2m0 26v1m0 6v1m0 1v1m0 5v1m2 -352v1m0 307v1m0 19v2m2 -402v1m0 27v1m0 7v1m0 216v1m2 -217v1m0 354v1m2 -373v1m0 38v1m0 132v2m0 58v1m0 141v1m0 6v1m4 -343v1m0 141v1m0 46v1m0 10v1m0 146v1m2 -376v1m0 202v1m0 26v1m2 157v1m4 -390v1m0 10v1m0 7v1m0 215v2m4 -246v1m0 406v1m2 -405v1m0 235v1m2 -3v1m4 10v1m0 13v1m2 -218v2m0 403v1m2 -411v1m0 395v1m2 -381v2m0 218v1m2 0v1m2 -226v2m0 238v1m2 113v1m2 -369v1m0 258v1m2 -230v1m0 233v1m0 2v1m0 86v1m0 32v1m0 5v1m2 -1v1m2 -166v1m0 24v2m2 -59v1m0 44v2m0 21v1m0 187v1m2 -257v1m0 253v1m2 -435v1m0 23v1m0 158v1m0 59v1m0 20v1m2 -81v1m0 41v1m2 -34v1m0 23v2m2 -260v1m0 248v1m0 4v1m0 50v1m2 -6v1m0 2v1m2 -83v1m0 70v2m2 -293v1m2 -3v1m0 78v1m0 112v1m0 2v1m0 26v2m0 2v1m2 -227v1m0 77v1m0 106v1m2 -113v1m0 129v1m2 -12v1m0 10v1m4 -6v1m0 2v1m0 22v1m2 -166v1m2 -65v1m0 222v1m2 7v2m2 -199v1m0 203v1m2 -227v1m2 5v1m0 216v1m0 5v1m2 -3v1m0 2v1m2 -9v1m0 178v1m2 -401v1m0 220v1m2 -215v1m0 219v1m0 172v1m2 -170v1m0 1v1m2 175v1m2 -149v1m2 -15v1m0 10v1m6 116v1m0 38v1m4 -398v1m0 11v1m0 2v2m0 356v1m0 1v1m0 42v1m0 4v1m2 -204v1m0 9v1m0 129v1m0 52v1m2 -414v1m0 432v1m2 -208v2m0 127v1m2 -147v1m0 6v1m0 25v1m0 16v1m0 3v1m0 1v1m0 89v1m2 -353v2m0 29v1m2 237v1m0 90v1m2 -377v1m0 7v1m2 -16v1m0 34v1m0 28v1m0 141v2m2 -215v1m0 58v1m2 -57v1m0 381v1m4 16v2m0 4v1m2 -396v2m2 0v1m0 232v1m2 7v1m2 2v1m2 -234v1m2 -4v1m4 229v1m2 176v1m2 -48v1m0 4v1m2 -362v1m2 262v1m2 -233v1m2 -62v1m0 29v1m2 4v1m0 15v1m0 165v1m0 163v1m2 -374v1m0 221v1m0 150v1m2 -159v1m0 160v1m2 -374v1m2 2v1m0 205v1m0 26v1m2 -6v1m0 151v1m2 -155v1m0 3v1m0 7v1m0 1v1m6 -227v1m0 222v1m0 4v1m2 -232v1m4 226v1m6 -217v1m0 371v1m4 -18v1m2 -362v1m0 348v1m2 -3v1m2 -353v2m0 206v1m0 137v1m2 -350v1m4 219v1m0 157v2m2 11v1m2 -399v1m2 7v1m0 7v1m0 391v1m0 1v1m2 -25v1m4 -170v1m0 5v1m2 -202v1m0 192v1m0 16v1m0 150v1m2 -173v1m0 169v1m2 -357v1m0 216v1m0 157v1m2 -167v1m2 -213v1m0 229v1m2 -234v1m0 1v1m0 231v1m0 155v1m0 4v1m4 -392v1m0 215v1m0 18v1m0 134v1m2 -379v1m0 10v1m0 223v1m0 127v1m2 -2v1m0 4v1m2 -159v1m2 8v1m0 148v1m2 -357v1m0 217v1m0 1v1m2 -227v1m2 364v1m2 -135v1m0 2v1m0 133v1m2 -371v2m0 370v1m2 -365v1m0 1v1m0 205v1m2 158v1m4 -375v1m4 203v1m4 -227v1m2 4v1m0 214v1m2 -199v1m2 4v1m0 375v1m0 11v1m2 -157v1m0 139v2m2 -162v1m0 4v1m0 23v2m2 -34v1m0 3v1m2 -207v1m0 20v1m0 209v1m0 126v1m4 -111v1m0 9v1m2 -36v1m2 144v1m0 4v1m2 -383v1m0 2v1m2 6v2m2 -9v1m0 207v1m0 9v1m0 10v1m0 11v1m2 161v1m2 -404v1m0 232v1m0 158v1m2 3v1m2 -19v1m2 -363v1m0 18v1m0 330v1m0 2v1m4 -165v1m0 6v1m2 -6v2m0 12v1m0 128v1m2 -359v1m0 201v1m2 12v1m0 145v1m2 -364v1m0 188v1m0 3v1m0 21v1m4 -6v1m0 1v1m4 -215v1m0 216v1m0 143v1m2 -141v1m6 -226v1m0 213v2m0 11v1m0 149v1m2 -172v1m2 11v1m0 7v1m0 19v1m0 160v1m0 2v1m2 -189v1m0 23v1m0 8v1m0 7v1m0 143v1m2 -407v1m0 24v1m0 390v1m4 -387v1m0 203v1m0 32v1m0 126v1m2 -143v1m0 12v1m0 9v1m0 118v1m2 -390v1m0 29v1m0 3v1m2 -52v1m0 14v1m0 13v1m0 34v1m0 163v1m0 147v1m2 -126v1m2 -35v1m0 11v1m0 3v1m0 5v1m0 1v1m4 -11v1m0 13v1m0 124v1m2 -172v2m0 4v1m2 -192v1m0 221v1m2 -234v2m0 207v1m0 2v1m0 12v1m2 -212v1m0 199v1m4 -206v1m0 205v1m0 12v1m0 9v1m2 -21v1m0 3v1m0 179v1m2 -4v1m0 2v1m2 -188v1m0 21v1m0 16v1m2 -233v1m0 210v1m0 6v1m0 30v1m2 -28v1m0 2v1m0 10v1m2 -246v1m0 1v1m0 14v1m2 -20v1m0 4v1m0 7v1m0 199v1m2 -195v1m2 355v1m4 -4v1m2 -380v1m2 13v1m0 4v1m0 353v1m2 -375v1m0 11v1m0 21v2m0 170v1m0 61v1m0 3v1m0 8v2m0 19v1m0 66v1m2 -82v1m0 2v1m2 -223v1m0 2v1m0 19v1m2 -90v1m0 24v1m0 173v1m0 159v1m2 -151v2m0 22v1m0 137v1m4 -377v1m0 223v1m0 8v1m2 -203v1m4 372v1m2 -362v1m0 208v1m0 146v1m2 -154v1m2 14v1m2 -239v1m0 355v1m2 -139v1m0 127v1m2 -364v1m0 14v1m2 195v1m0 19v1m0 1v2m0 125v1m2 -164v1m0 172v1m0 11v1m2 -385v1m0 189v1m0 16v2m4 199v1m0 1v1m4 3v1m4 -367v1m0 188v1m2 48v1m0 108v1m2 -166v1m0 33v1m0 2v2m0 1v1m4 -34v1m2 -222v1m0 2v1m0 12v1m0 194v1m0 185v1m2 -384v1m0 385v1m2 -168v1m4 8v1m2 -17v1m0 3v1m2 -198v1m0 3v1m0 180v1m0 19v1m0 11v1m0 12v1m0 2v3m2 -207v1m0 6v1m0 176v1m0 111v1m2 -125v1m4 -241v1m0 200v2m0 18v1m0 2v2m2 -234v1m0 192v1m0 18v1m0 9v1m0 12v1m2 -24v1m0 3v1m2 -224v1m0 219v2m0 174v1m2 -388v1m0 194v2m0 10v1m0 2v1m2 -213v1m0 218v1m0 173v1m2 -177v1m2 -215v1m2 217v1m2 -206v1m2 15v1m0 352v1m2 -161v1m0 8v1m0 3v1m0 24v1m0 131v1m2 -170v1m2 0v1m0 27v1"/>
<path stroke="#48ffb7" d="M134 173v1m0 23v1m0 15v1m0 185v1m2 -197v1m0 238v1m2 -226v1m0 1v1m0 200v2m2 -227v1m0 2v1m0 5v1m0 190v1m0 15v1m2 -212v1m0 2v1m0 19v1m0 184v2m0 12v1m0 16v1m0 132v1m2 -394v1m0 28v2m0 228v1m2 -241v1m0 2v1m0 188v1m0 27v1m0 1v1m0 164v1m2 -385v2m0 7v1m0 199v1m0 167v1m2 -385v1m0 7v1m0 1v1m0 382v1m2 -387v1m0 8v1m0 235v1m2 -229v1m0 243v1m2 -241v1m0 209v2m0 6v1m0 9v1m2 168v1m2 -414v1m2 24v1m0 2v1m0 223v1m2 -218v1m6 0v1m2 -9v1m0 372v1m2 -155v1m2 13v1m2 -13v1m0 128v1m4 -361v1m0 352v1m0 3v1m2 -170v1m0 6v1m0 43v1m0 3v1m0 4v1m0 2v1m2 -256v2m0 225v1m2 -10v1m0 129v1m2 9v1m2 -363v1m0 191v1m2 24v1m0 144v1m0 6v1m2 -352v1m0 155v1m0 12v1m0 13v1m2 -193v1m0 200v1m0 156v1m0 1v1m2 -375v1m0 187v1m0 10v1m0 4v1m0 176v1m2 -386v1m0 389v1m2 -388v1m0 215v2m0 13v1m0 169v1m2 -395v1m0 208v1m2 -216v1m0 229v1m0 29v1m0 146v1m4 -169v1m2 -196v1m2 369v1m2 -147v2m0 13v1m0 112v1m2 -172v1m0 62v1m2 -228v1m0 166v1m0 50v1m2 -34v1m0 8v1m2 -291v1m0 13v1m0 189v2m0 5v1m0 5v1m0 9v1m0 22v1m2 -244v1m0 4v1m0 18v1m0 186v1m0 3v1m0 180v1m2 -399v1m0 217v1m2 -215v1m0 12v1m0 2v1m0 1v1m0 9v1m0 197v1m0 169v1m6 -353v1m2 188v1m0 17v1m0 5v1m2 143v1m2 -375v1m0 2v1m0 202v1m0 29v1m0 1v1m0 8v1m4 -222v1m0 175v1m0 4v1m0 6v1m4 11v1m0 149v1m2 -403v1m2 249v1m0 166v1m2 -406v1m4 231v1m0 1v1m0 16v1m0 1v1m0 2v1m2 -15v1m0 180v1m0 1v1m2 -556v1m0 42v1m0 47v1m0 228v2m0 25v1m0 31v1m0 91v1m0 90v1m2 -405v1m0 29v1m0 4v1m0 197v1m0 181v1m0 6v1m2 -177v1m0 183v1m2 -174v1m0 142v1m2 -342v1m0 332v1m2 -343v1m0 237v1m0 72v1m2 -148v1m2 -198v1m0 8v1m0 41v1m0 236v1m2 -269v1m0 202v1m2 -256v1m2 8v1m0 195v2m0 31v1m0 147v1m4 -164v1m2 149v2m0 2v1m2 -16v1m4 -355v1m2 356v1m2 -184v1m0 165v1m2 -144v2m0 162v1m2 -404v1m0 2v1m0 234v1m0 5v1m2 167v1m2 -415v1m0 23v1m0 207v1m2 14v1m0 179v1m0 13v1m2 -188v1m0 26v1m2 4v1m2 -228v1m0 404v1m2 -408v1m0 242v1m0 90v1m2 -331v1m0 6v1m0 224v1m0 84v1m0 25v1m0 8v2m0 9v1m0 27v1m2 -133v1m2 8v1m0 71v1m2 -399v1m0 8v1m0 245v1m0 64v1m0 78v1m2 -351v1m0 168v2m0 7v1m0 108v1m0 4v1m2 -310v1m0 36v1m0 181v1m0 10v2m0 17v1m0 12v2m2 -274v1m0 215v1m0 5v1m0 20v1m2 -246v1m0 415v1m2 -388v1m0 230v1m0 7v1m0 5v1m0 166v1m2 -429v1m0 434v1m2 -165v1m2 -13v1m0 1v1m0 6v1m2 -230v1m0 15v1m0 221v1m2 -213v1m0 5v1m0 203v1m2 -27v1m2 -23v1m0 139v1m0 1v1m2 -157v1m2 -193v1m0 5v1m0 18v2m0 162v1m2 -225v1m0 229v1m0 170v1m2 -393v1m0 220v1m0 27v1m0 140v1m2 -153v1m0 168v2m6 -378v1m0 391v1m2 -152v1m2 -17v1m0 4v1m0 20v1m0 1v1m2 -232v1m2 191v1m0 8v2m0 28v1m0 5v1m2 -244v1m2 193v1m0 149v1m0 11v1m0 6v1m2 -283v1m0 249v1m2 -154v1m2 -203v1m2 -61v2m0 8v1m0 8v1m0 4v2m0 23v1m0 216v1m0 109v1m2 -361v2m0 171v1m0 9v1m0 2v1m2 -3v1m2 24v1m0 16v1m0 152v1m2 -369v1m0 183v2m2 8v1m0 1v1m0 189v1m2 -162v1m2 -15v1m0 30v1m2 -21v1m0 182v1m2 -178v1m0 1v1m2 11v1m2 28v1m0 143v1m2 -369v1m0 228v2m0 107v1m0 31v1m2 -473v2m0 72v1m0 318v1m0 18v1m0 12v1m2 -390v2m0 49v1m0 198v1m0 130v1m2 -386v1m0 21v1m0 12v1m0 22v1m0 190v1m0 31v1m0 99v1m2 -365v1m0 172v1m0 39v1m0 170v1m2 -383v2m0 5v1m0 204v2m0 168v1m2 -375v1m0 190v1m0 34v1m0 6v1m2 -2v1m2 -223v1m2 5v1m0 8v2m0 195v1m2 -209v1m0 7v1m0 213v1m2 -223v1m2 386v2m2 -183v3m2 6v1m2 -233v1m0 2v1m0 252v1m0 167v1m2 -393v1m0 2v1m0 401v1m2 -179v1m0 7v1m0 179v1m2 -172v1m2 -238v1m0 247v2m0 166v1m2 -414v2m2 2v2m0 243v1m2 96v1m2 -165v1m0 161v1m2 -325v1m0 158v1m0 191v1m0 4v1m0 7v1m0 22v1m2 -188v1m0 14v1m0 148v1m2 -141v1m2 -46v1m0 21v1m0 16v1m0 119v1m2 -367v1m2 12v3m0 251v1m2 -35v1m0 7v1m2 120v1m2 -389v1m0 3v1m2 359v1m2 -148v1m0 5v1m0 125v1m2 -52v1m4 -301v1m0 220v1m2 -45v2m2 -114v1m0 12v1m2 -85v1m0 72v1m0 308v1m2 -152v1m6 -218v1m2 8v1m2 3v1m0 217v1m2 -233v1m0 395v1m4 -174v1m0 7v1m2 -231v1m4 245v1m4 162v1m4 -394v1m2 231v1m0 171v1m4 -154v1m0 157v1m2 -166v1m0 114v1m0 17v1m2 -149v2m0 198v1m2 -8v1m4 -223v1m2 -3v1m0 165v1m2 -373v1m0 292v1m2 -303v1m0 294v1m0 2v1m2 -297v1m0 33v1m0 5v1m0 22v1m0 163v1m2 -235v1m0 214v1m0 1v1m2 -225v1m0 8v1m2 241v1m0 148v1m2 -388v2m0 218v1m0 171v1m2 3v1m4 -151v1m2 -12v1m0 10v1m0 1v1m0 150v1m2 8v1m2 -163v1m4 -221v1m0 394v1m2 -386v1m0 1v1m2 213v1m0 155v2m2 -155v1m0 1v1m0 113v1m2 -326v1m0 221v1m0 12v1m0 81v1m4 -321v1m0 12v1m2 -9v1m0 158v1m0 3v1m0 24v1m2 -218v1m0 190v1m2 9v1m2 -219v1m0 219v1m2 -204v1m0 190v1m0 1v1m0 5v1m0 21v1m4 -21v1m0 169v1m2 -372v1m2 205v1m2 173v1m4 -381v2m0 3v1m2 373v1m2 -163v1m2 -212v1m0 374v1m0 3v1m2 -1v1m2 -22v1m0 13v1m2 -16v1m2 -11v1m2 -354v1m0 214v1m4 130v1m4 -148v1m2 -214v1m0 390v1m0 2v1m2 -394v1m0 222v1m0 174v1m2 -173v1m0 5v1m4 145v1m2 -163v1m0 13v1m2 -8v2m0 154v1m4 -141v1m0 1v1m0 143v1m0 7v1m2 -169v1m2 4v1m0 4v1m0 16v1m0 150v1m2 5v1m2 -390v1m0 394v1m2 -403v1m0 240v2m0 149v1m2 -177v1m0 163v1m2 -170v1m2 149v1m4 -359v1m0 3v2m0 221v1m0 2v1m2 137v1m2 -374v1m2 236v1m0 2v1m2 -13v1m2 -14v1m0 162v1m2 -149v1m2 -214v2m2 -23v1m2 -8v1m0 375v1m2 -379v1m0 221v1m4 -7v1m2 -211v1m0 209v1m0 1v1m0 4v1m2 5v1m0 170v1m2 -385v1m0 8v1m2 207v1m0 157v1m0 3v1m0 9v1m2 -370v1m0 205v1m0 19v1m2 -35v1m0 5v1m0 13v1m0 30v1m2 -245v1m0 196v1m2 -202v1m0 214v1m0 17v1m0 126v1m0 2v1m2 -384v1m0 227v1m0 1v1m2 -18v1m0 28v1m0 143v1m2 -372v1m0 223v1m0 147v1m2 -133v1m2 -4v1m2 -235v1m0 204v1m0 21v1m0 161v1m2 -180v1m0 26v1m0 158v1m2 -160v1m2 -246v1m0 247v1m0 144v1m2 -151v1m2 -218v1m0 345v1m0 7v1m2 -344v1m0 185v1m0 8v1m2 -208v1m0 184v1m0 18v1m0 7v1m2 -29v1m2 -10v1m4 -224v1m0 230v1m0 3v2m4 -231v1m0 216v1m2 -19v1m0 12v1m0 11v1m0 3v1m4 -11v1m0 1v1m2 -213v1m0 9v1m2 190v2m0 18v1m0 13v1m2 -39v1m0 166v1m6 -360v1m2 -6v1m2 27v1m0 209v1m2 -4v1m0 3v1m0 19v1m0 2v1m0 130v1m2 -351v1m0 210v1m0 4v1m0 123v1m2 -152v1m0 9v1m0 9v1m0 112v1m0 12v2m2 -393v1m0 10v2m0 219v1m0 13v2m0 9v1m0 9v1m2 -230v1m0 6v1m0 176v1m6 -19v1m0 13v1m0 3v1m0 9v1m2 -230v2m0 220v1m0 157v1m2 -375v1m0 196v2m0 5v1m0 20v1m2 -242v1m2 219v1m2 184v1m2 -167v1m2 -216v1m0 4v1m0 199v2m0 10v1m0 16v1m0 11v1m0 143v1m2 -184v1m0 178v1m2 -389v1m0 5v1m0 387v1m2 -158v1m0 10v1m0 144v1m2 -395v2m0 237v1m2 -241v1m0 2v1m0 14v1m0 378v1m2 -392v1m0 207v1m0 25v1m0 5v1m0 5v1m0 148v1m2 -381v1m2 -11v1m0 356v1m0 18v1m0 15v1m2 -398v1m0 17v2m0 6v1m0 349v1m0 1v1m2 -370v1m0 223v1m4 -244v2m0 8v1m2 -11v1m0 37v1m0 241v1m2 -260v1m0 237v1m0 13v2m0 21v1m2 -290v1m0 5v1m0 68v2m0 125v1m0 148v1m2 -151v1m0 8v1m2 -211v1m0 202v1m0 12v1m2 3v1m2 -228v1m2 391v1m2 -1v1m0 3v1m2 -143v1m0 147v1m2 -377v1m2 4v1m0 357v1m2 -166v1m0 3v1m0 23v1m0 127v1m4 -366v1m2 -26v1m0 23v1m4 183v1m0 21v1m0 7v1m0 149v1m2 -190v2m0 49v1m2 -38v1m0 23v1m0 21v2m2 -31v1m0 7v1m0 25v1m0 148v1m4 -391v1m0 24v1m0 208v1m0 1v1m0 160v1m2 -366v1m0 194v1m0 25v1m2 -8v1m2 -224v1m0 212v1m2 -243v1m0 228v1m0 1v1m0 22v1m0 1v1m2 -13v1m4 -237v1m0 20v1m0 189v1m0 183v1m4 -159v1m0 8v1m2 -8v1m2 12v1m0 135v1m4 -359v1m0 215v2m0 13v1m0 117v1m0 1v1m2 -360v1m0 5v1m0 38v1m2 5v1m0 13v2m0 271v1m2 -189v1m0 28v1m0 25v2m4 -50v1m0 52v1m2 -20v1m4 -233v1m0 210v1m0 2v1m0 28v1m0 146v1m2 -180v1m0 1v1m0 6v1m0 15v1m0 2v2m0 1v1m2 -237v1m0 225v2m0 160v1m2 -2v1m0 1v1m4 -353v1m0 207v2m2 -218v1m0 16v1m2 177v1m0 5v1m0 161v1m2 -379v1m0 7v1m0 208v2m0 161v1"/>
<path stroke="#6bff94" d="M134 174v1m0 23v1m0 32v1m2 -45v1m0 204v2m0 2v1m0 31v1m0 10v1m2 -243v1m0 7v1m0 178v1m0 23v2m0 13v1m0 144v1m2 -377v1m0 20v1m0 223v1m2 -246v1m2 -17v1m0 23v1m0 17v1m0 195v1m2 -213v1m0 204v1m0 6v1m0 6v2m0 12v1m0 7v1m2 -260v1m0 22v1m0 16v1m0 170v1m0 44v2m0 139v1m2 -382v1m0 14v1m0 375v1m2 -390v1m2 14v1m2 382v1m2 -387v1m0 405v1m2 -177v1m2 -2v1m2 -2v1m0 169v1m2 10v1m4 -173v1m0 163v1m0 1v1m2 -162v1m0 2v2m0 9v1m0 137v1m2 -376v1m0 220v1m2 17v2m4 -35v1m2 134v1m2 -162v1m0 161v1m2 -9v1m4 -346v1m0 221v1m0 125v1m2 -340v1m0 177v1m0 9v1m0 31v1m2 -42v1m0 173v1m2 -352v1m0 191v2m4 -27v2m0 9v1m0 17v1m0 1v1m0 161v1m2 -145v1m0 153v1m4 -396v1m0 22v1m2 -4v1m0 250v1m2 -247v1m0 239v1m2 -12v1m0 169v1m2 -8v1m0 3v1m0 5v1m2 -389v1m0 246v1m0 122v1m0 3v2m0 6v1m2 -132v1m0 80v1m2 -143v1m0 37v1m0 56v2m0 8v1m0 26v1m2 -318v1m0 16v1m2 -53v1m0 238v1m0 114v1m2 -378v1m2 -14v1m0 2v1m0 190v1m0 7v1m0 19v1m4 -218v1m0 19v1m2 -18v1m0 237v1m2 -14v1m4 -194v1m0 221v1m0 146v1m0 1v1m2 -152v1m0 132v1m0 2v1m2 -162v1m0 6v1m0 19v1m0 126v1m2 -346v1m0 176v1m0 30v1m4 -238v1m0 23v2m0 186v1m0 2v1m0 2v1m2 3v1m2 -220v1m0 1v1m0 219v1m0 169v1m0 4v1m2 4v1m2 5v1m0 3v1m6 -409v1m0 18v1m0 215v1m0 30v1m0 162v1m2 -395v1m0 1v1m0 221v1m0 75v1m2 -304v1m0 23v1m0 225v1m2 -239v1m0 7v1m0 240v1m0 160v1m2 -16v1m0 2v1m2 -366v1m0 341v1m0 15v1m2 -153v1m0 105v2m2 -153v1m0 2v2m2 -198v1m0 44v1m0 137v1m0 52v2m2 -224v1m0 46v2m0 273v1m2 -357v1m0 221v1m0 2v1m0 137v1m2 -172v2m0 19v1m0 6v1m6 -245v1m0 21v1m0 192v1m0 159v1m0 1v1m2 -140v2m4 -37v1m4 -177v1m0 180v1m0 2v1m2 159v1m2 -398v1m0 224v1m0 173v1m0 1v1m0 8v1m2 10v1m2 -397v1m0 199v1m0 34v1m0 156v1m2 -365v1m0 378v1m0 4v1m2 -163v1m2 -244v1m0 252v1m0 1v1m0 2v2m2 6v2m0 159v1m2 -392v1m0 1v1m0 222v1m0 82v1m0 16v1m0 8v1m2 -35v1m0 19v1m0 23v1m0 37v1m0 4v1m2 -168v1m0 7v1m0 36v1m0 125v1m2 -384v2m0 319v1m2 -397v1m0 13v2m0 57v1m0 179v1m0 10v1m0 7v1m0 11v1m2 -246v1m2 8v1m0 199v1m0 8v1m0 7v2m0 33v1m0 127v1m2 -6v1m0 14v1m2 -422v1m0 34v1m0 394v1m2 -192v1m2 -227v2m0 259v1m0 170v1m6 -388v1m0 368v1m0 7v2m2 -352v1m0 181v1m0 118v1m0 5v1m2 -138v1m0 2v1m0 6v1m0 17v1m0 90v1m0 14v1m2 -314v1m0 21v1m2 130v1m0 158v1m0 1v1m2 -386v1m0 11v2m0 22v1m0 186v1m0 18v1m2 -5v1m0 155v1m2 -395v1m0 1v1m0 398v1m2 -378v1m0 381v1m0 3v1m2 -156v1m0 155v1m0 8v1m4 -386v1m0 11v1m0 203v1m0 182v1m0 2v1m2 -400v1m2 8v1m0 219v1m2 1v1m0 27v1m0 133v1m2 -316v1m0 141v1m0 4v1m0 12v1m0 9v1m0 141v1m2 -306v1m2 10v1m2 -1v1m0 4v1m0 230v1m0 2v1m0 23v1m2 -172v1m0 121v1m0 11v1m2 -138v1m0 18v1m0 107v1m2 -396v1m0 19v1m0 14v1m0 29v1m0 144v1m0 21v2m2 0v1m0 35v1m2 -233v1m0 183v1m0 37v1m2 -217v1m0 174v1m2 -179v2m0 199v1m0 177v1m2 -184v3m0 19v1m0 161v1m0 3v1m2 -163v1m2 -232v1m0 15v1m0 1v1m2 -14v1m0 19v1m0 392v1m2 -192v1m0 3v1m0 22v1m0 166v1m2 -155v1m2 -233v1m0 208v1m0 7v1m0 2v1m2 17v1m0 101v1m0 3v1m0 6v1m2 -419v1m0 66v1m0 18v2m0 354v1m2 -398v1m0 236v1m0 115v1m2 -381v1m0 28v2m0 6v1m0 355v1m2 -136v2m0 6v2m0 1v1m2 -73v1m0 41v1m2 -213v1m0 201v1m0 25v1m0 2v1m0 6v1m2 -234v1m2 209v1m2 -196v1m0 207v1m0 165v1m2 -385v1m2 1v1m4 210v1m0 8v1m2 -229v1m2 250v2m4 -244v1m0 25v1m0 217v1m2 13v1m0 154v2m2 -173v1m0 194v1m2 -415v1m4 350v2m0 4v1m4 -176v1m0 196v1m2 -142v1m4 -37v1m0 8v2m0 8v1m0 2v1m0 2v2m0 9v1m0 119v1m0 88v1m2 -400v1m0 209v1m0 11v1m2 -291v1m0 3v2m0 4v1m0 259v1m0 1v1m0 108v1m0 2v1m2 -102v2m0 10v1m2 -47v1m2 -27v1m0 149v1m2 -28v1m0 4v1m2 -132v1m2 -235v1m2 348v1m2 -347v1m0 2v1m0 201v1m0 6v1m0 136v1m6 -274v1m2 136v1m0 158v1m0 3v1m2 -168v1m0 166v1m2 8v1m2 -394v1m0 2v1m0 222v1m2 -218v1m2 8v1m0 224v1m2 -228v1m2 -3v1m0 225v1m0 5v1m0 167v1m2 -406v1m0 3v1m4 6v1m0 12v1m0 206v1m2 17v1m0 160v1m2 -390v1m2 -4v1m2 8v1m0 238v1m0 147v1m2 -164v1m4 8v1m2 126v1m2 -4v1m0 10v1m2 -14v1m0 58v1m2 -11v1m0 2v1m0 19v1m4 -232v1m0 57v1m2 -259v1m0 201v1m2 -213v1m0 289v1m0 6v1m2 -268v1m0 4v1m0 266v1m2 -323v1m0 6v1m0 1v1m0 49v1m0 13v1m0 145v1m0 15v1m2 -240v1m0 67v1m0 156v1m0 16v1m2 -234v1m2 -5v1m0 98v1m0 4v1m2 144v1m2 -233v1m0 228v1m4 -229v1m2 236v1m0 157v1m0 2v1m0 2v1m2 -175v1m0 6v1m2 168v1m0 3v2m2 -178v1m0 175v1m2 -385v1m0 212v1m2 4v1m2 165v1m4 -147v1m0 10v1m2 -29v1m0 13v1m0 94v1m2 -151v1m0 3v1m2 -206v2m0 239v1m2 -262v1m0 226v1m2 -231v1m6 228v1m0 5v1m0 11v1m2 3v1m4 -227v1m0 2v1m0 210v1m4 -207v1m0 220v1m2 1v1m0 22v1m0 133v1m4 -168v1m0 4v1m0 161v2m4 -8v1m2 -375v1m2 352v1m0 7v1m0 6v1m2 -18v1m2 -155v1m0 15v1m2 132v1m2 -362v1m0 4v1m0 200v1m0 162v1m2 -150v1m2 157v1m2 -385v1m0 394v2m0 1v1m2 -163v1m0 2v1m0 4v1m2 -9v1m0 173v1m2 -394v1m0 3v1m0 375v2m2 -12v1m2 -371v1m0 364v1m4 6v1m2 -367v1m0 369v1m4 -136v1m4 -10v1m2 164v1m6 -378v1m0 338v1m2 -143v1m2 147v1m0 5v1m2 -367v1m2 0v1m2 220v1m0 9v1m6 -225v1m0 202v1m8 -235v1m0 20v1m2 364v1m0 5v1m2 -154v1m2 -226v1m0 210v1m0 16v1m0 158v1m2 12v1m2 -8v1m0 1v1m2 -381v1m0 210v1m4 -202v1m0 5v1m0 195v1m0 2v1m0 30v2m0 119v1m2 -354v1m2 -8v1m0 188v1m0 4v1m0 5v1m0 9v1m0 4v1m2 -22v1m0 3v1m4 0v2m0 25v1m2 -234v1m0 8v1m0 1v1m0 207v3m0 156v1m0 2v1m0 4v1m2 -382v1m0 10v1m0 227v1m0 143v1m0 2v1m2 -384v1m0 384v1m0 2v1m4 -164v2m0 171v1m2 -182v1m0 9v1m0 152v1m0 7v1m2 -367v1m2 342v2m2 -147v1m2 -237v1m0 241v1m2 -24v1m0 145v1m2 -157v1m2 -217v1m0 13v1m4 -17v1m0 207v1m4 4v1m0 156v1m2 -149v1m0 144v1m2 -142v1m2 140v1m2 -353v2m0 197v1m0 155v1m2 -167v1m0 169v1m0 4v1m4 -384v1m0 251v1m0 160v1m2 -412v1m0 249v1m0 5v1m0 156v1m2 -407v1m2 413v1m2 -153v1m0 133v1m0 11v1m2 -167v1m0 14v1m0 5v1m2 -30v2m0 4v1m2 -230v1m0 37v1m0 159v1m2 -2v1m0 17v2m2 -10v1m2 -228v1m2 229v1m2 -226v1m0 204v1m2 -217v1m2 6v1m2 13v1m2 -8v1m0 205v1m2 26v1m2 -31v2m0 19v1m0 14v1m0 2v1m0 8v1m2 -250v1m0 5v1m0 229v1m0 152v1m0 7v1m2 -182v1m2 -207v1m0 4v1m0 204v1m0 7v1m0 20v1m2 -242v1m0 219v2m2 -214v1m2 -9v1m0 1v2m0 214v1m0 16v1m0 1v1m2 -232v1m0 3v1m0 200v1m0 5v1m0 172v1m0 1v1m2 -160v1m0 136v1m0 7v1m0 21v1m2 -402v1m0 377v1m0 10v2m2 -153v1m6 -218v1m0 224v2m0 16v1m0 5v2m0 6v2m0 77v1m2 -353v1m0 1v1m0 32v1m0 176v1m0 11v1m0 28v2m0 86v1m0 5v1m2 -354v1m0 11v2m0 56v1m0 11v1m2 267v1m4 -356v1m0 372v1m2 -384v1m2 388v1m2 -152v1m0 163v1m2 -157v1m0 158v1m2 -145v1m0 14v1m4 -251v1m0 229v1m0 130v1m2 -369v1m0 210v2m0 13v1m0 2v1m2 -230v1m0 355v1m2 -380v1m2 370v1m2 -365v1m0 196v1m0 181v1m0 5v1m2 -187v1m0 19v1m0 19v2m0 152v1m2 -177v1m0 19v1m0 162v1m0 3v1m0 1v1m2 -4v1m2 -165v1m2 -10v1m0 16v2m0 21v1m0 137v1m2 -151v1m0 11v1m4 1v1m2 -39v1m0 164v2m2 -363v1m0 198v1m0 17v1m2 -16v1m4 -218v1m0 225v1m0 9v1m0 155v1m2 -407v1m4 394v1m2 -360v1m0 206v1m0 20v1m2 -9v1m0 5v2m0 126v1m2 -367v1m0 58v1m0 152v1m0 135v2m0 9v1m2 -362v1m0 82v1m0 139v1m0 115v1m2 -213v1m2 -150v1m0 23v1m0 175v1m0 19v1m2 -230v1m0 204v1m0 5v2m0 17v1m0 7v1m0 141v1m2 -152v1m0 151v1m2 -164v1m0 1v1m2 -221v1m0 214v2m0 16v1m2 -228v2m0 204v1m0 26v1m2 -235v1m0 214v2m0 1v1m2 -2v1m2 -85v1m2 -100v1m0 204v1m0 149v1m2 -353v1m0 204v1m2 -217v1m0 16v1m2 -7v1m0 352v1m2 -389v1m0 1v1m0 240v1"/>
<path stroke="#8fff70" d="M134 200v1m0 215v2m2 -21v1m0 40v1m0 7v1m2 -258v2m0 1v1m0 5v1m0 16v1m0 169v1m0 36v1m0 19v1m4 -252v1m0 245v1m0 139v1m2 -393v2m0 24v1m0 5v1m2 357v1m0 6v1m2 -379v1m0 234v1m0 149v1m2 -149v1m0 148v1m2 -156v1m0 6v1m2 -15v1m0 2v1m0 168v1m2 -398v1m0 245v1m0 3v1m0 147v1m0 3v1m0 1v1m0 13v1m2 -393v1m8 377v1m0 12v1m2 -390v1m0 1v1m0 228v1m4 -8v1m0 155v1m2 -373v1m2 357v1m4 -371v1m0 8v1m2 -11v1m2 195v1m0 32v1m0 120v1m2 -131v1m0 4v1m0 111v1m0 2v1m2 -111v2m0 116v1m2 -146v1m2 -209v1m0 358v1m2 -167v1m4 15v1m0 155v1m2 -356v1m2 216v1m0 156v1m2 -166v1m0 4v1m2 -234v1m0 246v1m0 10v1m0 145v1m2 -152v1m2 -249v1m2 21v1m0 390v1m2 -377v1m0 1v1m2 213v2m0 6v1m0 127v1m0 4v1m2 -354v1m2 5v1m0 4v2m0 231v1m0 69v1m2 -329v1m0 21v1m0 199v1m0 13v2m2 -103v1m0 69v2m2 -222v1m0 177v1m0 165v1m2 -379v1m0 186v1m0 24v1m0 13v1m2 -228v1m0 195v1m2 -210v1m0 5v1m0 9v1m0 7v1m0 217v1m2 -234v1m0 224v1m0 170v1m2 11v1m2 -10v1m0 4v1m0 2v1m2 -153v1m2 139v1m2 -357v1m0 187v1m0 24v1m2 -33v1m0 3v1m0 4v1m0 25v1m4 -253v1m0 18v1m0 14v1m0 181v1m2 -4v1m2 25v1m2 -241v1m0 7v1m2 0v1m4 246v1m0 172v1m2 -399v1m0 223v1m0 10v1m0 165v1m2 -525v1m0 62v1m0 16v1m0 33v1m0 31v1m0 207v1m0 18v1m0 69v1m0 15v1m2 -333v1m0 20v1m2 251v2m4 -5v1m0 102v2m0 1v2m0 5v1m0 14v1m2 -135v1m0 16v2m2 -230v1m0 217v1m2 -268v1m0 49v2m0 151v2m0 47v1m0 3v1m2 -271v1m0 43v1m0 8v1m0 136v1m0 14v1m2 29v1m2 -8v1m0 10v2m4 -238v1m0 370v1m2 -367v1m0 194v2m0 4v1m0 159v1m2 -368v1m0 202v1m0 13v1m2 -215v1m0 197v1m0 8v1m4 -199v1m0 186v1m2 149v1m2 1v1m4 -163v1m0 189v1m2 -395v1m0 205v2m0 22v2m0 3v1m0 2v1m2 -4v1m0 165v1m0 1v1m0 12v1m4 -409v1m0 11v1m0 215v1m4 20v1m2 -232v1m0 23v2m0 211v1m0 13v1m0 104v1m0 6v1m2 -107v1m0 83v1m0 58v1m0 5v1m4 -193v2m0 51v1m0 90v1m2 8v1m2 -370v1m0 10v1m0 2v1m0 194v1m0 18v1m0 5v1m0 1v2m0 4v1m0 123v1m2 -380v1m0 388v1m2 -394v1m0 405v1m2 -151v1m0 168v1m2 -422v1m0 422v1m2 7v1m2 1v1m2 -379v1m0 187v2m2 -1v1m0 8v1m0 2v1m0 9v1m0 107v1m2 -109v1m2 -11v1m4 -252v1m0 362v1m2 13v1m2 -174v2m2 -195v1m0 206v1m0 9v1m0 159v1m2 -390v1m2 402v1m4 13v1m0 2v1m2 -393v1m0 216v1m2 -235v1m0 232v1m0 5v1m0 165v1m2 -174v1m0 16v1m0 1v1m2 -159v1m0 293v1m0 7v1m2 -382v1m0 87v1m0 128v1m0 140v1m0 12v1m0 2v1m2 -280v1m0 226v1m0 1v1m0 30v1m2 -172v1m0 25v1m0 103v1m2 -427v1m0 219v1m0 5v2m2 -179v2m0 50v1m2 132v1m0 32v1m0 158v1m2 -187v1m0 27v1m4 -208v1m0 193v1m4 -196v1m0 227v1m0 163v1m2 -155v1m0 165v1m2 -403v1m0 412v1m2 -402v1m0 218v1m0 180v1m2 -385v1m2 210v1m0 25v1m0 2v1m2 -221v1m0 285v2m0 21v1m0 62v1m2 -375v1m0 298v1m0 19v1m0 34v1m2 -392v1m0 340v1m0 1v1m2 -341v1m0 349v1m2 -136v1m2 -46v2m0 193v1m0 9v1m2 -200v1m0 9v3m0 28v1m0 4v1m0 7v2m2 -27v1m0 10v1m2 6v1m0 166v1m0 1v1m2 -380v1m0 379v1m2 -366v1m2 -25v1m4 -13v1m0 226v1m0 13v1m0 169v1m2 -179v1m2 -219v1m0 229v1m0 170v1m0 7v1m2 -181v1m0 1v1m2 -225v1m0 236v1m4 -220v1m0 218v1m0 10v1m2 -5v1m2 -217v1m2 2v1m2 172v1m0 2v1m0 13v1m4 22v2m0 32v1m0 110v1m0 7v1m0 4v1m2 -172v1m0 30v1m2 -36v1m2 -10v1m0 48v1m0 22v1m0 88v1m2 -169v1m0 7v1m0 32v1m0 15v1m0 6v1m2 -248v1m0 350v1m2 -168v1m0 29v1m2 -232v1m0 220v1m0 121v1m0 4v1m2 -153v1m0 4v1m2 73v1m0 41v1m2 -348v1m2 79v2m0 118v1m0 96v1m2 -284v1m0 156v2m2 19v1m4 -180v1m0 56v1m0 9v1m6 -80v1m2 -1v1m2 2v1m0 391v1m6 -387v1m4 400v1m4 -170v1m0 1v1m2 21v1m0 148v1m0 2v1m2 -396v1m0 238v1m2 -238v1m2 -9v1m0 2v1m2 401v1m2 -162v1m0 6v1m0 159v1m0 3v1m2 -170v1m0 123v1m2 -7v1m0 5v1m0 20v1m2 -155v1m0 22v1m0 154v1m0 4v1m0 3v1m2 -192v1m2 -191v1m0 208v1m2 21v1m2 -70v1m0 79v1m2 -8v1m0 2v1m2 -251v1m0 169v1m0 89v2m2 -300v1m0 28v1m0 179v2m2 -227v1m0 392v1m2 1v1m2 -380v1m0 3v1m0 83v1m0 296v1m2 -159v1m0 25v2m2 143v1m0 2v1m4 -390v1m2 2v1m0 391v1m0 3v1m2 -5v1m0 1v1m2 -174v1m0 177v1m2 -167v1m4 171v1m2 -14v1m0 6v1m4 -368v1m0 317v1m2 -101v1m2 -8v1m2 -266v1m0 44v2m0 202v1m4 -224v1m4 364v1m2 -176v2m0 22v1m0 153v1m2 -387v1m0 1v1m0 233v1m0 1v1m0 146v1m0 4v1m2 -381v1m4 6v2m0 228v1m2 -6v1m2 10v1m0 10v1m4 -32v1m4 -2v1m0 169v1m2 -165v1m4 -219v1m0 352v1m2 -159v1m0 144v1m2 -339v1m0 197v1m0 142v1m4 8v1m0 2v1m4 -154v1m2 -216v1m0 3v1m0 220v1m2 164v1m6 -377v1m2 194v2m2 13v1m0 4v1m0 148v1m0 6v1m10 -377v1m0 232v1m0 160v1m6 -37v1m0 8v1m2 -366v1m0 9v1m2 186v1m0 165v2m2 -361v1m6 -9v1m0 228v1m2 -227v1m0 8v1m2 -9v1m0 377v1m2 -4v1m2 -359v1m2 -25v1m0 9v1m0 357v1m2 -160v1m4 -222v1m0 386v1m2 -389v1m2 9v1m0 232v1m0 161v1m2 -385v1m2 -3v1m0 8v1m2 380v1m2 -376v1m0 4v1m0 214v1m0 142v1m2 -352v1m2 -27v1m0 16v1m0 358v2m2 -378v1m0 209v1m4 -216v1m0 238v2m10 175v1m2 -400v1m0 215v1m0 25v1m2 139v1m0 5v1m4 -367v1m0 186v1m4 -202v1m0 207v1m2 -207v1m0 339v1m2 -155v1m0 7v2m0 11v1m0 133v1m2 -153v1m2 -213v1m0 4v1m0 207v1m4 -13v1m2 -207v1m2 2v1m2 220v1m2 138v1m2 -128v2m4 -4v1m2 -241v1m0 220v1m0 17v1m0 10v1m0 156v1m2 16v1m2 -412v1m0 17v1m0 227v1m0 8v1m0 156v1m2 -399v1m0 389v1m2 -149v1m2 -226v1m0 206v1m0 5v1m0 12v1m2 -218v2m2 -35v1m0 5v1m0 26v1m0 205v1m0 2v1m2 -258v1m0 25v2m0 3v1m0 3v1m0 329v1m2 -361v1m0 361v1m4 -382v1m0 9v1m0 204v1m0 3v1m0 19v2m2 -26v2m0 21v1m2 -10v1m2 -226v1m0 18v1m0 374v1m2 -153v1m0 156v1m2 -394v1m2 9v1m2 205v1m0 7v1m0 34v1m0 1v2m4 -35v1m0 10v1m0 12v1m0 3v1m2 -237v1m0 1v1m0 212v1m2 11v1m2 -24v1m0 15v1m2 -219v1m0 1v1m0 219v1m2 -229v2m0 7v1m0 214v1m2 -217v1m0 226v2m0 125v1m2 -344v1m0 344v1m0 7v2m0 29v1m4 -410v1m0 241v1m0 7v1m2 -25v2m0 138v1m2 -369v1m0 22v1m0 216v1m0 3v1m0 24v2m0 20v1m0 8v1m0 5v1m0 55v2m0 4v1m2 -356v1m0 1v1m0 30v1m0 205v1m0 42v1m2 -292v1m0 5v1m0 20v1m0 1v1m0 315v1m2 -149v2m2 -201v1m0 204v1m0 18v1m0 134v1m0 3v1m2 -367v1m0 368v1m2 3v1m4 -360v1m0 229v2m0 144v1m0 1v1m2 -389v1m2 17v1m0 252v1m2 103v1m0 5v1m2 -156v1m0 16v1m0 5v1m2 -16v1m2 -238v1m0 202v1m0 153v1m2 -353v1m0 3v1m0 206v1m0 9v1m0 1v1m2 -239v1m0 9v1m2 -17v1m0 18v1m2 -1v1m0 190v1m0 1v1m0 17v1m0 11v1m0 1v1m4 171v1m2 -395v1m0 9v1m0 238v1m2 6v1m2 -260v1m0 245v1m2 -216v1m0 3v2m0 235v2m2 -244v1m0 5v1m0 225v1m0 125v1m2 -357v1m0 183v1m0 36v1m0 11v1m4 -249v1m2 206v1m0 28v1m0 147v2m6 -161v2m2 -221v2m0 4v1m0 368v1m2 -362v1m2 180v1m0 42v1m2 -229v1m0 31v1m0 5v2m0 301v1m2 -17v1m0 8v1m2 -200v1m0 65v1m2 -213v1m0 196v1m2 -219v1m0 212v1m4 -221v1m2 224v1m0 161v1m2 3v1m2 -388v1m0 206v1m2 177v1m0 2v1m2 -239v1m0 82v1m2 -201v1m0 189v1m2 -196v1m0 209v1m2 3v1m0 2v1m0 145v1m4 -393v1m0 224v1m0 13v1"/>
<path stroke="#b2ff4d" d="M134 403v1m0 2v1m2 -197v1m0 2v2m2 -22v2m0 8v1m0 249v1m0 115v2m2 -371v1m0 223v2m0 12v1m2 -230v1m0 186v3m0 7v1m0 19v1m0 147v1m2 -395v1m0 218v1m0 178v1m2 -372v1m0 202v1m0 173v1m2 -179v1m0 8v1m4 14v1m2 -228v1m0 218v1m0 6v1m0 17v1m2 4v1m2 163v1m0 1v1m2 -173v1m4 171v1m2 -159v2m0 146v1m2 -377v1m0 230v1m4 -228v1m0 224v1m2 -14v2m0 15v1m0 128v1m0 1v1m0 10v1m4 -168v1m0 142v1m0 1v1m2 -366v1m0 225v1m0 138v1m2 -148v1m2 -213v2m0 207v1m2 13v2m2 118v1m2 -350v1m0 236v1m2 120v1m2 -161v1m0 11v1m0 1v1m2 -211v1m0 358v1m0 3v1m4 -371v1m2 -8v1m0 6v1m0 222v1m0 8v1m2 161v1m4 -385v1m0 241v1m0 151v2m2 -178v1m0 27v1m0 6v1m2 -1v1m0 7v1m0 140v1m0 1v1m2 -396v1m2 27v1m0 211v1m0 11v1m2 8v2m0 87v1m2 -322v1m0 224v2m0 83v1m2 -323v1m0 233v1m0 88v1m2 -357v1m0 35v2m0 190v1m2 -193v1m0 129v2m0 43v1m2 -233v2m0 11v1m0 180v1m0 28v1m2 -11v2m0 164v1m2 -397v1m0 1v1m2 405v2m2 7v1m2 -175v1m0 10v1m2 -9v1m0 17v1m2 -18v1m0 14v1m4 -208v1m0 176v2m0 26v2m0 2v1m4 -251v1m0 6v1m0 13v1m0 15v1m0 180v2m6 186v1m2 -183v1m2 -222v1m0 244v1m0 163v2m2 -395v1m0 217v1m0 190v1m2 -402v1m0 2v1m0 216v1m0 26v1m0 156v1m2 -522v1m0 132v1m0 7v1m0 220v1m0 47v1m0 118v1m2 -176v1m0 188v1m2 -175v1m0 179v1m2 -380v1m0 347v1m0 6v1m0 19v1m2 -383v1m0 334v1m0 3v1m0 10v1m0 1v1m2 -389v1m0 56v1m0 201v1m0 106v1m2 -91v1m2 -271v1m0 7v2m0 179v1m0 3v1m0 11v1m0 22v1m0 56v1m0 23v1m2 -278v1m0 177v1m0 3v1m0 7v1m0 45v1m2 -293v1m0 13v1m0 184v1m0 17v1m2 -5v1m0 13v1m0 3v1m0 9v1m0 139v2m2 -379v1m0 374v1m2 -380v1m2 239v1m0 133v1m2 -5v1m2 -163v1m0 10v1m0 2v1m0 131v1m2 -338v1m0 191v1m2 -8v1m2 -28v1m2 -196v1m2 -7v1m2 42v1m2 -35v1m0 217v1m0 190v1m2 -415v1m0 14v1m0 401v1m2 -409v1m0 243v2m0 6v1m2 -222v1m0 223v1m0 4v1m0 175v1m2 -407v1m0 2v1m0 399v1m0 1v1m2 -90v1m0 4v1m0 8v2m2 -90v1m0 119v1m0 37v1m2 1v1m4 -462v1m0 24v1m0 69v1m0 171v1m0 13v2m0 8v1m2 -243v1m0 4v1m2 15v1m0 168v1m0 17v1m0 3v1m0 21v1m0 2v1m4 -2v1m0 156v1m2 -403v1m0 250v1m2 179v1m2 -415v1m0 18v1m0 223v1m0 5v1m4 -213v1m0 358v2m0 17v1m2 -175v1m0 117v1m2 -108v1m0 93v1m0 9v1m2 -308v1m0 5v1m0 152v1m0 138v1m2 -368v1m0 11v1m0 72v1m0 288v1m2 -349v1m0 1v1m0 2v1m0 183v1m8 -206v1m2 244v1m0 159v1m2 -389v1m0 2v1m0 393v1m2 -379v1m0 221v1m2 -12v1m0 16v1m2 -252v1m0 33v1m0 216v1m0 7v1m2 -173v1m0 137v1m0 23v1m2 -229v1m0 202v1m0 16v1m2 -238v2m0 223v1m0 156v1m2 -49v1m0 17v1m0 3v1m0 2v1m2 -244v1m0 208v1m2 -331v1m0 4v1m0 189v1m2 -203v1m0 139v1m0 58v1m2 -215v1m0 4v2m0 1v1m0 6v1m2 147v1m0 20v2m2 -10v1m0 13v1m0 171v1m2 -193v1m0 3v1m2 -191v1m0 387v1m4 -161v2m0 176v1m4 -172v1m0 19v1m4 -2v1m0 165v1m2 -375v1m0 363v1m2 -387v1m0 233v1m0 99v1m0 7v1m0 4v1m0 6v1m2 -366v1m0 226v1m2 133v1m2 -369v1m0 221v1m0 149v1m0 1v1m2 -373v1m0 199v1m0 171v1m2 6v1m0 5v1m2 -374v1m0 212v1m2 168v1m2 -373v1m0 12v1m2 -4v1m2 367v1m2 -409v1m0 5v1m0 228v2m6 23v1m2 -6v1m6 10v1m0 1v1m0 5v2m4 1v1m4 -48v1m0 3v1m0 13v1m2 -13v1m2 18v1m0 12v1m0 10v1m2 -47v1m2 -145v1m0 160v1m0 64v1m0 86v1m2 -109v1m0 22v1m0 88v1m2 -105v1m2 -270v2m0 16v1m0 227v1m2 -3v1m2 -39v1m0 21v1m0 122v1m0 14v1m2 -85v2m0 53v1m2 -63v1m2 48v1m2 -344v1m2 5v1m0 178v1m0 27v1m2 -202v1m0 346v1m2 -355v1m0 5v1m0 57v1m2 -78v1m0 79v1m0 289v1m2 -297v1m0 149v1m2 -156v1m2 150v1m0 8v1m2 -3v1m0 171v1m2 -394v1m0 22v1m0 375v1m2 -389v1m0 224v1m2 -228v1m0 3v1m0 12v1m0 211v1m2 -230v1m0 394v1m2 -403v1m4 4v1m0 3v1m0 225v1m0 8v1m0 165v1m2 -400v1m2 1v1m0 11v1m2 0v1m2 -9v1m0 236v1m0 155v1m2 -394v1m0 237v1m0 2v1m2 -246v1m0 3v1m2 5v1m0 397v1m0 1v1m2 -40v1m0 4v2m0 46v1m2 -13v1m0 13v2m2 -184v2m0 13v1m2 110v1m0 69v1m2 -214v1m0 37v1m2 -54v2m0 39v1m0 112v1m2 -100v1m2 -251v1m0 9v1m0 174v1m2 -171v1m2 -50v1m0 26v1m0 203v1m0 2v1m0 77v1m0 76v1m2 -322v1m0 18v1m2 -88v1m0 26v1m0 60v1m0 2v1m0 146v1m2 6v1m4 -230v1m0 10v1m0 380v1m2 -389v1m0 231v1m4 -13v1m0 11v1m10 3v1m2 13v1m2 -5v1m6 -205v1m0 157v1m2 -177v1m0 172v1m0 31v1m0 124v1m0 2v1m4 -147v1m2 -225v1m0 221v1m2 -224v1m0 3v1m2 16v1m0 187v1m0 174v1m2 -151v1m0 156v1m2 -382v1m4 238v1m6 -221v1m0 372v1m2 -172v1m0 9v1m4 3v1m4 133v1m2 -156v1m0 142v1m2 -151v1m0 13v1m2 -208v1m2 343v1m2 -375v1m0 389v1m2 1v1m2 -385v1m0 221v1m0 11v1m0 8v1m2 -237v1m0 2v2m0 218v1m0 3v1m0 2v1m6 -221v1m0 367v1m2 -158v1m2 9v1m0 141v3m2 11v1m2 -156v1m2 164v1m2 -163v1m0 9v1m2 -231v1m4 3v1m0 210v1m0 21v1m2 -237v1m0 5v1m0 215v2m0 5v1m0 136v2m2 -372v1m0 356v1m0 8v1m4 -151v1m0 145v1m0 3v1m4 -367v1m0 223v1m0 144v1m2 -152v1m0 8v1m4 -1v1m2 -225v1m2 5v1m2 0v1m0 2v1m0 207v1m2 -236v1m0 15v1m0 3v1m2 354v1m6 -381v1m2 395v1m2 -375v1m0 213v1m0 168v1m2 -166v1m0 12v1m2 142v1m6 -159v1m0 26v1m2 -36v1m4 168v1m2 -373v3m0 211v1m2 -209v1m0 233v1m0 1v1m2 -236v1m0 217v1m0 6v1m2 -241v1m0 20v1m2 217v1m0 16v1m4 140v1m0 7v1m2 -387v1m0 12v1m2 -4v1m0 214v1m0 138v1m2 -156v1m2 -200v1m0 193v1m2 6v1m2 -222v1m0 7v1m4 -34v2m0 1v1m2 1v1m2 10v1m4 359v1m2 -5v1m4 -353v1m0 197v1m2 -220v1m0 220v1m2 -205v1m0 200v1m0 28v2m2 -22v1m2 7v1m2 195v1m2 -174v1m0 11v1m0 10v1m0 141v1m0 2v1m2 -384v1m0 217v1m2 -13v1m0 151v1m2 -137v1m2 -232v1m2 -28v1m0 248v1m2 -23v1m2 -17v1m0 8v1m2 -231v1m0 2v1m0 16v1m0 194v1m0 3v1m0 4v1m0 16v1m2 132v1m0 6v1m0 4v1m4 -383v2m0 3v1m0 1v1m0 4v1m0 212v2m2 -10v1m0 17v1m2 -220v1m0 209v1m4 -21v2m0 20v1m2 -212v1m0 391v1m2 -189v1m2 -209v1m0 239v1m4 -228v1m0 222v1m2 5v1m2 -240v1m0 217v1m2 169v1m2 -387v1m0 20v1m0 206v1m0 9v1m0 129v3m0 33v1m2 -403v1m0 4v1m0 1v1m2 225v1m2 -11v1m0 136v1m2 -346v1m0 208v1m0 20v1m0 15v1m0 3v1m0 6v1m2 -259v1m0 209v1m0 31v1m2 -257v1m0 3v1m0 9v1m0 7v1m0 44v2m0 5v1m0 127v2m2 -6v1m2 19v1m4 -218v1m2 376v1m2 -377v1m2 19v1m0 218v1m0 148v1m0 1v1m2 -377v1m0 204v1m0 6v1m0 33v3m0 1v1m0 119v1m2 -368v1m2 226v2m2 -255v1m2 -2v1m0 8v1m0 211v1m0 141v1m2 -139v1m0 129v1m2 5v1m0 1v1m2 -367v1m0 218v1m2 -232v1m0 6v1m0 388v1m0 8v1m6 -385v1m0 22v1m0 205v1m2 1v1m0 24v1m2 -233v1m0 366v1m0 5v1m2 -147v1m0 4v1m2 -224v1m0 207v1m2 -222v1m0 205v1m0 4v1m0 39v1m2 -274v1m0 22v2m0 371v1m4 -171v2m2 14v1m0 4v1m0 4v1m2 -236v1m0 238v1m2 141v1m0 2v1m4 -367v1m2 183v1m4 -191v1m0 336v1m2 -350v1m4 -5v1m0 183v1m2 12v1m0 166v1m4 -386v1m0 235v1m2 155v1m6 -367v1m2 10v1m0 356v1m4 -387v1m0 241v1m2 -224v2m2 202v1"/>
<path stroke="#d5ff2a" d="M134 430v1m0 143v1m2 -391v1m0 219v2m0 1v1m0 3v1m0 17v1m0 11v1m2 -18v2m0 26v1m4 -278v1m0 38v1m0 192v1m2 -221v1m0 27v1m0 15v1m0 192v2m2 -223v1m0 194v1m0 9v2m2 -188v1m0 201v2m0 164v1m2 -378v1m0 228v1m2 -7v1m2 173v1m2 -407v1m0 16v1m0 389v1m4 -381v1m0 393v1m2 -172v1m2 -230v1m0 220v1m0 7v1m2 8v1m0 149v1m0 5v1m2 -169v1m2 13v1m0 147v1m6 -383v1m0 5v1m0 200v1m0 4v1m0 152v1m2 -155v1m0 10v1m6 -30v1m0 9v1m0 13v2m2 -5v1m0 2v1m2 -17v2m0 2v1m2 -15v1m0 33v1m0 118v1m2 -160v1m2 -2v1m0 11v1m0 3v1m2 -212v1m4 -20v2m2 220v1m2 -215v1m0 218v1m0 2v1m0 175v2m2 -405v1m0 223v2m0 2v1m0 29v1m0 146v1m0 4v1m2 -403v1m0 250v1m0 153v1m2 -167v1m0 20v1m4 -2v1m0 13v1m0 145v2m2 -158v1m0 21v1m0 114v1m0 5v1m0 5v1m2 -366v1m0 221v1m0 23v1m0 79v1m2 -325v1m0 192v1m0 119v1m0 7v1m0 8v1m2 -327v1m0 1v1m0 216v1m2 -250v1m0 179v1m0 32v1m0 6v1m2 -28v1m2 -227v1m0 370v1m0 3v1m2 -391v2m0 218v1m0 11v1m2 -221v1m0 222v1m4 -213v1m0 385v1m2 -2v1m2 -176v1m0 18v1m0 149v1m0 1v1m2 -378v1m4 217v1m2 -201v1m2 -29v1m2 380v1m0 1v1m4 -395v1m0 400v1m4 22v1m2 -168v1m2 11v1m0 3v1m0 164v1m2 -566v2m0 160v1m0 249v1m0 159v1m4 -375v1m0 390v1m2 -395v1m0 226v1m0 13v1m0 122v1m0 28v1m2 -44v2m0 7v1m0 13v1m2 -139v1m0 102v1m2 -321v1m0 1v1m0 10v1m2 -55v1m0 32v1m0 150v1m0 41v1m2 -47v2m0 25v1m0 2v2m0 54v1m0 81v1m2 -174v1m2 176v1m0 5v1m6 -152v1m0 6v1m2 123v1m2 -149v1m0 137v1m2 0v1m2 -5v1m2 -175v1m0 177v1m2 -378v1m0 388v1m2 -391v1m0 40v1m0 189v1m2 -237v1m0 401v1m0 8v1m2 -192v1m0 10v1m0 180v1m2 -402v1m2 259v1m0 173v1m2 -404v1m0 237v1m0 161v1m2 -410v1m2 27v1m0 393v1m2 -393v1m0 221v1m0 6v2m0 2v1m0 103v2m0 10v1m0 9v1m2 22v1m0 5v1m4 -224v1m2 -187v1m0 264v1m0 5v1m0 92v1m2 -367v1m0 197v1m0 10v1m0 4v1m0 166v1m2 -164v1m0 166v1m2 -156v1m2 -235v1m0 230v1m2 183v1m2 15v1m2 -401v1m2 0v1m0 14v1m0 196v2m0 168v1m2 -375v1m0 206v1m0 157v1m2 -350v1m0 201v1m0 3v1m2 -205v1m0 12v1m2 -32v1m0 170v1m0 30v1m2 -246v2m0 14v1m0 15v2m0 3v1m0 332v1m0 1v1m2 -387v1m2 7v1m0 220v1m0 164v1m2 -379v1m4 5v1m0 221v1m0 14v1m0 158v1m0 2v1m10 -366v1m0 195v1m0 1v1m0 7v1m0 16v1m2 -240v1m0 231v1m0 139v1m0 5v1m2 -10v1m2 -383v1m0 107v1m0 231v1m2 -227v1m2 8v2m0 191v1m2 -355v1m0 29v1m0 136v1m0 188v2m0 3v1m2 -187v1m2 -169v1m0 196v1m2 -202v1m0 189v1m0 21v1m0 6v1m0 156v1m2 -189v1m0 4v2m0 178v1m2 -160v1m2 -8v1m0 11v1m0 170v1m0 5v1m2 11v1m2 -405v1m4 21v1m0 4v1m2 8v1m0 206v1m0 11v1m0 164v1m2 -383v1m0 202v2m0 99v1m2 -79v1m0 68v1m0 12v2m0 4v1m0 41v1m0 8v1m2 -422v2m0 23v1m2 -15v1m0 9v1m0 2v1m2 358v1m2 -171v1m0 4v1m0 14v1m2 -204v1m0 372v1m2 -376v1m0 1v1m0 209v1m2 -196v1m0 188v1m0 7v1m2 -207v1m0 212v1m2 1v1m2 -224v1m0 2v1m0 18v1m0 367v1m2 -400v1m2 405v1m2 -415v1m0 250v1m0 167v1m2 -401v1m2 10v1m0 3v1m2 10v1m0 213v1m0 9v1m2 -226v1m2 213v1m0 10v1m0 16v1m2 -248v1m4 351v1m0 2v1m0 4v1m0 8v1m6 -178v1m0 2v1m0 29v1m0 4v1m0 153v2m2 -153v2m2 -184v1m0 180v1m0 12v1m0 32v1m0 86v1m2 -311v1m0 211v1m0 7v1m2 -270v2m0 237v1m2 -257v1m0 244v1m0 37v1m2 -297v1m4 -3v1m2 0v1m0 222v1m0 122v2m2 -120v1m2 -36v1m0 4v2m0 88v1m0 4v1m0 57v1m2 -359v1m0 10v2m0 68v1m2 -66v1m0 179v1m0 10v1m2 -191v1m2 186v1m0 10v1m2 -151v1m2 -72v1m0 224v1m0 169v1m2 -169v1m0 4v1m2 8v1m4 -212v1m0 214v1m10 -230v1m0 7v1m2 4v1m2 237v1m2 -235v2m4 2v1m2 -1v1m2 232v1m0 172v1m2 -171v1m0 135v1m0 1v1m2 -12v1m0 27v1m0 9v1m2 -162v1m0 151v1m0 32v1m2 -9v1m0 11v1m2 -229v1m0 19v1m0 30v1m4 7v1m2 -267v1m0 13v1m0 258v1m0 16v1m0 1v1m2 -84v1m2 -191v2m0 6v1m0 4v1m0 161v1m0 17v1m2 -2v1m2 -147v1m0 3v1m4 146v1m0 15v2m0 1v1m6 -242v1m0 394v1m0 1v1m4 -393v1m0 219v1m0 10v1m0 166v1m2 -166v1m2 -228v1m2 227v1m2 -218v1m0 228v1m2 125v1m0 3v1m0 5v2m2 -33v1m2 -315v1m0 312v1m2 -106v1m0 104v1m2 -106v1m2 -254v1m0 243v1m2 125v1m2 -387v1m0 233v1m0 155v1m2 -162v1m2 -222v1m0 218v1m2 3v1m0 10v1m2 0v1m4 -226v1m0 387v1m6 2v1m2 -155v1m0 8v1m2 -23v1m2 -211v2m0 221v1m2 -220v1m0 195v1m0 11v1m2 3v1m0 3v1m0 140v1m0 9v1m0 3v1m2 -378v1m0 359v1m6 -369v2m2 207v1m0 153v1m2 0v1m0 8v1m2 -388v1m0 2v1m4 9v1m6 234v1m2 -12v1m2 -19v1m2 -193v1m2 219v1m0 149v1m2 -151v1m0 161v1m2 -169v1m2 18v1m4 -229v1m0 209v1m0 6v1m2 145v1m0 2v1m2 -164v1m6 -3v1m0 10v1m2 4v1m0 140v1m2 3v1m2 2v1m6 -364v1m0 6v1m0 195v1m0 162v1m10 -8v1m2 -388v2m2 0v1m0 397v1m2 -395v1m0 12v1m0 212v1m0 176v1m4 -169v1m2 -208v1m2 1v1m0 205v2m2 -209v1m0 217v1m2 -213v1m0 187v1m6 13v1m0 7v1m0 2v1m2 -238v1m0 8v1m0 8v1m0 214v1m0 156v1m0 2v1m2 -162v1m0 6v1m2 -11v1m2 -214v1m0 213v1m2 182v1m2 -16v1m2 -378v1m0 9v1m0 201v1m2 -187v1m0 332v1m0 4v1m2 -363v1m2 210v1m0 130v1m2 -150v1m0 146v1m2 -157v1m0 19v1m2 -227v1m0 208v1m2 -208v1m6 -11v1m6 216v1m0 8v1m2 -220v1m0 202v1m0 152v1m2 -372v1m2 2v1m0 216v1m2 -223v1m0 227v1m0 16v1m2 -16v1m0 24v1m0 5v1m0 162v1m2 -394v1m0 210v1m2 -210v1m0 394v1m2 -385v1m0 370v2m2 -23v1m0 1v1m2 -14v2m2 -154v1m0 18v1m2 -213v1m0 1v1m0 3v1m0 177v1m0 1v1m0 151v1m2 -363v1m0 204v1m0 25v1m0 128v1m2 -379v1m0 1v1m0 3v1m0 221v1m2 5v1m0 10v1m2 132v1m0 7v1m2 -155v1m0 157v1m4 11v1m2 -391v1m0 4v1m0 1v1m0 385v1m2 -389v1m0 228v1m2 -229v1m0 6v1m0 205v1m0 3v1m0 15v2m0 8v1m2 -243v1m2 1v1m0 241v2m2 -249v1m0 225v1m0 5v1m0 20v1m0 145v1m4 -393v1m0 219v1m0 1v1m2 -221v1m0 233v1m2 -20v1m4 -202v1m0 218v1m0 9v1m0 157v1m4 -406v1m0 366v1m2 -363v1m2 15v1m0 280v1m2 -74v1m2 -228v1m0 7v1m0 13v1m0 2v1m0 322v1m2 -151v1m0 8v1m2 -4v1m6 -208v1m0 14v1m0 203v1m0 159v1m0 2v1m2 -369v1m0 378v1m2 -369v1m0 367v1m2 -136v1m0 129v1m2 -378v1m0 369v1m0 3v1m2 -372v1m0 225v1m0 2v1m2 -22v1m0 143v1m2 -156v2m0 146v1m2 -377v1m0 17v1m2 218v1m0 138v1m2 -144v1m2 -236v1m0 241v1m0 12v1m0 1v1m0 145v1m0 1v1m0 1v1m2 -151v1m2 -225v1m0 204v1m0 27v1m0 151v1m0 1v1m4 -388v1m0 229v1m0 157v1m2 -155v1m0 144v1m2 -132v1m0 4v2m2 -268v1m0 33v1m0 219v2m2 -32v1m0 16v1m0 9v1m0 137v1m6 -132v2m2 -22v1m2 -227v1m0 230v1m0 157v1m0 4v1m2 -383v1m0 230v1m6 -256v1m2 61v1m0 182v1m0 134v1m2 -157v1m0 134v1m0 3v1m2 -349v1m0 6v1m2 194v1m0 146v1m2 -140v1m0 6v1m0 135v1m4 -369v1m0 213v1m0 161v1m2 -173v1m0 4v1m0 2v1m2 -8v1m0 15v1m2 -222v1m2 -3v1m0 5v1m0 207v1m2 -208v1m0 378v1m0 2v1m4 -358v2m0 6v1m0 345v1m2 -360v1m2 -13v1m0 225v1m2 -231v1m0 3v1"/>
<path stroke="#f9ff06" d="M138 571v1m2 -379v2m0 201v2m0 38v1m0 135v1m0 2v1m2 -176v2m0 9v1m2 165v1m2 -374v1m0 233v1m2 -218v1m0 204v1m0 161v1m2 -384v2m0 225v1m0 155v1m2 -358v1m0 369v1m2 -1v1m2 -390v1m0 395v1m0 3v1m2 -155v1m2 -6v1m2 -229v1m2 0v1m0 1v1m0 381v1m2 -165v1m0 167v1m2 -377v1m0 207v1m2 163v1m2 -1v1m4 -167v3m4 2v1m2 130v1m2 -356v1m0 199v1m0 1v1m0 8v1m0 6v1m0 130v1m4 -130v1m2 -7v1m0 131v1m2 -350v1m0 194v1m2 -22v2m2 184v1m2 -160v1m0 1v1m0 1v1m0 161v1m2 -162v1m0 1v1m0 159v2m2 2v1m2 -151v1m2 -12v1m0 11v1m0 11v1m0 5v1m0 151v1m2 -158v1m0 5v1m0 1v1m4 164v1m2 -162v1m2 -220v1m0 235v1m0 8v1m0 110v1m0 5v2m2 -384v1m0 32v1m0 219v1m0 19v1m0 101v1m2 -129v1m0 24v1m2 -78v1m0 11v1m0 56v1m2 -267v1m0 9v1m0 13v1m2 -16v1m0 167v1m0 10v1m0 152v3m2 -372v1m0 7v1m2 -28v1m2 48v1m0 354v1m2 -391v1m0 9v1m2 383v2m2 0v1m2 -382v1m0 209v1m0 28v1m4 -234v1m0 357v1m2 -165v1m0 16v2m2 -193v1m0 333v1m0 4v1m2 -375v1m2 381v1m2 -388v1m0 388v1m8 -154v1m2 -225v1m0 251v1m0 165v2m2 -404v2m0 3v1m0 220v1m0 6v1m0 13v1m0 161v1m0 2v1m0 4v1m2 -159v1m4 154v2m0 9v1m2 -420v1m0 260v1m0 122v2m0 13v1m0 1v1m2 -403v1m0 257v2m0 23v1m0 82v1m2 -143v1m0 50v1m2 -255v1m0 44v1m0 130v1m0 39v1m0 3v1m0 19v1m0 94v1m2 -311v1m0 167v1m0 19v2m2 -50v2m0 1v1m0 170v1m2 -379v1m0 217v1m4 155v1m2 -370v1m0 12v1m0 223v1m2 -225v1m0 207v1m4 -235v1m0 212v1m0 3v1m2 145v1m2 -380v1m0 212v1m4 -171v1m2 195v1m2 -243v1m0 219v1m0 6v1m2 -208v1m0 237v1m0 162v1m0 12v1m0 2v1m2 -393v1m0 204v1m0 182v1m2 -178v1m0 5v1m2 -227v1m2 7v1m0 317v1m0 8v2m2 -85v1m0 101v1m0 21v1m0 14v1m0 16v1m0 15v1m2 -80v1m0 42v1m0 21v1m2 -367v1m0 229v1m2 -65v1m0 28v1m0 5v1m0 4v1m0 8v2m2 -253v1m0 15v2m0 246v1m2 -263v1m0 193v1m0 13v1m0 23v1m0 3v2m0 8v1m0 117v1m2 -382v1m0 222v1m2 -12v1m0 12v1m2 195v1m2 -417v1m0 18v1m0 1v1m0 215v1m0 12v1m2 -243v1m0 18v1m2 226v1m2 -205v1m0 356v2m2 -361v1m0 202v1m0 7v1m2 -207v1m0 183v1m0 2v1m2 -184v1m0 189v2m2 -231v2m0 189v1m2 -176v1m0 181v1m2 160v1m2 -395v1m2 17v1m0 1v1m2 395v1m6 -379v1m2 396v1m2 -377v2m0 222v1m0 147v1m4 -393v1m2 -12v1m0 376v2m0 2v1m2 -172v1m0 135v2m2 -231v1m2 74v1m2 -3v2m0 129v1m2 -157v1m0 4v2m0 10v2m0 9v1m0 131v1m0 3v1m2 -357v1m0 166v1m0 26v1m2 -202v1m0 199v1m0 168v1m2 -190v1m0 20v1m4 19v1m0 5v1m2 -219v1m0 391v1m4 13v1m2 -396v1m0 10v1m0 207v1m0 14v1m2 -223v1m0 212v1m2 90v2m0 6v1m0 14v1m0 51v1m2 -455v2m0 86v1m0 213v1m0 88v1m0 38v1m0 8v1m0 2v1m2 -394v1m0 230v1m0 111v1m2 -350v1m0 217v1m0 145v2m2 -143v1m0 7v1m0 3v1m2 -238v1m0 200v1m0 16v1m2 -211v1m0 380v1m0 2v1m2 -377v1m0 382v1m2 -374v1m0 2v1m2 204v1m2 -220v1m0 389v1m4 -406v1m2 -5v2m0 234v1m0 26v1m2 -251v1m0 408v1m4 -388v1m0 219v1m0 187v1m2 -180v1m0 5v1m2 -227v1m0 234v1m4 -228v1m0 222v1m6 -211v2m2 235v1m0 1v1m0 94v1m0 9v2m0 7v1m2 -345v1m0 168v2m0 4v1m0 17v1m0 4v1m0 5v2m0 2v2m0 119v1m0 8v1m0 4v2m2 -157v2m0 52v1m0 87v1m2 -364v1m0 197v1m0 36v1m0 3v2m2 20v1m0 15v1m2 -291v1m0 254v1m0 3v1m2 -260v1m0 2v2m0 7v2m0 207v1m0 35v1m2 -45v1m0 36v1m2 108v1m4 -77v1m2 -82v1m2 -15v1m0 5v2m0 9v1m2 -29v1m0 19v1m2 -15v2m0 159v1m2 -286v2m0 116v1m0 10v1m0 167v1m2 -173v1m0 3v1m0 163v1m2 -378v1m2 0v1m0 392v1m2 -167v1m2 174v1m2 -391v1m0 26v1m0 200v1m2 -218v2m2 220v1m2 3v1m2 -8v1m0 3v1m2 2v1m2 -225v1m2 -5v1m0 398v1m2 -156v1m0 1v1m2 0v1m0 8v1m4 -250v1m0 396v1m2 -398v1m2 245v1m0 120v1m0 41v1m0 3v1m2 -171v1m0 4v1m0 6v1m0 125v1m0 2v1m2 -1v1m2 -156v1m0 2v1m0 190v1m0 5v2m2 -201v2m0 194v1m0 2v2m2 -198v1m0 4v3m2 -233v1m2 203v1m2 -212v1m0 19v1m0 182v1m0 4v1m2 -212v1m0 10v1m0 12v1m0 9v1m0 170v2m2 -180v1m0 24v1m2 -69v1m0 82v1m0 303v1m2 2v1m4 -152v1m2 -223v1m0 391v1m2 -384v1m2 225v1m2 162v1m2 -175v1m0 6v1m0 2v1m0 166v1m0 1v1m2 -166v1m0 163v1m2 -170v1m2 -214v1m0 389v1m4 -383v2m0 336v1m0 22v1m0 2v1m2 -362v1m0 2v1m2 3v1m2 209v1m0 9v1m2 -221v2m2 -54v1m0 11v1m0 3v1m0 24v1m2 -47v1m0 8v1m2 373v1m2 -356v1m2 363v1m2 -384v1m0 383v1m2 -164v1m0 1v1m4 18v1m2 -231v1m2 2v2m0 4v1m2 222v1m0 6v1m2 -10v1m2 -221v1m0 1v1m0 223v1m0 153v1m6 -7v1m2 -376v1m0 2v1m0 201v1m0 147v1m0 9v1m2 -19v1m0 6v1m2 -357v1m2 -14v1m0 360v1m2 -144v1m0 147v1m2 10v1m2 9v1m8 -378v1m0 377v1m2 -379v1m0 368v1m2 -152v1m0 1v2m0 6v1m0 139v1m2 -169v1m0 20v1m2 -212v1m0 210v1m0 148v1m0 7v1m2 -369v1m0 215v1m4 -217v1m0 213v1m0 9v1m2 -2v1m4 164v1m2 -176v1m0 13v1m0 1v1m0 133v1m2 -360v1m2 196v1m0 151v1m0 1v1m4 -150v1m0 155v1m4 -148v1m0 3v1m0 1v1m4 151v1m2 -147v1m0 148v1m2 -155v1m2 -210v1m0 189v1m2 156v1m2 -4v1m2 -383v1m2 3v1m2 231v1m4 -222v1m0 231v1m2 -221v1m2 371v1m2 -136v1m2 -225v1m0 2v1m0 203v1m0 144v1m2 -141v1m2 -212v1m0 201v1m2 -10v1m2 2v1m0 163v1m4 -371v1m0 237v1m0 145v1m2 -371v1m2 212v1m0 163v1m2 -171v1m2 -222v1m0 1v1m0 238v1m2 -246v1m0 2v1m0 4v2m0 1v1m2 6v1m0 11v1m0 212v1m4 -215v1m6 175v1m0 7v1m0 3v1m0 1v1m4 -230v1m0 219v1m0 144v1m2 -363v1m0 358v1m4 -374v1m0 213v1m2 -205v1m2 -4v1m0 3v1m0 361v1m4 -361v1m0 3v1m2 -18v1m2 219v1m0 17v1m0 152v2m2 -153v1m2 184v1m2 -168v1m0 172v1m2 -11v1m2 -408v1m0 244v1m0 141v1m0 9v1m2 -130v1m0 112v3m2 -147v1m2 -225v1m0 11v1m0 192v2m0 26v1m2 -244v2m0 4v1m0 222v1m2 -250v1m0 9v1m0 207v1m4 -220v1m0 7v1m0 212v1m2 151v2m0 6v1m2 -166v1m0 11v1m0 154v1m2 -374v1m0 5v1m0 380v1m4 -159v1m0 1v1m2 -227v1m0 217v1m0 168v1m2 -383v2m0 207v1m0 3v2m2 1v1m0 1v1m2 -13v1m0 11v1m0 12v1m0 3v1m0 1v1m0 15v1m2 -262v1m0 1v1m0 234v1m2 3v1m4 -235v1m2 232v1m2 134v1m0 17v1m0 9v1m2 -388v1m0 235v1m0 121v1m0 22v1m2 -27v1m4 -137v1m0 15v1m2 -40v1m0 22v1m0 3v1m0 128v2m2 -328v1m0 167v1m0 18v1m0 60v1m0 66v1m2 -347v1m0 11v1m0 185v1m2 -214v1m0 17v1m0 207v1m0 135v1m0 3v1m2 4v1m2 -365v1m2 -7v1m0 382v2m2 -156v1m2 6v1m0 163v1m2 -157v1m0 10v1m2 -18v1m0 22v1m0 136v1m2 -390v1m0 5v1m2 -6v1m4 204v2m0 12v1m0 14v1m6 -20v1m2 -23v1m0 39v1m0 143v1m0 1v1m2 -384v1m0 237v1m4 -232v1m0 16v1m2 380v1m2 -370v1m0 3v1m0 356v1m2 -154v1m4 -211v1m4 -17v1m2 -16v1m0 239v1m0 8v1m2 -231v1m0 223v1m8 -217v1m2 11v1m0 192v1m0 7v1m2 -216v1m0 6v1m0 2v1m0 37v1m2 166v1m0 116v1m2 -358v1m2 17v1m0 185v1m0 13v1m2 -227v1m0 13v1m0 363v1m4 -378v1m0 386v2m2 0v1m2 -186v1m0 10v1m2 6v1m4 -199v1m0 197v1m2 -202v2m0 8v1m0 363v1m2 -357v1m0 204v1m4 -9v1m2 10v1m0 147v1"/>
<path stroke="#ffe200" d="M136 191v1m0 207v1m0 40v1m2 -39v1m2 25v2m2 -219v1m0 220v1m2 -223v1m0 199v1m0 164v1m10 -363v1m0 232v1m2 -6v1m0 1v1m0 174v1m6 -175v1m4 14v1m0 155v2m2 0v1m2 -382v1m0 226v1m2 2v2m2 -237v1m0 230v1m0 134v1m2 -366v1m0 225v1m0 136v1m6 -21v1m2 -150v1m0 23v1m2 -229v2m0 219v1m0 124v1m2 -347v1m2 224v1m2 -36v2m0 33v1m2 -225v1m4 200v1m0 162v1m0 2v1m2 -173v1m0 176v1m4 -395v1m2 14v1m0 227v1m0 11v1m2 -244v1m0 228v1m0 12v1m2 -235v1m0 1v1m0 402v1m2 -161v1m0 161v1m2 -389v1m0 227v1m2 -224v1m0 374v1m0 2v1m2 -22v1m2 -145v1m0 4v1m2 -209v1m0 168v1m0 145v1m2 -311v1m2 -24v1m0 15v1m0 162v1m0 4v1m2 -240v1m0 2v1m0 390v1m2 -386v1m0 1v1m2 -6v1m0 11v1m2 3v1m0 220v2m0 164v1m2 -174v1m2 -214v1m2 24v1m0 357v1m2 -372v1m0 13v1m0 347v1m2 -360v1m2 5v1m0 210v1m0 5v1m0 3v1m0 121v1m0 2v1m2 -362v1m0 5v1m0 16v1m0 200v1m2 -218v1m2 -19v1m2 -3v1m0 1v1m0 29v1m0 359v1m4 18v1m2 -407v1m0 225v1m0 183v1m2 -414v1m0 7v1m0 411v1m2 -161v1m4 -228v1m0 2v1m2 257v1m2 -265v1m0 253v1m0 4v1m0 162v2m2 -144v1m0 115v1m0 4v1m0 1v1m2 -361v1m0 221v1m0 1v1m0 97v1m2 -158v1m0 9v2m0 25v1m0 112v1m2 -329v1m0 26v1m2 -14v2m2 163v1m0 153v1m2 -170v1m0 166v1m2 -376v1m0 13v1m0 200v2m0 1v1m2 -220v1m2 11v1m0 190v1m0 16v1m2 -219v1m0 5v1m0 206v1m0 146v1m4 -162v1m0 1v1m2 -227v2m0 368v1m4 -374v1m0 40v1m0 347v1m2 -396v1m4 229v1m0 190v1m2 -413v1m2 424v1m6 -140v1m0 79v1m2 -84v1m0 88v1m0 79v1m2 -78v1m0 46v1m0 7v1m0 10v1m4 -204v1m0 30v1m0 2v2m0 1v1m2 -231v2m0 253v1m0 3v1m0 99v1m2 -377v1m0 11v1m0 227v2m0 7v1m0 128v2m2 -388v1m0 204v1m0 9v1m2 -221v1m2 0v1m0 248v1m0 179v1m2 -421v1m0 250v1m2 5v1m2 -220v1m0 390v2m2 -166v2m0 144v1m2 -365v1m0 215v1m0 125v1m2 -150v2m0 9v2m2 -33v1m2 -208v1m0 3v1m0 36v1m0 158v1m0 23v1m2 -253v1m0 27v2m0 19v1m0 190v1m0 145v1m2 -383v1m0 1v1m2 225v1m2 -205v1m0 374v1m2 -374v1m0 1v1m0 379v1m2 16v2m2 -180v1m0 19v1m2 -233v1m0 221v1m0 6v1m2 -2v1m2 14v1m2 -9v1m2 139v1m0 7v1m2 -175v1m4 -106v1m0 83v1m2 -194v1m0 120v1m2 4v1m0 49v1m2 -187v1m0 195v1m4 -224v1m0 197v1m4 -207v1m0 38v1m0 347v1m2 -391v1m0 2v1m0 223v1m2 -213v1m0 208v2m2 23v1m4 -2v1m4 -202v1m0 333v1m0 35v1m0 2v1m2 -148v1m0 71v1m0 56v1m0 5v2m2 -168v2m2 -231v1m0 210v1m0 30v1m0 113v1m2 -367v1m0 1v1m0 5v1m2 380v1m4 -374v1m2 14v1m0 194v1m2 -191v1m0 369v1m2 -388v1m0 4v1m0 380v1m2 -400v1m0 13v1m0 212v1m0 2v1m2 -231v1m0 239v1m2 -243v1m0 241v1m0 14v1m4 162v2m2 -396v1m0 236v1m2 -226v2m4 236v1m2 -3v1m0 13v1m4 103v1m4 19v1m2 -176v1m0 17v1m0 152v2m2 -157v2m0 145v1m2 -166v1m0 4v1m2 57v1m2 -9v1m0 113v1m2 -383v1m0 19v2m2 -27v1m0 226v1m0 70v1m0 85v1m4 -397v1m0 232v1m0 14v2m0 54v1m0 60v1m0 9v1m2 -375v1m0 228v1m4 -33v1m0 11v1m0 143v2m4 -158v1m0 165v1m2 -292v1m0 2v1m0 130v1m2 -178v1m0 169v1m0 168v1m4 -380v1m2 233v1m8 182v1m0 2v1m4 -172v1m2 -233v1m4 10v1m0 240v1m0 155v2m4 -388v2m0 242v1m2 -246v1m0 4v1m0 228v1m0 9v1m2 -9v1m2 -11v1m0 8v1m2 -6v1m2 179v1m0 3v1m2 -171v1m0 119v1m0 33v1m2 -169v1m0 178v1m2 -195v1m2 40v1m0 1v1m0 100v1m2 -98v1m2 -9v1m0 1v1m0 10v1m0 91v1m2 -361v1m0 4v1m0 2v1m0 4v1m2 12v1m0 258v1m2 -258v1m0 7v2m0 251v1m2 -315v1m0 70v1m0 5v1m0 1v1m0 2v1m0 4v1m0 300v1m2 -387v1m0 94v1m0 289v1m0 5v1m2 -394v1m0 11v1m0 389v1m2 -1v1m4 -157v1m0 162v1m2 -382v1m0 217v1m4 -228v1m6 244v1m2 -6v1m2 -214v1m0 343v1m0 3v2m0 4v1m8 -346v1m2 -47v1m0 5v2m0 26v2m0 210v1m2 -246v1m4 -4v1m0 2v1m0 375v1m2 -379v1m2 229v1m2 -222v1m2 215v1m2 -211v1m2 -4v1m2 7v1m0 378v1m4 -377v1m4 -4v1m0 224v1m2 150v1m0 3v1m0 1v1m4 -168v1m0 144v1m0 3v1m2 -15v2m6 -4v1m0 1v1m2 10v1m2 -383v1m2 5v1m0 228v1m0 158v1m2 -380v1m0 5v1m0 220v1m2 -2v1m2 8v1m0 144v1m2 -154v1m4 -217v1m0 191v1m0 20v1m4 160v1m2 -378v1m0 226v1m2 -230v1m0 393v1m2 -159v1m2 159v1m0 4v1m2 -15v1m4 -175v1m0 10v1m0 2v1m8 140v1m0 1v1m4 4v1m2 3v1m2 -366v1m0 216v1m2 -220v1m0 4v1m0 355v1m2 -373v1m2 213v1m2 -15v1m0 1v1m0 3v1m2 -2v1m4 10v1m2 -9v2m0 11v1m0 1v1m0 153v1m2 -383v1m2 3v1m0 388v1m2 -384v1m2 4v1m0 223v1m0 10v1m2 124v1m2 -344v1m0 198v1m0 2v2m6 -19v1m2 -207v1m0 213v1m0 2v1m0 2v2m0 159v1m2 -377v1m2 3v1m0 2v1m0 3v1m0 210v1m0 1v1m2 169v1m2 -174v1m0 19v1m2 -14v1m0 171v1m2 -11v1m2 -383v1m0 2v1m0 208v1m2 -194v2m0 5v1m0 192v1m2 128v1m4 -356v1m2 348v1m2 -160v1m2 -216v1m2 373v1m4 -376v1m0 214v1m2 11v1m2 0v1m6 -229v1m0 214v2m0 160v1m0 2v1m0 1v1m2 -177v1m0 13v2m6 -188v1m0 224v1m2 5v1m2 2v1m0 144v1m2 -140v1m0 111v1m0 4v1m0 9v1m2 -356v1m0 207v1m0 4v2m0 2v2m2 -30v1m2 -221v1m0 10v1m0 4v1m0 7v1m0 175v2m0 16v2m0 6v1m0 7v1m0 1v1m2 -238v1m0 353v1m2 -154v1m0 3v1m2 -219v1m2 373v1m2 7v1m2 -376v1m0 203v1m0 2v2m2 14v1m2 -227v1m0 215v1m0 2v1m4 27v1m2 -21v1m0 171v1m2 -154v1m0 15v1m0 137v1m2 -181v1m0 17v1m2 -223v1m2 214v1m2 5v1m0 164v2m2 3v1m2 -184v1m2 -222v2m0 369v1m0 20v1m2 -150v1m4 -244v2m2 16v1m0 239v1m2 -232v1m0 12v1m0 186v1m0 77v1m2 -278v1m4 335v1m2 -365v1m0 374v1m2 -381v1m0 15v1m0 366v1m4 -135v1m4 -4v1m0 28v1m2 -249v1m0 214v1m0 18v1m2 -243v1m0 228v1m0 132v1m2 -373v1m0 4v1m0 356v1m2 -361v1m0 222v1m0 9v1m2 -244v1m0 230v1m0 129v1m2 -365v1m0 231v1m2 -231v1m0 3v1m0 219v1m2 -20v1m2 40v1m2 -18v1m2 -215v1m0 14v1m2 5v1m0 225v1m0 2v1m2 2v1m2 -11v1m0 15v1m0 120v1m4 -136v1m0 9v1m2 -18v1m2 155v1m2 -386v1m0 233v1m0 2v1m2 -239v1m0 1v1m0 220v1m0 9v1m0 1v1m4 -231v1m0 380v1m2 -144v1m0 1v1m2 -6v1m0 138v1m2 -157v1m2 -3v1m0 17v1m0 122v1m4 -360v1m0 193v1m0 20v1m0 126v1m2 -336v1m0 197v1m2 -227v1m0 208v1m0 3v1m0 4v1m0 158v1m6 -155v1m6 -220v1m4 16v1m0 6v1m4 362v1m2 -387v1m0 10v1m0 16v1m2 -28v1"/>
<path stroke="#ffbf00" d="M134 204v1m2 0v1m0 231v1m0 135v1m2 -368v2m0 223v1m0 142v1m2 -367v1m0 199v2m0 161v1m2 -362v1m0 209v2m0 153v1m4 -362v1m0 211v1m2 -222v2m0 230v1m2 -3v1m2 1v1m0 5v1m4 173v1m2 -390v1m2 390v1m2 -387v1m0 383v1m4 -176v1m2 -206v1m0 223v1m2 -221v1m2 215v1m2 5v1m0 141v1m2 -152v2m4 -228v1m0 214v1m0 139v2m2 -356v1m4 204v1m0 4v1m2 133v1m2 -351v1m0 350v1m0 2v1m6 -154v1m2 -208v1m0 190v3m0 177v1m2 -376v1m6 -3v1m4 6v1m0 13v1m2 3v1m0 7v1m0 215v1m0 3v1m2 -212v1m0 373v2m2 -14v2m0 2v1m2 -137v1m0 6v2m0 99v1m2 -330v1m0 2v1m0 8v1m0 181v2m0 9v1m0 3v1m2 -47v1m0 57v1m2 -268v1m0 206v1m0 38v1m2 -229v1m0 1v1m2 -51v1m0 21v1m0 208v1m6 5v1m0 166v1m2 1v1m2 -385v1m0 384v1m2 -12v1m2 -143v1m0 142v2m2 -355v1m0 210v1m2 -6v1m2 -221v1m0 1v1m0 12v1m0 1v1m0 2v1m2 180v1m2 11v1m2 1v1m2 -237v1m2 4v1m2 415v1m2 -407v1m2 -1v1m0 418v1m2 -166v2m0 169v1m2 -404v1m0 7v1m2 413v1m2 -393v1m0 5v1m0 3v1m0 360v1m0 3v1m2 -408v1m0 367v1m0 8v2m2 -21v1m0 15v1m2 -138v3m0 34v1m2 -248v1m0 1v1m0 176v1m0 55v2m2 -276v1m0 46v2m0 6v1m0 141v1m0 34v1m4 -26v1m2 -215v1m0 223v1m2 152v1m0 1v1m2 -164v1m6 138v1m2 -360v1m0 358v1m2 -4v1m2 -381v1m2 234v1m6 23v1m0 178v1m2 -408v1m0 231v1m0 3v1m2 184v1m2 -182v1m2 -215v1m0 399v1m2 -388v1m0 311v1m0 14v3m0 28v1m0 31v1m2 -168v1m0 93v1m2 -315v1m2 191v2m0 20v1m0 114v1m2 -356v2m0 180v1m0 27v2m0 53v1m0 92v1m2 -113v1m0 1v1m0 125v1m2 -169v1m2 -207v1m0 211v1m2 13v1m0 8v1m2 -246v1m0 10v1m0 5v1m0 217v1m0 1v1m2 -227v1m0 1v1m0 9v1m0 231v2m2 -238v1m2 398v1m4 -357v2m0 199v1m2 -203v1m0 11v1m0 157v1m0 21v1m2 -241v1m0 58v1m0 165v1m0 124v1m2 -358v1m0 201v1m2 -231v1m2 31v1m2 -10v1m0 388v1m2 -385v1m0 216v1m2 -218v1m4 237v1m8 -221v1m0 378v1m2 -378v1m2 317v2m0 6v1m0 13v1m2 -37v1m2 -195v1m0 66v1m0 123v1m2 -115v1m0 118v1m2 -342v2m0 170v1m2 -187v1m0 13v1m0 353v1m2 -336v1m0 178v1m2 -219v1m4 224v1m0 177v1m2 -402v1m0 37v1m4 199v1m0 16v2m2 -225v1m0 214v1m2 -220v1m0 12v1m0 220v1m2 -215v1m0 218v1m0 62v2m0 43v1m0 31v1m2 -377v1m0 311v1m0 18v1m0 4v2m2 -355v1m0 1v1m0 13v1m4 -30v1m0 2v1m0 237v1m2 137v1m0 1v1m4 -156v1m0 167v1m2 3v1m2 -375v1m0 9v1m0 367v1m2 -364v1m2 -36v1m0 6v2m0 219v1m2 4v1m2 -235v1m2 -5v1m0 248v1m0 2v1m2 -248v1m0 237v1m0 7v2m0 180v1m2 -420v2m0 237v1m2 -224v1m2 11v1m2 3v1m0 211v1m0 12v1m2 -227v1m0 228v1m2 -1v1m2 127v1m4 -169v1m2 2v2m2 22v1m0 52v1m2 0v1m2 -279v1m0 199v1m2 -208v1m0 260v1m2 -270v1m0 8v1m0 242v1m0 128v1m2 -134v1m2 -260v1m2 25v1m0 200v1m0 132v1m2 -365v1m0 235v1m0 66v1m0 46v1m0 4v1m4 -131v1m0 127v1m2 -340v1m0 187v1m2 -173v1m2 43v1m0 4v1m2 -80v1m0 4v2m0 6v1m0 59v1m2 -3v1m2 144v1m0 4v1m0 164v1m2 -386v1m2 393v1m2 -384v1m0 3v1m0 220v1m2 -218v1m4 388v1m2 -173v1m2 4v1m0 170v1m4 -393v1m0 2v1m2 -4v1m2 12v1m0 235v1m0 148v1m6 -401v1m2 412v1m2 -33v2m2 -127v1m0 3v1m0 109v1m2 60v1m2 -209v1m0 212v1m2 -202v1m2 32v1m6 -280v1m2 59v1m0 1v1m0 246v1m2 -251v1m0 6v1m0 7v1m0 309v1m2 -303v1m0 148v2m0 156v1m2 -385v1m0 2v1m0 86v1m0 136v1m0 156v1m4 10v1m0 1v1m2 3v1m6 -164v1m2 6v1m2 -7v1m2 -221v1m0 2v1m0 229v1m4 -214v1m0 340v1m0 30v1m2 -154v1m2 0v1m0 5v1m2 -215v1m4 -60v1m0 10v1m0 12v2m0 27v1m0 183v1m0 12v2m0 125v1m2 0v1m4 -157v1m0 6v2m0 155v1m4 -153v1m2 -7v1m0 17v1m2 -231v1m0 216v1m0 1v2m2 -223v1m0 4v1m0 227v1m4 0v1m2 10v1m2 -231v1m4 379v1m2 -170v1m2 147v1m0 1v1m0 9v1m6 -177v1m0 146v1m2 -364v1m0 3v1m0 6v1m2 -10v1m0 14v1m4 200v1m0 9v1m2 170v1m8 -163v1m2 1v1m2 -222v1m0 200v2m2 -195v1m0 207v1m4 -217v1m2 -1v1m2 -3v1m2 5v1m2 382v1m2 -384v1m0 359v1m2 -8v1m2 -139v1m0 138v1m4 -144v1m6 -219v1m0 230v1m2 -224v2m0 369v1m2 -373v1m0 3v1m2 207v1m2 -212v1m0 359v1m2 -5v1m2 -157v1m4 162v1m2 -157v1m4 -223v1m0 1v1m0 227v1m0 165v1m2 -168v1m2 5v1m0 151v1m4 -128v1m2 -26v1m2 -220v1m0 15v1m2 192v1m4 19v1m4 -217v1m2 384v1m2 -396v1m0 4v1m0 218v1m4 -227v1m0 392v1m2 -378v1m0 5v1m0 220v1m0 135v1m4 -359v1m0 5v1m0 5v1m4 186v1m2 -6v1m2 -225v2m6 208v1m4 -4v1m2 -212v1m4 -5v1m0 218v1m2 -223v1m0 377v1m2 -380v1m2 2v1m0 401v1m2 -185v1m0 8v1m0 1v1m2 -217v1m0 232v1m2 17v2m2 -228v1m0 373v1m2 -364v1m2 0v1m0 203v1m2 -30v1m0 7v1m0 20v1m2 -247v1m0 225v1m2 -241v1m2 -5v1m2 231v1m2 -227v1m0 4v1m0 210v1m2 -14v1m0 181v1m0 6v1m2 -1v1m2 -162v1m2 -221v1m0 1v1m0 383v1m2 3v1m2 -390v1m0 221v1m0 17v1m2 -10v1m4 -224v1m0 3v1m0 205v1m2 -217v1m0 226v1m4 -4v1m4 166v1m0 11v1m2 -384v1m0 363v1m0 11v1m2 -383v1m0 224v1m0 127v1m4 -381v1m0 4v1m0 231v1m0 3v1m2 -212v1m0 187v1m0 79v1m2 -66v1m0 52v1m4 -267v1m0 195v1m2 -219v1m4 226v1m0 11v1m2 -225v1m0 234v1m0 144v1m0 3v1m2 -156v1m4 -213v1m2 -9v1m2 217v1m0 138v1m0 3v1m2 -9v1m2 -1v1m2 -371v1m0 4v1m0 3v1m6 -15v1m0 218v1m2 17v1m0 9v1m2 -240v1m2 20v1m0 2v1m0 229v1m2 -250v1m0 244v1m2 -210v1m0 211v1m0 1v1m2 -1v1m2 -220v1m2 1v2m4 208v1m2 -229v1m0 234v1m2 154v1m6 -152v2m0 141v1m2 -365v1m0 210v1m0 10v1m2 -28v1m0 22v1m2 -175v1m0 154v1m2 -203v1m0 329v1m0 1v1m2 -345v2m0 210v1m0 128v1m2 -154v1m2 -211v1m2 -6v1m0 227v1m6 -224v1m2 216v1m2 -214v1m0 2v1m2 -4v1m0 229v1m2 2v2m0 148v1m0 3v1m2 -160v1m2 -5v1m0 160v1m2 -374v1m0 8v1m0 5v1m0 2v1m2 -19v1"/>
<path stroke="#ff9b00" d="M134 230v1m2 164v1m2 -166v1m4 202v1m0 2v1m0 136v1m2 2v1m2 -364v1m2 -6v1m0 7v1m0 1v1m0 208v1m2 -221v1m0 232v1m0 153v1m2 -395v1m0 3v1m0 391v1m2 -158v1m2 8v1m2 -222v1m2 219v1m4 166v1m10 -381v1m0 229v1m2 -18v2m0 143v1m2 -149v1m0 7v1m0 133v1m4 -151v1m0 6v1m0 135v1m2 -359v1m0 6v1m0 201v1m0 1v2m2 10v1m0 124v1m4 -139v1m2 -202v1m2 189v1m0 8v1m2 -16v1m0 3v1m6 -203v1m0 211v2m0 168v1m0 3v1m2 -174v1m4 14v1m2 15v1m4 23v1m0 145v1m0 3v1m2 -374v1m0 346v1m2 -127v1m0 2v1m0 108v1m2 -144v1m2 -204v1m0 10v1m0 167v1m0 2v1m0 17v2m0 117v1m2 -348v1m2 12v1m0 1v1m0 15v1m0 168v1m2 -229v3m2 -12v1m0 233v1m2 165v1m0 3v1m4 -387v1m0 225v1m0 165v2m2 -171v1m0 171v1m4 -382v1m2 2v1m0 208v1m2 -196v1m2 -18v1m0 204v1m2 -204v1m2 -12v1m0 375v1m2 -388v1m2 34v1m2 371v1m4 16v1m4 -145v1m0 160v1m2 -403v1m0 407v1m0 2v1m2 -416v1m0 243v1m0 176v1m2 -381v1m0 1v1m0 377v1m2 -147v1m2 -231v1m0 11v1m0 204v1m0 5v1m0 104v1m2 -310v1m2 -37v1m0 6v2m0 28v1m0 141v1m0 28v1m0 12v1m0 9v1m2 -274v1m0 16v1m0 30v1m0 174v1m2 -208v1m0 193v1m0 10v1m0 10v2m2 -18v1m2 160v1m2 -380v1m0 372v1m2 -144v1m0 2v1m4 -230v1m0 211v1m2 -17v1m0 5v1m2 -225v1m0 13v1m6 369v1m2 -172v1m2 -224v1m0 410v1m2 -394v1m0 25v1m0 378v1m2 -409v1m0 7v2m0 221v1m2 -208v1m0 407v1m2 -416v2m0 2v1m0 248v1m0 164v1m2 -92v1m0 18v2m0 76v1m2 -402v1m0 228v1m0 100v1m0 19v1m0 2v1m0 6v1m0 3v1m0 2v1m4 -379v1m0 263v1m0 77v1m2 -148v1m0 33v1m0 14v1m0 107v1m2 -360v1m0 17v2m0 155v1m0 190v1m2 -360v1m0 193v1m0 50v1m0 120v1m2 -384v1m0 225v1m2 -240v1m0 427v1m2 -424v1m0 12v1m0 220v1m2 -222v1m0 16v1m0 237v2m0 161v1m2 -405v1m0 1v1m2 236v1m2 0v1m0 160v1m2 -43v1m2 -317v1m0 5v1m0 2v1m0 189v1m0 103v1m2 -349v1m0 51v1m0 157v1m0 22v1m2 -252v1m0 36v2m0 3v1m0 10v2m2 -42v1m0 199v1m0 3v1m2 7v1m2 -5v1m0 165v1m2 -388v1m2 12v1m0 396v1m2 -389v1m0 394v1m4 -377v1m2 216v1m2 -207v1m2 -10v1m4 206v1m2 110v1m2 -344v1m0 7v1m0 201v1m4 -25v1m2 -198v2m0 333v1m2 -154v1m0 158v1m2 8v1m2 -193v1m0 193v1m4 16v2m2 9v1m4 -382v1m0 219v1m0 6v1m2 -233v1m0 229v1m2 -212v1m2 304v1m0 23v1m0 39v1m0 1v1m2 -387v1m0 313v1m0 5v1m0 33v1m0 32v1m4 -412v1m0 6v1m0 212v1m0 4v1m0 12v1m2 -25v1m0 15v1m0 141v1m4 -176v1m0 7v1m2 190v1m2 -365v1m0 201v1m2 -205v1m0 207v1m2 -206v1m4 -31v1m6 428v1m2 -167v1m2 -239v1m0 237v1m2 -223v1m0 5v1m0 224v1m2 -225v1m0 218v1m0 1v1m4 -236v1m0 237v1m2 -239v1m0 257v1m4 4v1m0 94v1m2 -135v1m0 166v1m2 -167v1m0 15v1m4 -35v1m2 -218v1m0 7v1m0 371v1m2 -374v1m0 283v1m0 86v1m4 -19v1m2 -131v1m0 54v1m0 49v1m2 -354v1m0 231v1m4 -24v1m2 144v1m2 -161v2m0 162v1m2 -161v2m2 -128v1m0 2v1m0 135v1m0 161v1m2 -377v1m0 30v1m0 177v1m0 8v1m2 -226v1m0 72v2m0 150v1m2 -221v2m0 223v1m2 -193v1m0 195v1m2 -203v1m4 -9v1m2 -9v1m2 21v1m2 208v1m2 -230v1m2 237v1m0 3v1m2 -233v1m4 9v1m2 228v1m2 -244v1m0 4v1m0 402v1m4 14v1m2 -167v1m0 143v1m0 6v2m2 -1v1m0 23v1m0 7v1m2 -4v1m0 1v1m2 -68v1m4 -105v1m2 -261v1m0 198v1m0 82v1m0 1v1m0 82v1m2 -378v1m0 23v1m0 183v1m0 89v1m0 77v1m2 -391v1m0 64v1m0 2v1m0 163v1m4 -138v1m0 134v1m0 166v1m2 -158v1m2 -1v2m8 -223v1m0 2v1m0 1v1m4 2v1m0 395v1m2 -391v1m0 227v1m2 0v1m4 2v1m0 4v1m6 6v1m2 -221v1m0 211v1m2 -265v1m0 26v2m0 8v2m0 176v1m0 10v2m2 -231v1m0 3v1m0 214v1m4 6v1m2 1v1m4 -217v1m0 212v2m2 16v1m2 -1v2m4 -219v1m2 379v1m2 -374v1m4 375v1m2 -166v1m0 163v1m2 -14v2m0 4v1m4 -169v1m4 -219v1m2 -12v1m0 11v2m0 358v1m2 -373v1m0 220v1m0 154v1m0 2v1m0 1v2m2 -385v1m0 229v1m2 -224v1m0 396v1m2 -383v1m2 2v1m0 388v1m6 -166v1m2 -12v1m4 -210v1m0 4v1m0 192v1m0 173v1m2 -374v1m2 221v1m4 -225v1m2 223v1m0 1v1m0 11v1m4 -23v1m0 143v1m4 -156v2m0 5v1m2 -208v1m8 -7v1m2 3v1m0 375v1m2 -368v1m0 201v1m0 158v1m2 -372v2m0 215v1m2 -232v1m0 11v1m0 202v1m0 8v1m2 -229v1m2 379v1m2 -155v1m6 -218v1m0 231v1m2 163v1m0 1v1m4 -21v2m2 -353v1m0 228v1m0 5v1m0 117v1m2 -154v2m2 -205v1m0 203v1m4 -227v1m0 7v1m0 215v1m0 10v1m2 -9v1m8 -211v1m0 221v1m4 -225v2m0 229v1m2 -210v1m4 -1v1m2 -9v1m0 198v1m2 -207v1m4 185v1m0 8v1m0 147v2m4 -375v1m4 -1v1m2 6v1m2 5v1m0 208v1m4 6v1m0 141v1m2 -376v1m2 1v1m0 215v1m0 172v1m2 -152v1m0 162v1m0 1v1m4 -386v1m0 217v1m0 20v1m2 -225v1m0 1v1m4 15v1m0 219v1m0 116v1m2 -340v1m0 333v1m0 2v1m2 -354v1m0 1v1m2 -12v1m0 201v1m0 17v2m2 -242v1m0 11v1m0 210v1m0 144v1m8 -160v1m2 0v1m2 -206v2m0 205v1m0 5v1m0 171v1m6 -172v1m0 23v1m2 -232v1m0 225v1m2 -225v1m2 230v1m0 4v1m2 -12v1m0 2v1m2 -1v1m2 -212v1m2 -9v1m0 209v1m2 174v1m2 -392v1m0 11v1m4 -22v1m0 239v1m0 8v1m0 116v1m2 -374v1m2 216v1m0 15v1m0 14v1m0 52v1m2 -272v1m0 271v1m2 -285v1m0 201v1m2 -208v1m0 7v1m0 195v1m2 -212v1m0 209v1m0 5v1m2 -231v1m0 5v1m0 376v2m2 -155v1m2 5v1m0 4v1m0 154v1m2 -152v1m2 -206v1m0 212v1m0 3v1m2 -212v1m0 223v1m0 8v2m2 -249v2m0 4v1m4 -19v1m0 220v1m2 -227v1m0 356v1m0 5v1m2 -363v1m0 353v1m2 -365v1m0 228v1m0 4v1m4 -234v1m2 3v1m0 397v1m2 -171v1m0 5v1m2 -214v1m0 8v1m0 226v1m2 4v1m0 147v1m4 -373v1m0 355v1m2 -145v1m2 -215v1m0 203v1m2 7v1m2 -219v1m4 -9v1m2 236v1m2 0v1m2 -225v1m2 -3v1m0 11v1m2 -10v1m0 192v1m0 8v1m0 8v1m0 10v1m0 138v1m2 -362v1m0 203v1m2 -16v1m4 -214v1m0 354v1m2 -366v2m0 207v1m0 159v1m2 3v1m2 -156v1m2 -222v1m4 2v1m0 1v1m4 3v1m0 2v1m0 5v1m2 371v1m4 -153v1m0 150v1m2 -359v1m0 204v1m2 -221v1m0 215v1m0 1v1m0 8v1m0 153v1"/>
<path stroke="#ff7800" d="M134 208v1m0 361v1m2 -362v1m0 220v1m2 -221v1m2 19v1m0 200v2m2 -226v1m0 5v1m0 4v1m0 11v1m0 188v1m0 156v1m2 -372v1m2 5v1m2 5v1m0 368v1m2 -154v1m2 163v1m0 2v1m2 -396v1m2 1v1m0 408v1m6 -171v1m4 -209v1m2 -5v2m2 3v1m4 0v1m0 217v1m2 131v1m0 2v1m2 -153v1m4 -212v1m0 211v1m2 -220v1m0 6v1m0 206v1m0 19v1m2 -228v1m2 -8v1m0 222v1m8 -220v1m0 2v1m0 181v1m0 171v1m4 -163v1m0 2v1m4 -196v1m0 199v1m2 7v1m2 182v1m2 -400v1m0 238v1m4 -232v1m0 10v1m0 391v1m2 -388v1m0 12v1m0 219v1m0 15v1m4 -230v1m0 4v1m0 200v2m0 10v1m2 -221v1m0 221v1m2 -257v1m0 339v1m2 -372v1m0 30v1m0 1v1m0 179v1m2 -183v1m2 346v1m2 -348v1m0 181v1m0 169v1m2 -380v1m4 387v1m2 -9v1m2 -366v1m6 10v2m0 341v2m2 -149v1m0 153v1m2 -383v1m0 6v1m4 391v1m2 -402v1m0 232v1m2 12v1m0 166v1m2 -398v2m0 402v1m2 -174v1m0 5v2m4 193v1m2 -395v1m0 243v1m0 158v1m2 -168v1m0 155v1m2 -370v1m0 220v1m0 10v1m2 -12v1m0 100v1m2 -313v1m0 156v1m2 -163v1m0 197v1m0 6v1m0 5v1m2 -266v1m0 10v1m0 22v2m0 12v2m0 161v1m0 150v1m2 -356v1m0 197v1m0 9v1m4 -6v1m0 7v1m4 -224v1m2 356v1m2 -359v1m0 3v1m0 348v1m2 -353v1m0 189v1m2 160v1m2 -4v1m2 1v1m2 -165v1m0 176v1m2 -399v1m0 6v1m0 1v1m2 2v1m0 407v1m4 22v1m2 -397v1m0 231v1m2 -11v1m0 9v1m0 175v1m2 -403v1m0 2v1m0 303v2m0 5v1m2 -312v1m0 242v1m0 67v1m0 17v1m0 3v3m0 25v1m0 3v1m0 2v1m2 -348v1m0 367v1m4 -364v1m0 147v1m0 10v1m0 71v1m0 87v1m2 -171v1m2 -203v4m0 202v1m0 47v1m0 136v1m2 -170v1m0 6v1m0 171v1m2 -180v1m0 186v2m0 2v1m2 -410v2m0 12v1m0 207v1m0 5v2m2 191v1m2 -393v1m0 221v1m0 10v1m0 171v1m2 -410v1m0 6v1m2 14v1m0 207v1m0 9v1m2 -219v1m0 215v1m0 118v1m0 10v1m0 1v2m0 13v1m4 -347v1m0 160v1m0 19v1m0 10v1m2 -226v1m0 5v1m0 31v2m0 142v1m0 16v1m0 8v1m2 -240v1m0 7v1m0 16v2m0 179v1m0 4v1m4 11v1m2 -229v1m0 227v1m4 -207v1m4 231v1m2 -215v1m0 383v2m10 -196v1m0 140v1m2 -237v1m0 89v1m0 4v1m0 9v1m0 102v1m4 -335v1m0 9v1m0 182v1m0 17v1m2 -26v1m0 150v1m2 -362v1m0 4v1m0 202v1m2 0v1m2 -22v2m2 22v1m2 -6v1m0 2v1m2 20v1m0 173v1m2 -180v1m0 13v1m2 -230v1m0 222v1m0 13v1m2 -4v1m0 171v1m2 -381v1m2 302v1m0 23v1m2 -330v1m0 332v2m0 2v2m0 33v1m2 -394v1m0 5v1m0 13v1m0 319v1m2 -354v1m0 32v1m4 -34v1m0 4v1m0 206v1m0 169v1m2 -373v1m0 196v1m0 22v1m2 -5v2m2 -204v1m2 -2v1m0 9v1m2 -6v1m2 199v1m0 8v1m2 -1v1m2 170v1m2 8v1m2 -178v1m4 -216v1m2 15v1m0 228v1m2 -238v1m0 231v1m6 26v1m2 1v1m0 106v2m6 -159v1m0 1v1m2 30v1m4 -246v1m0 6v1m0 3v1m0 2v1m0 242v1m2 -276v1m0 32v1m0 187v1m0 37v1m0 126v1m4 -17v1m0 12v1m2 -158v1m0 121v1m0 7v1m2 -364v2m0 343v1m2 -348v1m0 218v1m0 76v1m2 -97v1m0 21v1m2 -217v1m0 200v1m2 -193v1m0 182v1m0 165v1m4 -366v1m0 70v1m2 -79v1m0 70v1m0 2v1m0 145v1m4 -220v1m2 227v1m2 6v1m0 5v1m2 168v2m0 1v1m2 0v1m2 -380v1m0 379v1m2 -403v1m2 1v1m0 227v1m0 2v1m2 -229v1m0 16v1m0 213v2m0 168v1m2 -162v1m0 1v1m6 -227v1m2 233v1m0 160v1m2 -408v2m0 236v1m0 170v1m2 -36v1m2 -362v1m0 245v1m0 112v1m0 50v1m0 2v1m2 -54v1m2 35v1m2 -39v2m0 60v1m2 -188v1m2 -27v1m0 3v1m4 -216v1m0 6v2m0 9v1m0 263v1m2 -298v1m2 36v1m0 16v1m0 1v1m0 155v2m2 -226v1m0 1v1m2 389v1m0 4v1m2 -163v1m0 167v1m6 -150v1m6 -226v1m2 3v1m2 -3v1m0 227v1m0 170v1m4 -166v2m0 2v1m0 153v2m2 -152v1m0 121v1m0 14v1m2 -351v1m4 0v1m0 209v1m0 99v1m2 -137v1m2 -226v2m0 46v1m0 193v1m0 6v1m2 -253v1m0 377v1m6 -151v1m0 2v1m2 159v1m4 -162v1m2 -219v1m0 236v1m2 -229v1m6 9v1m2 -4v1m2 0v1m2 -5v1m2 214v1m0 156v1m2 -373v1m0 212v1m2 -214v1m0 346v1m8 -144v1m2 -228v1m0 229v1m2 3v1m0 161v1m0 6v1m0 2v1m4 -161v1m4 -225v1m0 217v1m2 -1v1m2 -14v1m2 -200v1m4 210v1m2 -216v1m0 390v1m2 -159v1m4 145v1m0 1v1m2 -377v1m0 211v1m2 6v1m4 -216v1m2 -12v1m0 365v1m2 -153v1m0 2v1m2 1v1m0 8v2m2 -231v2m10 210v1m2 -1v1m2 -230v1m0 1v1m0 213v1m0 165v1m2 -382v1m2 227v1m0 161v1m2 -163v1m2 -220v1m4 19v1m0 370v1m8 -7v2m2 -367v1m0 202v1m0 163v1m10 -362v1m2 212v1m0 6v1m0 169v1m4 -395v1m0 219v1m2 6v1m0 1v1m0 145v2m4 -367v1m0 1v1m2 1v1m2 -8v1m2 -16v1m0 203v1m4 -6v1m0 3v1m2 -224v1m6 3v1m4 225v1m2 -224v1m2 -4v1m0 377v1m2 -166v1m0 8v1m0 7v1m2 -237v1m0 229v1m0 8v1m0 166v1m0 7v1m6 -382v1m0 218v1m2 -201v1m0 364v1m2 -15v1m2 -25v1m2 -344v1m2 -15v1m0 7v1m0 210v1m0 7v1m2 -240v1m0 208v1m4 -220v1m0 2v1m4 216v1m0 172v1m2 -384v1m2 -1v1m2 227v1m6 1v1m4 -220v1m0 226v1m6 164v1m2 -173v1m2 -217v1m0 380v1m2 -160v1m0 135v1m0 17v2m0 13v1m2 -164v1m2 -241v1m0 4v1m2 -1v1m0 3v1m2 11v1m0 188v1m0 86v1m0 5v1m2 -7v1m2 -273v1m0 324v1m2 -345v1m0 9v1m2 -16v1m4 -7v1m0 235v1m0 141v1m4 -357v1m0 223v1m2 -218v1m0 216v1m2 1v1m4 -235v1m0 223v1m8 -233v1m0 223v1m2 -16v1m2 -11v1m0 4v1m4 -210v1m0 2v1m0 5v1m0 217v1m0 2v1m2 -218v1m0 15v1m0 213v1m0 11v1m0 152v1m0 2v1m2 -383v1m2 372v1m2 -145v1m0 135v1m2 -143v1m4 -218v1m2 -7v1m0 218v1m0 158v1m6 1v1m2 -147v1m2 -257v1m2 392v1m2 -157v1m0 12v1m2 -4v1m4 -228v1m0 190v1m0 1v1m2 -211v1m0 2v1m0 1v1m2 -1v1m0 198v1m0 9v1m0 151v1m2 -376v1m0 216v1m4 172v1m8 -371v1m2 -15v1m0 24v1m2 3v1m0 6v1m0 192v1m0 5v1m2 148v1m2 -375v1m2 -3v1m0 2v1m0 215v1"/>
<path stroke="#ff5500" d="M134 438v1m2 -235v1m0 367v1m4 -362v1m0 198v1m0 162v1m2 -357v1m2 -12v1m0 7v1m0 15v1m0 206v1m0 136v1m2 -375v1m0 15v1m0 13v1m2 -16v1m0 371v1m2 -380v1m0 380v1m2 -382v1m2 234v1m2 165v1m2 -166v1m2 0v1m8 -206v1m2 -11v1m0 223v1m2 -225v1m0 4v1m0 369v1m2 -376v1m0 7v1m2 359v1m2 -369v1m0 214v1m0 144v1m2 -143v1m2 -4v1m2 -18v1m0 27v1m4 -20v1m0 6v1m2 -215v1m0 345v1m2 -353v1m0 216v1m2 -217v1m0 195v1m0 158v2m2 -161v1m2 -192v1m2 -17v1m0 7v1m0 201v1m2 -195v1m2 -24v1m0 234v1m0 163v1m2 -377v1m0 382v1m2 -400v1m0 230v1m2 -227v1m0 249v2m2 -229v1m0 218v1m0 1v1m0 1v1m2 3v1m2 -218v1m2 -23v1m0 37v1m0 321v1m0 4v1m0 14v1m2 -152v1m0 25v1m0 12v1m0 78v1m2 -321v1m0 177v1m0 23v1m0 13v1m0 97v1m2 -314v1m0 308v1m2 -371v1m0 19v2m0 12v1m0 178v1m0 2v1m2 0v2m2 -232v1m0 7v1m2 223v2m0 3v1m2 -6v1m0 7v1m2 -225v1m2 5v1m0 221v2m2 -7v1m2 -200v1m0 5v1m0 208v1m2 -10v1m0 143v1m2 -155v1m0 18v1m0 2v1m2 -224v1m6 -24v1m0 391v1m2 -395v1m0 402v1m2 -161v1m2 -240v1m2 8v1m0 1v1m0 233v1m2 -237v1m0 418v1m2 -410v1m0 21v1m2 220v1m0 2v1m2 31v1m2 5v1m2 -3v1m0 109v1m0 11v1m2 -336v1m2 219v1m2 -254v2m0 6v2m0 15v1m0 9v1m0 163v2m0 9v1m2 -185v1m0 146v2m0 14v1m2 -229v1m2 220v1m2 0v1m0 158v1m2 -153v1m0 145v1m2 -366v1m6 -16v1m2 194v1m4 -2v1m2 -216v1m0 394v1m2 -158v1m2 171v1m0 3v1m4 -396v1m0 3v1m0 1v1m0 220v1m2 7v2m0 14v1m2 8v1m2 9v1m2 -236v1m0 8v1m0 227v1m0 68v1m0 12v1m0 40v2m2 -345v1m0 223v1m0 143v1m2 -369v1m0 313v1m2 -92v1m2 -248v1m0 177v1m0 72v1m2 -251v1m0 184v1m0 175v1m2 -391v1m0 2v1m2 -5v1m0 225v1m0 20v1m2 -248v1m0 239v1m0 17v1m0 162v1m2 -412v1m2 13v1m0 418v1m4 -386v1m0 208v1m0 4v1m0 162v1m2 -170v1m0 1v1m0 108v1m0 6v1m0 4v1m0 11v2m0 13v1m2 -346v1m2 170v1m0 11v1m0 113v1m2 -327v1m0 8v2m0 22v3m0 163v1m0 1v1m2 -238v1m0 377v1m2 -390v2m0 2v1m0 385v1m0 2v1m2 -154v1m2 -227v1m0 7v1m0 216v1m2 -210v1m2 6v2m2 4v1m0 224v1m0 164v1m2 -393v1m0 395v1m4 -379v1m0 214v1m4 -234v1m0 379v1m2 -376v1m0 83v1m2 112v1m4 -18v1m2 -63v1m0 51v1m0 14v1m2 -12v1m0 134v1m2 -359v1m0 3v1m0 3v1m0 196v1m2 -4v1m2 169v1m2 -384v1m0 2v1m0 216v1m4 -178v1m0 369v1m6 -378v1m0 213v1m2 -216v1m0 221v1m2 102v1m0 10v1m0 45v1m0 5v1m0 1v1m2 -395v1m0 241v1m0 86v1m2 7v1m2 -358v1m0 254v1m0 105v1m2 -152v1m0 1v1m2 -215v1m0 6v1m2 26v1m2 -1v1m0 361v1m2 -165v1m4 -212v1m4 -23v1m0 34v1m0 198v1m4 14v1m0 165v1m2 -399v1m0 17v1m0 215v1m0 2v1m2 -241v1m2 252v1m2 -1v1m4 -222v1m2 224v1m2 123v1m2 -168v1m2 -194v1m0 371v1m2 -179v1m2 15v1m4 -6v1m2 2v1m2 -204v1m0 238v1m2 -265v1m0 222v2m2 4v1m0 142v1m0 3v1m0 2v1m2 -34v1m2 -327v1m2 -27v1m2 5v1m0 19v1m0 264v1m2 -283v1m0 194v1m0 1v1m4 -197v1m0 187v1m2 -199v1m0 196v1m2 7v1m0 169v1m2 -389v1m0 228v1m4 1v1m2 -204v1m0 3v1m0 8v1m0 198v1m2 7v1m2 168v1m2 2v1m4 -176v1m0 3v1m2 -227v1m0 234v1m2 -1v1m2 -223v1m2 244v1m0 144v1m4 -395v1m0 2v1m0 394v1m2 3v1m4 -152v1m0 123v1m0 42v1m2 -20v2m2 -161v1m0 8v1m0 154v1m2 -150v1m2 -21v1m0 22v1m2 -46v1m0 39v1m4 -231v1m2 -14v2m0 197v1m2 -231v1m0 1v1m2 222v2m0 2v1m2 0v1m2 -230v1m0 243v1m0 155v1m2 4v1m4 -157v1m4 0v1m2 169v1m2 -176v1m2 -216v1m0 393v1m4 -165v1m0 166v1m2 -8v1m2 -157v1m0 108v2m0 1v1m2 -107v1m2 -215v1m0 214v1m2 -51v1m0 3v1m0 11v2m0 4v1m0 19v1m2 -235v1m0 8v2m0 9v1m0 166v1m0 25v1m4 -242v1m0 1v1m0 225v1m2 156v1m2 -378v1m0 225v1m6 163v1m0 1v1m2 -154v1m0 2v1m4 7v1m4 -231v1m4 215v1m2 160v1m4 -376v1m2 202v1m0 4v1m2 -209v1m0 200v1m0 1v1m0 137v1m2 -357v1m4 209v1m0 1v1m8 -203v1m0 387v1m2 -392v1m0 382v1m4 -381v1m0 212v1m0 6v1m4 -212v1m0 196v1m0 166v1m2 -169v1m2 -201v1m0 1v1m2 224v1m4 -228v1m0 392v2m2 -8v1m2 -384v1m2 4v2m0 344v1m2 -153v1m0 8v1m4 -212v1m0 202v1m0 154v1m6 -363v1m2 226v1m0 2v1m0 144v1m2 -367v1m0 213v2m0 4v1m2 -5v1m2 -225v1m2 211v1m0 148v1m6 -167v1m2 12v1m0 163v1m4 -157v1m0 169v1m2 -384v1m0 387v1m4 -382v1m0 220v1m0 11v1m0 128v2m4 -351v1m0 197v1m0 4v1m2 -221v1m0 11v1m2 -12v1m4 -8v1m2 229v1m0 4v1m0 154v1m2 -372v1m0 213v1m0 2v1m2 -2v1m2 -2v1m0 175v1m4 -163v1m0 1v1m2 -219v1m0 356v1m2 -160v1m0 3v1m2 -237v1m0 229v1m0 145v1m2 -148v1m2 134v1m2 -351v1m0 207v1m2 137v1m2 -375v1m0 213v1m6 11v1m4 -217v1m0 3v1m0 213v1m0 143v1m4 -150v1m2 -221v1m2 -8v1m0 401v1m2 -160v1m2 9v1m0 174v1m2 -409v1m0 3v1m2 13v1m0 382v1m2 -151v2m0 140v1m2 -152v1m0 130v1m2 -337v1m0 194v1m0 21v1m2 -215v1m0 182v1m0 2v1m0 14v1m0 1v1m6 -263v1m2 1v1m0 215v1m2 -1v1m0 1v1m0 1v1m2 -1v1m0 166v1m4 -162v1m2 -3v1m4 180v1m2 -170v1m2 2v1m2 -226v1m0 234v1m0 156v1m2 -158v1m0 156v1m0 2v1m2 -392v1m4 392v1m2 -8v1m2 -382v1m0 223v1m0 156v2m2 -25v1m4 -124v1m0 3v1m2 -10v1m0 56v1m2 -277v1m0 3v1m0 2v1m0 268v1m4 -285v1m4 -20v1m0 226v1m4 -207v1m0 207v1m2 -204v1m0 214v1m2 -215v1m4 230v1m2 -4v1m2 -16v1m0 130v1m4 -370v1m4 211v1m2 -3v1m0 2v1m2 19v1m0 3v1m2 -227v1m0 219v1m0 17v1m2 -237v1m2 246v1m2 -4v2m0 143v1m2 -364v1m0 231v1m2 -234v1m2 202v1m2 -217v1m0 373v1m4 -376v1m0 214v1m2 5v1m2 -227v1m0 391v1m2 -383v1m0 224v1m6 -8v1m0 1v1m0 14v2m2 -233v1m6 -18v1m0 6v1m0 345v1m2 -370v1m0 4v2m0 6v1m0 2v1m2 202v1m10 9v1m2 -222v1m0 5v1m0 2v1m0 205v1m0 11v1m4 -196v2m0 344v1m2 -135v2m4 -241v1"/>
<path stroke="#ff3100" d="M134 439v1m2 -234v1m2 223v1m2 -219v1m0 361v1m2 -371v1m2 223v1m2 -214v1m0 363v1m2 -350v1m4 -17v1m0 15v1m4 -1v1m0 383v1m2 -399v1m0 405v1m2 -1v1m2 -396v1m0 4v1m6 381v1m2 -378v1m0 226v1m4 135v1m2 -371v1m2 4v1m2 -5v1m0 215v1m4 -19v1m0 142v1m4 -349v1m0 5v1m0 340v1m2 -136v1m2 -4v1m0 6v1m2 -217v1m4 197v1m4 -211v1m0 209v1m2 9v1m2 20v1m2 -232v1m4 256v1m2 -238v1m0 239v1m2 8v1m4 -18v1m2 -222v1m0 4v1m0 185v2m0 26v1m2 -245v1m2 -28v1m0 21v1m0 17v2m0 6v2m0 172v1m2 -16v1m0 7v1m2 -232v1m2 228v1m2 -210v1m2 3v1m0 219v1m2 -218v1m0 217v1m2 -3v1m2 5v1m4 -14v2m0 12v1m2 139v1m2 -150v1m0 154v1m2 -377v1m6 227v1m4 180v1m0 1v1m2 -162v1m2 -237v1m0 4v1m0 6v1m0 4v1m0 403v1m2 -411v1m0 21v1m0 391v1m2 -395v1m0 2v1m0 6v1m0 389v1m2 -169v1m2 11v1m0 14v1m0 95v1m2 -17v1m2 -297v1m0 176v1m0 20v1m0 94v1m2 -320v1m0 1v1m0 180v1m2 -232v2m0 10v1m0 36v1m0 162v1m0 6v1m0 4v1m6 -232v1m2 6v1m0 215v1m2 -5v1m0 9v1m2 -224v1m2 207v1m2 -224v1m0 1v1m0 4v1m2 -17v2m0 368v1m2 -1v1m2 4v1m0 7v1m2 -397v1m0 224v1m0 175v1m2 -392v1m0 405v1m2 -404v1m0 221v1m2 -220v1m0 9v1m0 406v1m2 -413v1m0 9v1m2 -2v1m0 232v1m0 5v1m0 176v1m2 -163v1m2 -236v1m0 231v1m0 92v1m0 85v1m2 -402v1m0 233v1m0 80v1m0 1v1m0 11v1m0 6v2m0 9v1m0 47v2m0 2v2m2 -389v1m0 5v1m0 218v2m0 10v1m0 123v1m4 -361v1m0 2v1m0 230v1m0 2v1m0 4v1m2 -264v1m0 198v1m0 18v1m0 135v1m2 -365v1m0 378v1m2 -178v1m0 13v1m0 1v1m0 169v1m2 -412v1m0 1v2m0 1v2m0 239v1m0 1v1m0 179v1m2 -405v1m2 247v1m2 -237v1m0 411v1m2 -418v1m0 11v1m2 -13v1m0 406v1m2 -366v1m2 5v1m0 187v1m0 110v1m2 -293v1m0 6v1m0 156v1m0 126v1m2 -360v2m0 4v1m0 63v1m0 2v1m0 289v1m2 -378v1m0 17v2m0 210v1m2 -204v1m0 205v1m6 -204v1m0 208v1m0 1v1m2 16v1m2 -232v1m0 223v1m0 1v1m0 176v1m2 -387v1m0 226v2m2 -223v1m0 218v1m0 161v1m4 -169v1m0 18v1m4 -241v1m0 220v2m2 -233v1m0 347v1m2 -147v1m2 -211v1m2 4v1m2 -18v1m0 9v1m2 -26v1m0 4v1m0 1v1m0 197v1m0 155v1m0 1v1m2 -372v1m0 5v1m0 200v1m0 4v1m2 -216v1m0 40v1m0 338v1m4 -166v1m0 2v1m2 -214v1m0 231v1m2 -227v1m0 404v1m2 -391v1m0 212v1m2 -199v1m0 380v1m2 -387v1m2 10v1m0 290v1m0 11v1m2 -320v1m0 18v1m0 295v1m0 2v1m0 37v1m2 -366v1m0 247v1m2 -261v1m0 215v1m0 4v1m0 5v1m2 -15v2m0 8v1m2 -225v1m0 2v1m0 199v1m0 6v1m0 2v1m2 -207v1m0 200v1m2 179v2m2 5v1m4 -376v1m0 378v1m6 -399v1m0 231v1m2 -236v1m2 13v1m0 229v1m2 -218v1m0 224v1m0 2v1m0 2v1m0 2v1m2 -241v1m2 24v1m0 220v1m2 -222v1m2 -13v1m0 237v1m6 -239v1m2 193v2m2 166v1m2 -143v1m2 -20v1m2 64v2m2 -279v1m0 15v1m0 3v1m4 -31v1m0 226v3m2 69v1m0 69v1m0 9v1m2 -385v1m0 352v1m0 8v1m6 -160v1m0 7v1m2 -10v1m0 150v3m2 -344v1m2 -4v1m2 -12v1m0 72v1m2 -81v1m0 2v1m0 217v1m0 1v1m2 0v1m2 6v1m12 8v1m2 -228v2m0 20v1m2 217v1m0 166v1m4 -394v1m0 235v1m4 -232v1m0 238v1m4 -9v1m2 6v1m4 147v1m2 -148v1m0 7v1m0 153v1m0 25v1m6 -221v1m0 5v1m0 37v1m2 -48v1m0 56v1m2 -268v1m0 23v1m0 342v1m2 -74v1m0 3v1m2 -95v1m2 -141v2m2 147v1m2 8v1m2 7v1m0 1v1m0 153v1m2 -154v1m4 -235v1m2 -2v1m2 230v1m4 10v1m2 2v1m2 -224v1m2 222v1m0 146v1m0 2v1m0 6v1m2 -371v1m0 323v1m0 4v2m2 -105v1m2 97v1m2 -151v1m0 3v1m0 26v2m0 119v1m2 -342v1m0 197v1m0 9v1m2 -18v1m2 -227v1m0 222v1m0 163v1m4 -378v1m2 219v1m0 164v1m6 -154v1m10 -208v1m2 376v1m2 -1v1m4 -384v1m0 208v1m4 -207v1m0 339v1m2 -360v1m0 1v1m0 13v1m2 201v1m0 150v1m4 -144v1m8 10v1m2 -225v1m0 1v1m0 229v1m2 134v1m2 -363v1m2 204v1m2 -200v1m0 194v1m0 5v2m0 8v1m2 7v1m4 6v1m2 -232v1m0 2v1m2 -1v1m0 375v1m2 -9v1m6 -167v1m10 -207v1m0 226v1m2 -224v1m2 211v1m0 157v1m2 -378v1m0 9v1m0 1v2m0 206v1m2 -229v1m0 3v2m0 209v1m0 2v2m4 -228v1m0 213v1m6 21v1m0 161v2m2 -383v1m0 390v1m2 2v1m2 -384v1m0 1v1m0 213v1m4 4v1m0 140v1m2 -351v1m0 3v1m0 197v1m0 3v1m4 -7v1m2 0v1m4 -212v1m2 383v1m12 -363v1m0 2v1m0 195v1m0 3v1m4 -212v1m0 197v1m0 141v1m2 -147v1m2 -211v2m0 198v1m0 149v1m2 -157v1m2 -216v1m0 5v1m2 -10v1m2 213v1m2 3v1m4 5v1m2 -208v1m0 206v1m2 -220v1m4 211v1m0 5v1m2 -222v1m0 223v1m0 8v1m0 174v1m0 1v1m2 -175v1m0 6v1m2 -223v1m0 212v1m0 6v1m0 9v1m0 1v1m0 172v1m2 -394v1m0 215v1m0 3v1m4 5v1m2 -14v1m0 18v2m2 -234v2m0 339v1m2 -367v1m0 210v1m2 -222v3m2 -8v1m2 225v2m8 0v1m4 6v1m6 -220v1m0 2v1m0 223v1m0 6v1m0 2v1m10 -12v1m0 8v1m2 -220v1m0 389v1m2 -171v1m4 -240v1m0 244v1m2 1v1m2 -231v1m0 285v1m2 -279v1m0 3v2m0 192v2m0 76v1m0 56v1m4 -361v1m0 210v2m2 -220v1m4 240v1m2 6v1m4 -215v1m0 218v1m2 -217v1m0 224v1m2 -229v1m2 210v2m0 136v1m2 -372v1m0 1v1m2 226v1m2 -8v1m8 -12v1m0 20v1m2 -234v1m0 11v1m0 214v1m0 20v1m4 -216v1m0 220v1m2 -218v1m2 225v1m0 7v1m2 -10v1m2 -12v1m2 -224v1m2 -10v1m2 -1v1m2 1v1m2 384v1m4 -382v1m0 3v1m2 2v1m0 224v1m0 139v1m2 -165v2m0 2v2m0 12v1m2 -3v1m0 132v1m6 -376v1m0 211v1m2 150v1m2 -376v1m0 381v1m6 -380v1m2 -3v1m2 391v1m2 -382v1m0 2v1m0 220v1m2 -5v1m0 3v1m2 5v1m2 -2v1m2 -202v1m0 205v1m2 -10v1"/>
<path stroke="#ff0e00" d="M134 431v1m2 4v1m2 -228v1m0 229v1m6 -227v1m0 2v1m2 211v1m0 149v1m2 4v1m2 -153v1m0 161v1m4 -382v1m0 385v1m0 6v2m2 -388v1m0 395v1m2 -397v1m0 223v1m2 -220v2m0 226v1m2 -227v1m0 218v1m0 1v1m0 172v1m2 -392v1m0 5v1m0 212v1m0 4v1m2 -6v1m0 8v1m6 -221v1m2 -1v1m0 223v1m0 136v2m0 1v1m2 -366v1m0 212v1m0 141v1m2 -5v1m2 -8v1m8 -138v1m0 128v1m2 -345v1m0 206v1m0 1v1m4 -210v1m0 187v1m0 11v1m2 -206v1m2 -5v1m0 192v1m4 11v1m2 -223v1m0 230v1m2 -227v1m0 227v1m0 7v1m4 -213v1m0 222v1m2 -228v1m0 3v1m2 5v1m0 12v1m2 238v1m2 102v2m0 10v1m2 -332v1m0 186v1m0 19v1m0 90v1m0 4v1m2 -347v1m0 192v1m0 7v1m0 10v1m2 -13v1m2 -229v1m2 1v1m8 -3v1m0 223v1m4 159v1m2 -368v1m0 210v1m2 1v1m0 1v1m0 5v1m2 -213v1m0 195v1m2 -212v1m0 207v2m0 7v1m2 -222v2m0 365v1m2 -157v1m6 -225v1m0 406v1m2 -374v1m2 -1v1m0 386v1m2 -403v1m0 2v1m0 225v2m2 -219v1m2 19v1m0 2v1m0 216v1m0 15v1m2 -230v1m0 2v2m0 233v1m2 145v1m0 7v1m2 -379v2m2 4v1m0 236v2m2 -283v1m0 233v2m0 121v1m2 -318v1m0 9v1m0 2v1m0 172v2m2 -214v1m0 8v3m0 3v1m0 329v1m2 -161v1m0 1v2m0 2v2m0 3v2m2 -9v1m2 3v1m4 -216v1m0 360v1m2 -364v1m0 213v1m0 144v1m4 -171v1m2 -201v1m0 358v1m2 -166v1m0 161v1m4 -159v1m0 178v1m2 -398v1m0 400v1m0 3v1m2 -408v1m0 235v1m0 7v1m0 174v1m2 -409v1m0 414v1m2 -181v1m0 2v1m0 10v1m0 171v1m4 -167v1m0 10v1m2 77v1m2 6v1m0 6v1m0 81v1m0 3v1m2 -32v1m4 -178v1m2 -181v1m0 155v1m0 7v1m2 -198v1m0 194v1m0 3v1m0 5v1m0 173v1m2 -371v1m0 188v1m0 5v1m2 1v1m0 2v1m0 2v1m0 10v1m0 173v1m2 11v1m0 3v1m2 -163v1m2 -233v1m0 227v1m0 179v1m2 -404v1m2 16v1m2 -33v1m0 40v1m2 303v2m2 -108v2m0 106v1m2 -365v2m0 74v1m0 158v1m2 -17v1m2 -234v1m2 12v1m0 222v1m0 4v1m2 0v1m2 11v1m0 1v1m2 -8v1m2 -210v1m0 228v1m0 3v1m4 -224v1m0 4v1m2 379v1m2 -151v1m2 -27v1m0 159v1m4 -386v1m0 211v1m0 12v1m4 -18v1m2 -211v1m0 132v1m2 -141v1m0 5v1m2 333v1m2 -372v1m0 214v1m0 159v1m2 -381v1m4 41v1m2 -36v1m0 4v1m0 213v1m0 8v1m4 -207v1m0 214v1m2 -219v1m0 234v1m2 168v1m2 -380v1m0 369v1m2 -375v1m0 304v2m0 7v1m0 27v1m2 -131v1m0 109v1m2 -364v1m0 226v1m0 140v1m2 -154v1m0 157v1m4 -365v1m0 2v1m2 7v1m0 376v1m2 -374v1m0 11v1m0 364v1m4 -366v1m0 367v1m2 -1v1m4 -163v1m2 -242v1m0 34v1m2 -24v1m0 227v1m0 5v1m0 6v1m0 2v1m2 -242v1m2 17v1m2 10v1m14 350v1m2 -361v1m0 196v1m0 7v1m0 26v1m0 14v1m2 -248v1m0 203v1m4 -3v1m0 75v2m2 -73v1m4 71v1m6 -75v1m0 115v1m2 -149v1m0 12v2m2 -4v1m4 -185v1m0 49v1m0 289v1m2 -360v1m0 200v1m2 -216v1m0 68v1m0 144v1m2 -216v1m4 397v1m2 -384v1m0 5v2m4 224v1m6 -7v1m4 -215v1m2 241v1m2 -233v1m0 230v1m4 -240v1m2 402v1m2 -165v1m2 8v1m0 1v1m0 114v1m0 8v1m2 11v1m2 18v1m0 22v1m2 4v1m2 -217v1m0 37v1m2 -53v1m0 13v1m0 34v1m2 -50v1m0 60v1m2 -242v1m0 181v1m4 -4v1m2 -228v1m0 388v1m2 -390v1m0 391v2m2 -389v1m0 239v1m4 4v1m2 -232v1m0 230v1m2 -2v1m4 -228v1m0 4v1m4 225v1m0 174v1m4 -162v1m2 144v1m2 -360v1m0 324v1m2 -108v1m2 -209v1m2 0v1m0 307v1m2 -353v1m0 32v2m0 180v1m0 18v1m2 -251v2m2 222v2m0 157v1m2 -383v1m6 10v1m2 386v1m8 -145v1m0 3v1m0 146v1m2 -155v1m10 -10v1m0 138v1m2 -353v1m2 201v1m2 -208v1m0 342v1m2 -359v1m2 -11v1m0 1v1m0 227v1m0 155v1m2 -385v1m2 232v1m2 173v1m4 -386v1m8 8v1m0 198v1m0 4v1m0 159v1m2 -161v1m2 13v1m0 161v1m2 -384v1m0 223v1m0 1v1m6 -228v1m0 380v3m0 3v1m2 -18v1m4 -360v1m0 204v1m2 -208v1m4 202v1m0 2v1m0 2v1m2 3v1m2 150v1m2 -372v1m2 215v1m4 -222v1m0 209v1m0 156v1m2 -376v1m4 369v1m2 -156v1m2 -4v1m4 14v1m0 169v2m8 -369v1m2 1v1m0 199v1m2 -216v1m0 3v1m0 5v1m2 -9v1m0 205v1m2 -219v2m0 1v1m0 224v1m2 -3v1m4 -204v1m0 375v1m10 -372v3m2 6v1m4 189v1m2 -7v1m2 -211v1m2 -5v1m2 354v1m2 -372v1m0 214v1m0 1v1m2 152v1m2 -150v1m2 -5v1m4 4v1m0 5v1m2 -222v1m2 -5v1m0 218v1m0 147v1m0 1v2m2 19v1m2 -168v1m0 174v1m2 -391v1m0 232v1m0 174v1m2 -394v1m0 1v1m2 10v2m0 212v1m4 -206v1m0 210v1m4 -232v1m0 5v1m0 212v1m0 4v1m0 119v1m2 -368v1m0 365v1m4 -378v1m0 218v1m6 3v1m4 -5v1m2 13v1m2 -220v1m2 237v1m0 150v1m4 -154v1m0 9v1m2 -241v1m4 0v1m2 222v1m4 139v1m6 -3v1m2 -378v1m0 10v1m0 229v1m2 -233v1m0 12v1m0 2v1m0 194v1m0 89v1m0 4v2m2 -274v1m0 173v1m0 9v1m0 8v1m0 78v1m2 -292v1m2 -5v1m2 -23v1m0 8v1m0 211v1m2 -218v1m0 223v1m0 5v1m2 3v1m0 145v1m2 -367v1m0 6v1m0 209v1m2 -203v1m4 367v1m2 -367v1m2 -15v1m0 227v1m0 9v1m0 120v1m2 -363v1m4 -11v1m2 -1v2m0 208v1m2 163v1m2 -167v1m0 175v1m2 -388v1m0 232v2m0 5v1m4 -225v1m0 393v1m2 -380v1m0 222v1m0 3v1m2 -222v1m4 216v1m2 -15v1m0 9v2m2 150v1m4 -150v1m4 -228v1m0 225v1m4 -220v1m4 6v1m0 1v1m0 212v1m0 12v1m0 127v1m2 -151v1m0 147v1m2 -362v1m2 -1v2m2 -18v1m2 199v1m2 161v1m0 1v1m4 -384v1m2 223v1m8 -194v1m4 5v1"/>
<path stroke="#ea0000" d="M140 433v1m2 4v1m4 -234v2m0 1v1m0 372v1m2 -146v1m2 -228v1m0 382v1m2 6v1m2 -393v1m2 0v1m2 14v1m0 397v1m2 -1v1m8 -163v1m2 -222v1m0 216v1m8 -225v1m0 214v1m4 131v1m2 -6v1m2 -139v1m2 3v1m2 132v1m2 -155v1m0 3v1m0 9v1m0 4v1m2 141v1m2 -167v1m0 6v1m0 2v1m2 -206v1m0 198v1m2 -199v1m2 213v1m0 1v1m2 -230v1m2 242v1m0 2v1m4 15v1m2 -228v1m2 7v1m0 2v1m4 343v3m0 4v1m2 -143v1m0 4v1m0 14v1m0 4v1m0 10v1m0 77v1m2 -124v2m2 -34v1m0 20v1m2 -244v1m4 -13v1m0 3v1m0 225v1m0 162v1m2 -389v1m0 227v1m2 -190v1m0 356v1m4 -163v1m2 -214v1m2 9v1m2 -2v1m0 211v1m0 137v1m2 -345v1m2 -5v1m0 205v1m2 -200v1m2 -32v1m0 3v1m0 26v1m0 188v1m2 169v1m2 -157v1m2 -5v1m0 2v1m2 182v1m2 -170v1m2 -217v1m0 212v1m2 -226v1m0 1v1m2 240v1m0 8v1m2 -208v1m0 211v1m2 -212v1m0 235v1m2 -228v2m0 354v1m2 -348v1m2 169v1m2 -177v1m0 195v2m0 2v2m0 2v2m2 -234v1m2 -23v1m0 206v1m2 -204v1m4 -1v1m2 -12v1m0 210v1m0 9v1m4 -27v3m0 6v1m2 -218v1m2 204v1m2 -217v1m0 206v1m2 169v2m0 2v1m2 -391v1m2 405v1m0 3v1m2 -178v1m2 -217v1m0 223v1m2 197v1m2 -411v1m0 229v1m2 9v1m2 -213v1m0 232v1m2 77v1m0 5v1m0 73v1m2 -23v1m0 13v1m2 -53v1m2 -156v1m0 36v2m2 -205v1m0 161v1m0 8v2m0 16v1m0 150v1m2 -387v1m0 3v1m0 211v1m0 19v1m0 8v2m2 -245v1m0 221v1m0 174v1m2 -404v1m0 248v1m2 -246v1m0 4v1m0 241v1m0 6v1m0 166v1m2 -169v1m0 1v1m0 1v2m4 -223v1m0 2v1m2 12v1m0 1v1m0 368v1m0 4v2m2 -161v2m0 108v1m0 12v1m0 14v1m2 -385v1m2 55v1m0 3v1m2 -56v1m0 25v2m0 4v1m0 1v2m0 165v2m0 143v1m2 -378v1m0 6v1m0 16v1m0 197v1m0 12v1m4 -233v2m2 15v1m0 384v1m4 -373v1m0 222v1m2 -6v1m4 -197v1m0 221v1m2 -219v1m2 -34v1m0 20v2m6 193v1m0 128v1m0 3v1m6 -361v1m0 9v1m2 -13v2m0 201v1m2 -8v1m2 -220v1m0 2v1m0 368v2m2 -378v1m0 214v1m2 -221v1m0 3v1m0 208v1m6 -169v1m2 198v1m0 3v1m2 -219v1m0 8v1m2 1v1m0 218v1m0 7v1m2 4v1m0 66v1m0 85v1m2 -70v1m0 36v1m0 5v1m2 -374v1m0 221v1m4 -239v1m0 229v1m2 -197v1m0 171v1m0 173v1m2 -373v1m0 200v1m0 11v2m2 -7v1m0 177v1m4 -359v1m2 -4v1m4 369v1m2 -370v1m2 -32v1m0 241v1m2 -234v1m2 21v1m0 218v2m0 5v1m2 -232v2m2 239v1m2 -227v2m14 221v1m0 14v1m6 4v1m2 -244v1m0 193v1m4 -3v1m2 3v1m0 1v1m0 119v1m4 -136v1m0 75v1m0 53v1m2 -345v1m0 209v3m0 134v1m2 -144v1m2 149v1m2 4v2m2 -367v1m2 377v1m2 -352v1m2 -1v1m2 198v1m2 -215v1m0 15v1m8 -22v1m4 235v1m2 3v1m0 7v1m2 -229v1m0 233v1m0 1v1m6 153v1m0 2v1m6 -152v1m0 122v1m2 14v1m0 1v1m0 2v2m2 -142v1m4 -37v1m0 9v1m0 33v1m0 104v1m2 -115v1m0 10v1m2 -57v1m0 62v2m0 4v2m2 -278v1m0 202v1m0 74v1m0 90v1m2 -354v1m0 3v1m0 275v1m2 -87v1m0 158v1m2 -309v1m0 148v2m0 3v1m2 -237v2m0 89v1m2 -87v1m0 1v1m2 9v1m2 229v1m2 0v1m0 162v2m2 -392v1m2 224v1m2 -224v1m8 17v1m2 358v1m0 1v1m0 11v1m2 -362v1m0 3v1m2 217v1m4 -216v1m2 -37v1m0 13v1m0 210v1m4 -246v1m2 2v1m0 222v1m2 -2v1m0 160v1m2 -380v1m4 230v1m4 6v1m8 1v1m0 4v1m2 -5v1m4 -222v1m4 208v1m2 -211v1m0 199v1m2 3v1m0 137v1m2 -361v1m14 12v1m0 4v1m0 217v1m2 -220v1m2 207v1m0 155v1m2 5v1m2 -163v1m0 9v1m2 169v1m2 -386v1m0 220v1m2 -225v1m2 238v1m0 159v1m2 -162v1m0 150v1m2 -21v1m4 -153v1m4 -9v1m4 11v1m2 -220v1m0 223v1m4 152v1m2 -161v1m0 5v1m2 -221v1m0 212v1m2 -222v1m0 2v1m0 206v1m6 2v1m0 155v1m2 -152v1m0 159v1m2 -158v1m2 -222v1m0 1v1m2 396v1m4 -384v1m4 227v1m6 -244v1m0 2v1m0 1v1m0 214v1m0 11v1m6 6v1m2 -221v1m2 219v1m2 -5v1m0 2v1m0 2v1m2 11v1m2 -18v1m0 1v1m2 -2v1m2 -206v1m2 -9v1m0 341v1m0 1v1m6 -370v1m0 208v1m2 -212v1m2 -13v1m0 377v1m4 -159v1m2 -213v1m2 2v1m0 4v1m0 2v1m4 208v1m2 3v1m2 -3v1m2 -229v1m0 229v1m2 -225v1m0 245v1m2 -233v1m0 7v1m0 1v1m0 215v1m0 184v1m2 -399v1m2 16v1m4 338v1m4 -379v1m0 4v1m0 3v1m0 6v1m0 202v1m4 -7v1m4 -221v1m0 218v1m2 -217v1m2 0v1m2 3v1m2 214v1m2 8v1m0 163v1m2 -154v1m2 -8v1m0 163v1m2 -164v1m4 -221v1m0 385v1m10 -380v1m0 221v1m0 3v1m0 163v1m4 -408v1m0 242v1m0 6v1m2 -259v1m0 10v1m2 236v1m0 59v1m2 -88v1m0 4v2m0 87v1m2 -100v1m4 0v1m2 -216v1m0 223v1m0 3v1m0 149v1m2 -365v1m0 218v1m0 2v1m2 -226v1m6 22v1m0 212v1m2 -227v1m0 1v2m0 4v1m0 224v1m2 -238v1m0 2v1m2 -10v1m0 223v1m0 5v1m2 -14v1m0 6v1m0 134v1m4 -155v1m4 10v1m4 24v1m2 -233v1m0 7v1m0 4v1m0 226v1m4 -216v1m0 220v1m2 -3v1m0 131v1m2 -354v1m4 195v1m0 3v1m2 8v1m2 1v1m10 -206v1m2 206v1m2 -219v1m2 196v1m0 3v1m0 6v1m2 -25v1m0 14v1m0 1v1m2 -225v1m2 204v1m2 6v1m4 2v1m2 -5v1m2 0v1m0 2v1m2 0v1m0 2v1m4 -208v1m0 211v1m2 -193v1m0 192v1m4 -202v1m0 206v1"/>
<path stroke="#c60000" d="M134 432v1m2 -203v1m0 340v1m4 -142v1m2 3v1m6 -7v1m4 -217v1m2 -7v1m0 395v1m0 6v1m4 -390v1m2 399v1m2 -3v1m2 -2v1m2 -171v1m0 170v1m2 -380v1m0 212v1m0 7v1m2 153v1m2 -377v1m2 221v1m0 143v1m2 -148v1m2 -224v1m0 212v1m0 2v1m2 130v2m4 -361v1m2 219v1m4 -216v1m2 -5v1m0 196v1m6 -5v1m2 9v1m2 -223v1m0 220v1m6 -205v1m0 224v1m0 7v1m2 -227v1m0 235v2m0 159v1m4 -154v1m0 1v1m4 125v2m2 -334v1m0 201v1m2 -217v1m0 223v1m0 3v1m2 -246v2m0 18v1m0 163v1m0 18v1m0 2v1m2 -244v1m0 3v1m0 11v1m0 4v2m0 1v1m2 185v1m4 2v1m0 6v1m4 -1v1m0 3v2m2 7v1m2 -216v1m2 212v1m0 146v1m2 -6v1m4 -360v1m0 12v1m2 -25v1m0 219v2m0 155v1m2 -158v1m4 -225v1m2 404v1m2 -405v1m4 16v1m0 233v1m0 7v1m2 179v1m2 -391v1m0 396v1m2 -157v1m2 -221v1m0 215v1m2 8v1m2 -215v1m0 3v1m0 305v1m2 -139v1m0 41v3m2 -230v1m0 189v1m2 -219v1m0 11v1m0 170v1m0 163v1m2 -373v1m0 8v1m0 367v1m4 -153v1m2 -225v1m0 225v1m0 150v1m2 -162v1m0 10v1m4 -228v1m0 2v2m2 -7v1m0 2v1m2 -19v1m2 -11v1m2 221v1m2 173v1m2 7v1m2 -401v1m0 223v1m2 -218v1m0 234v1m2 -233v1m0 233v1m0 182v1m0 2v2m2 3v1m0 1v1m2 -403v1m0 241v1m4 -221v1m0 232v1m0 111v1m0 35v1m2 -375v1m2 226v1m2 -255v1m2 -7v1m0 8v1m0 13v1m0 175v1m0 36v2m0 2v1m0 127v1m2 -374v1m0 3v1m2 388v1m0 1v1m2 4v1m2 -177v1m0 16v1m2 -234v1m0 4v1m0 228v1m4 13v1m0 5v1m2 -2v1m4 -201v1m2 8v1m0 178v1m2 -253v1m0 2v1m2 217v1m4 -228v1m4 10v1m0 8v1m0 214v1m0 6v1m2 -224v1m2 227v1m0 12v1m4 0v1m0 1v2m2 3v1m4 -15v2m0 4v2m2 -24v1m2 118v1m6 -138v1m12 -26v1m0 5v1m0 1v1m2 -6v1m0 9v1m2 1v1m2 20v1m2 5v1m0 166v1m4 -167v1m0 82v1m0 2v1m2 13v1m0 35v1m0 1v1m2 -365v1m0 213v1m0 18v1m0 2v1m0 89v1m0 2v1m2 -102v1m0 1v1m2 -223v1m0 337v2m2 -163v1m0 2v1m0 166v1m2 -171v1m0 5v1m0 166v1m4 -364v1m4 -10v1m0 11v1m2 -18v1m0 4v1m2 227v1m2 -244v1m2 0v1m2 14v1m2 6v1m0 3v1m2 -3v1m0 17v1m0 218v1m2 -226v1m14 207v1m8 -209v1m2 -18v1m0 5v1m0 3v1m0 214v1m2 156v1m2 -366v1m0 353v1m0 2v1m2 -153v1m2 -233v1m0 228v1m2 -6v1m4 -34v1m0 17v1m2 148v1m4 12v1m2 -160v1m2 -221v1m0 218v1m4 -208v1m0 219v2m2 -200v2m0 204v1m2 -217v1m0 387v1m2 -397v1m10 7v1m0 234v1m4 -224v1m0 234v2m2 151v1m4 7v1m4 -157v1m0 120v1m4 -126v1m0 163v2m2 24v1m2 -223v1m0 23v1m0 7v1m2 16v1m2 9v1m2 6v1m0 4v1m2 -270v1m0 3v1m2 -34v1m0 219v1m4 4v1m2 -225v2m0 233v1m0 154v1m4 -380v1m0 230v1m6 -231v1m0 229v2m4 -222v1m0 220v2m6 170v1m0 4v1m2 -30v1m0 3v1m0 11v1m0 5v1m4 -367v1m2 218v1m2 -214v1m0 190v1m0 13v1m0 107v1m2 -350v1m0 4v1m0 8v1m4 -39v1m2 4v1m2 224v1m0 3v1m6 0v1m0 4v1m2 1v1m4 -217v1m0 227v1m2 -1v1m2 0v1m2 0v1m2 -10v1m2 -218v1m8 2v1m0 194v1m0 143v1m2 -148v2m2 -217v1m2 -12v1m0 3v1m0 220v1m2 10v1m0 160v1m4 -373v1m0 220v1m0 2v1m2 -224v2m2 1v1m0 221v1m0 2v1m2 2v1m6 -19v1m0 4v1m2 -209v1m0 205v1m0 163v1m2 -157v1m0 4v1m14 130v1m2 -342v1m4 202v1m2 -219v1m2 225v1m8 141v1m2 -371v1m0 212v1m4 -14v1m2 -2v1m0 7v1m6 -209v1m4 240v1m4 -10v1m0 5v1m2 138v1m4 -368v1m0 213v1m2 -226v1m0 228v1m2 5v1m0 153v1m2 -157v1m12 -205v1m4 -2v1m0 1v1m0 6v1m2 192v1m0 3v1m4 -219v1m2 -19v1m0 2v1m0 216v1m2 -15v1m4 -214v1m0 213v1m4 154v1m4 -355v1m0 213v1m8 -226v1m2 415v1m4 -170v1m0 5v1m2 2v1m0 2v1m2 134v1m2 -351v1m0 1v1m0 326v1m2 -333v1m0 205v1m2 -246v1m0 16v1m0 4v1m0 192v1m0 4v1m0 14v1m4 127v1m2 -2v1m2 -150v1m0 152v1m6 -148v1m2 6v1m4 4v1m0 2v1m4 -226v1m2 389v1m2 -387v1m0 385v1m2 -390v1m6 232v1m2 -5v1m0 161v1m4 -154v2m0 121v1m2 -135v1m0 4v1m0 3v1m0 5v1m2 -239v1m0 208v1m0 13v1m4 -218v1m0 195v1m2 -210v2m2 -20v1m0 4v1m0 6v1m0 216v1m2 -229v1m2 237v1m2 -217v1m0 4v1m2 223v1m2 -211v1m2 -5v1m0 6v1m2 205v1m0 3v1m2 -5v2m0 5v1m4 -16v1m10 -236v1m0 222v1m4 -206v1m2 14v1m0 222v1m2 -218v1m0 223v2m0 141v2m2 -361v1m2 -1v1m0 208v1m2 -223v1m0 226v1m4 -230v1m0 208v1m4 -216v1m2 -4v1m2 2v1m4 20v1m4 200v1m2 -217v1m2 202v1m2 -214v1m0 7v1m0 185v1m2 -204v1m2 211v1m0 1v1m2 160v1m2 -159v1m4 -6v1m2 -216v1m0 212v1m0 7v1m2 -214v1m4 372v1m2 -355v1m2 2v1m0 199v1m2 -230v1"/>
<path stroke="#a30000" d="M134 203v1m0 3v1m6 227v1m2 -6v1m4 -4v1m2 3v1m0 150v1m2 -144v1m4 -232v1m0 399v1m2 -400v1m0 8v1m2 7v1m0 218v1m0 171v1m2 -392v1m0 397v1m2 -6v1m2 -171v1m2 -218v1m2 -3v1m6 372v1m2 -154v1m4 -219v1m0 207v1m2 -4v1m0 1v2m6 -215v1m2 207v1m2 1v1m2 -211v1m0 199v1m4 -14v1m4 13v1m0 4v1m2 -229v2m2 240v1m0 1v1m2 -226v1m2 -4v1m0 246v1m2 -240v2m2 8v1m2 249v1m2 -222v1m0 218v1m2 -257v1m0 36v1m0 196v1m2 -2v1m0 3v1m0 1v1m0 1v1m2 -249v1m2 1v2m0 191v1m2 -228v1m0 382v1m2 -386v1m2 2v1m0 222v1m2 1v1m2 -188v1m0 197v1m0 1v1m2 -224v1m4 13v1m2 209v1m0 140v1m2 -148v1m2 -3v1m0 3v1m2 -214v1m0 360v1m0 1v2m2 -381v1m0 228v2m6 -2v1m2 12v1m0 173v1m4 -404v1m0 242v1m4 -214v2m0 234v1m0 4v1m2 -231v1m0 3v1m2 6v1m2 6v1m0 237v1m0 118v2m4 -171v1m0 3v1m2 -233v1m0 55v1m0 159v1m0 27v1m2 -251v1m0 210v1m2 -211v1m4 -13v2m2 3v1m2 2v1m2 202v1m0 3v1m2 -214v1m2 -3v1m0 2v1m2 13v1m0 334v1m2 -375v1m0 218v1m4 173v1m2 -174v1m0 13v1m2 -237v1m0 40v1m0 191v1m2 3v1m0 1v1m0 12v1m2 -238v1m0 244v1m2 -237v1m0 243v1m2 -226v1m2 231v1m0 83v2m2 -298v1m0 379v1m2 -145v1m0 1v1m0 126v2m2 -359v1m0 2v2m2 -11v2m0 162v1m0 3v2m0 62v1m2 -253v1m0 4v1m0 16v1m0 163v3m0 3v1m0 9v2m0 27v1m0 8v1m0 4v1m4 -47v1m0 177v1m2 -169v1m0 176v1m2 -408v3m0 231v1m0 2v1m0 175v1m4 -158v1m2 -216v1m0 221v2m0 165v1m2 -5v2m2 -373v1m0 204v1m0 1v1m0 108v1m0 15v2m0 18v1m4 -334v1m0 156v1m0 20v1m2 -245v1m0 22v1m0 194v1m2 -225v1m4 -7v1m2 232v1m2 177v1m2 -172v1m4 17v1m8 -238v1m0 14v1m0 223v1m2 -230v1m2 337v1m2 -342v1m0 194v1m0 2v1m2 -202v1m0 205v1m2 -12v1m2 -16v1m4 -14v1m0 1v1m8 198v1m4 -384v1m2 219v1m2 11v1m0 165v1m2 -83v1m0 10v1m2 -315v1m0 5v1m0 213v1m2 -232v1m0 2v1m0 2v1m0 324v2m0 2v1m2 -138v1m0 7v1m0 135v1m2 7v1m4 -160v1m0 2v1m0 171v1m10 -389v1m0 4v1m2 225v1m2 -239v1m0 1v1m2 2v1m0 241v2m6 -206v1m2 5v1m12 184v1m2 -197v1m0 194v1m6 10v1m4 -223v1m0 221v1m4 73v1m0 74v1m4 -155v1m2 -202v1m0 193v1m0 1v1m2 -19v2m0 8v1m2 -23v1m2 -3v1m2 10v1m2 4v1m0 166v1m2 -171v1m0 172v1m8 -360v2m0 2v2m8 -18v1m10 18v1m0 236v1m2 -234v1m0 387v1m2 1v1m6 -30v1m2 -116v1m0 135v1m0 5v1m2 14v2m2 -180v1m0 6v2m4 9v1m0 3v1m2 -53v1m2 -1v1m2 86v1m0 78v1m2 -341v1m2 175v1m4 8v2m2 -225v1m0 236v1m6 -232v1m2 0v1m0 1v1m2 0v2m2 222v1m2 10v1m2 -1v2m2 -219v1m0 2v1m0 381v1m2 -22v1m2 -138v1m6 -24v3m0 2v1m0 12v1m0 110v1m2 -369v1m0 3v1m0 223v2m2 -15v1m4 -218v1m2 226v1m0 1v1m4 0v1m2 -220v1m0 221v1m6 17v1m0 1v1m0 1v1m6 -9v1m2 -2v1m6 -220v1m2 -1v1m0 206v1m2 -9v1m0 5v1m2 -211v1m2 -21v1m2 -1v1m2 227v1m2 -1v1m0 1v1m0 4v1m8 8v1m8 155v1m8 -377v1m6 220v1m0 1v1m2 -8v1m2 -204v1m6 -14v1m4 227v1m2 -4v1m0 1v1m4 -21v1m0 1v1m4 -4v1m0 151v1m2 2v1m2 -156v1m0 158v1m2 -383v1m0 216v1m4 13v1m0 8v1m2 -224v1m0 219v1m0 9v1m8 0v1m0 3v1m2 -20v2m2 -221v1m0 3v2m0 2v1m4 377v1m2 -150v1m4 -5v1m4 -226v1m0 401v2m2 -176v1m0 4v1m2 1v1m2 -206v1m2 -10v1m0 202v1m0 1v1m0 3v1m2 -8v1m4 -224v1m0 213v1m2 -10v1m4 -12v1m2 2v1m8 -206v1m2 -6v1m0 3v1m0 216v1m0 142v1m4 -148v1m0 2v2m0 160v1m0 9v1m2 -393v1m0 393v1m0 7v1m6 -369v1m2 1v1m0 219v1m0 1v1m0 140v1m2 -361v2m0 350v1m2 -146v1m0 132v1m2 -347v1m0 10v1m0 199v1m2 -232v2m0 6v1m0 194v1m0 8v1m0 140v1m2 -375v1m0 217v1m0 4v1m4 -224v1m6 3v1m6 395v1m2 -387v1m0 388v1m6 -390v1m0 1v2m0 225v1m2 -227v1m4 2v1m4 221v1m0 152v1m2 -373v1m0 4v1m0 392v1m2 -403v1m0 234v1m2 -240v1m4 5v1m0 8v1m0 205v2m0 6v1m0 4v1m0 65v1m2 -275v1m0 183v1m0 90v1m4 -309v1m0 10v1m0 4v1m2 349v1m2 -145v1m2 -215v1m2 220v1m0 9v1m2 0v1m6 -223v1m0 223v1m0 2v1m4 -11v2m6 -24v1m0 7v1m2 -12v1m2 -216v1m2 -5v1m0 1v1m2 16v1m0 234v1m2 -226v1m2 13v1m0 224v1m2 -227v1m4 9v1m0 220v1m2 -10v1m2 -223v1m0 212v1m6 0v1m6 -214v1m2 216v1m0 2v2m4 135v1m2 -158v1m0 10v1m2 -12v1m8 -17v2m2 -221v1m0 219v1m2 -1v1m2 -220v1m6 227v1m2 8v1m2 -196v1m2 -15v1m0 364v1m2 -382v1"/>
<path stroke="#800000" d="M134 433v2m0 1v2m2 -231v2m0 222v5m2 -228v1m0 223v6m0 134v2m2 -365v2m0 223v1m2 -4v1m0 3v1m2 -224v1m0 216v8m2 -225v1m0 216v6m0 145v1m2 -370v4m0 214v2m0 1v4m0 148v2m2 -376v3m0 17v1m0 203v1m0 1v3m2 -228v1m0 1v1m0 224v4m0 153v1m0 2v1m2 -390v3m0 18v1m0 209v3m0 1v2m0 153v1m0 3v2m0 2v1m2 -398v2m0 1v5m0 224v1m0 1v4m0 165v1m2 -397v2m0 2v2m0 1v2m0 4v1m0 215v4m0 1v1m2 -224v3m0 217v4m0 171v1m2 -396v3m0 217v6m2 -224v5m0 212v1m0 2v3m0 162v2m2 -387v1m0 2v5m0 211v8m2 -221v1m0 216v6m2 -219v1m0 215v7m0 148v2m2 -374v2m0 217v1m0 3v4m0 140v1m2 -372v2m0 218v3m0 1v1m0 142v1m2 -370v3m0 215v3m0 2v1m0 137v1m2 -363v2m0 209v1m0 4v2m2 -221v2m0 210v2m0 1v2m2 -219v2m0 212v1m0 2v1m2 -221v1m0 213v5m2 -219v1m0 213v1m0 1v2m2 -217v1m0 214v3m0 127v1m2 -347v3m0 203v1m0 1v2m0 4v1m0 1v3m0 130v1m2 -349v4m0 192v1m0 1v4m0 1v4m0 2v1m2 -208v1m0 1v2m0 186v1m0 1v1m0 2v4m2 -202v3m0 1v1m0 186v1m0 3v1m0 2v1m2 -203v4m0 190v2m0 2v4m2 -210v1m0 3v3m0 2v1m0 8v1m0 189v2m0 1v1m0 170v1m2 -386v3m0 1v2m0 211v1m0 3v2m0 167v3m2 -399v1m0 4v1m0 226v5m2 -231v2m0 2v2m0 221v2m0 1v4m0 4v1m0 2v1m2 -236v6m0 3v1m0 5v1m0 212v1m0 3v7m0 2v2m0 1v4m2 -239v4m0 1v2m0 225v4m0 2v2m0 2v1m2 -237v1m0 1v4m0 1v2m0 228v11m2 -239v1m0 3v6m0 224v1m0 1v7m0 1v1m2 -254v1m0 22v6m0 221v4m0 6v1m2 -231v4m0 1v2m0 220v3m0 2v2m2 -29v1m0 2v2m0 6v2m0 1v1m0 2v2m0 3v1m0 2v4m0 1v2m2 -241v1m0 3v4m0 164v2m0 2v3m0 1v2m0 2v2m0 1v1m0 2v2m0 2v2m0 2v5m0 1v3m0 1v2m0 2v1m0 1v1m0 3v2m0 90v1m2 -348v1m0 1v2m0 1v4m0 3v4m0 1v1m0 4v12m0 3v1m0 161v2m0 2v1m0 1v6m0 1v7m0 1v1m0 2v1m0 4v1m2 -245v1m0 1v11m0 3v2m0 6v2m0 179v2m0 1v1m0 2v2m0 3v1m2 -231v2m0 8v2m0 208v1m0 1v3m2 -184v1m0 181v2m0 1v1m2 -223v4m0 221v1m2 -222v6m0 215v5m2 -220v2m0 2v1m0 213v3m2 -215v2m0 19v1m0 195v2m0 3v2m2 -220v5m0 211v7m0 151v1m2 -368v1m0 2v1m0 208v2m0 1v4m0 141v2m2 -360v7m0 206v3m0 1v1m2 -211v3m0 1v2m0 191v2m0 2v2m2 -212v3m0 1v3m0 1v1m0 6v1m0 188v2m0 2v1m2 -224v4m0 4v1m0 2v1m0 201v5m2 -222v2m0 218v2m0 1v3m2 -5v9m2 -235v3m0 224v1m0 2v7m0 165v1m2 -400v1m0 30v1m0 199v2m0 2v3m0 168v2m2 -408v1m0 1v2m0 1v1m0 225v10m0 169v4m2 -412v6m0 227v2m0 2v5m2 -235v1m0 3v3m0 1v1m0 3v1m0 225v1m0 3v1m0 1v2m0 2v2m2 -237v3m0 9v3m0 216v2m0 1v3m0 1v3m0 1v1m0 3v5m0 2v1m2 -238v3m0 3v2m0 217v1m0 1v3m0 1v2m0 1v6m0 1v4m2 -231v1m0 224v8m0 2v4m0 1v1m2 -227v3m0 1v1m0 217v1m0 3v9m0 143v2m0 2v2m2 -378v1m0 3v4m0 219v1m0 1v4m0 2v2m2 -231v4m0 2v2m0 215v2m0 1v4m0 3v1m0 79v1m2 -308v9m0 155v1m0 3v1m0 3v3m0 1v3m0 1v1m0 2v1m0 4v4m0 1v11m0 1v3m0 1v3m0 4v5m2 -232v1m0 2v1m0 3v1m0 4v2m0 3v3m0 146v4m0 1v3m0 1v3m0 1v1m0 2v2m0 3v4m0 5v3m0 7v1m0 11v1m0 92v3m2 -365v2m0 2v2m0 2v2m0 1v1m0 2v5m0 1v3m0 1v3m0 1v3m0 8v1m0 6v1m0 162v1m0 1v2m0 2v2m0 150v1m2 -373v7m0 211v1m2 -222v6m0 215v1m0 1v2m2 -223v1m0 222v2m0 154v1m2 -378v1m0 220v4m0 150v1m2 -373v1m0 212v2m0 1v2m0 1v1m0 2v1m0 139v1m2 -362v2m0 202v3m0 1v1m0 1v3m0 1v1m2 -223v2m0 15v1m0 186v3m0 2v1m0 1v2m0 1v1m2 -221v2m0 2v2m0 2v1m0 194v4m0 1v1m0 3v1m2 -223v2m0 1v5m0 200v6m0 1v3m2 -225v1m0 1v3m0 1v1m0 33v1m0 173v6m2 -225v2m0 1v1m0 2v1m0 210v1m0 1v7m2 -229v1m0 1v2m0 219v1m0 2v7m2 -230v4m0 221v1m0 1v11m0 1v1m2 -237v1m0 1v3m0 225v1m0 1v2m0 2v7m0 1v2m0 165v1m2 -404v1m0 4v2m0 226v6m0 1v3m0 1v1m2 -236v2m0 1v1m0 229v6m0 4v1m0 2v1m0 169v2m2 -409v1m0 1v3m0 1v3m0 223v1m0 1v2m0 1v4m0 1v1m0 2v1m0 169v1m0 1v2m2 -410v5m0 3v1m0 224v6m0 1v1m0 2v1m0 1v2m2 -239v1m0 1v3m0 1v2m0 226v6m0 1v3m2 -231v3m0 1v2m0 228v1m0 79v2m2 -330v1m0 20v1m0 1v4m0 223v3m0 1v2m0 78v2m0 49v2m0 2v2m0 2v3m2 -369v2m0 2v2m0 220v1m0 1v7m2 -235v8m0 149v4m0 2v2m0 6v2m0 6v2m0 40v2m0 3v3m0 2v2m0 1v3m2 -254v1m0 2v2m0 3v5m0 2v1m0 160v2m0 1v1m0 7v4m0 1v4m0 2v2m0 3v7m0 2v8m0 2v2m0 2v8m0 1v4m0 1v4m0 3v1m2 -280v1m0 7v3m0 198v1m0 1v1m2 -215v2m0 4v1m0 208v2m0 1v1m0 2v1m0 1v3m0 1v1m0 2v1m2 -5v1m0 3v4m0 1v2m0 181v2m2 -406v1m0 220v3m0 5v2m0 2v2m0 1v1m0 3v1m0 3v1m0 167v3m2 -413v6m0 2v2m0 228v1m0 3v1m0 2v2m0 171v2m2 -405v4m0 1v2m0 227v1m0 1v2m2 -234v1m0 3v1m0 2v1m0 5v1m0 220v1m0 3v1m0 1v1m0 163v1m2 -388v2m0 1v1m0 214v3m0 1v1m2 -211v2m0 2v3m0 309v1m0 8v1m0 1v2m0 4v4m0 7v1m0 3v1m0 1v1m2 -341v1m0 182v1m0 1v2m0 5v3m0 1v3m2 -190v1m0 153v2m0 1v3m0 2v1m0 1v8m0 2v1m0 1v1m2 -254v1m0 3v1m0 6v1m0 1v5m0 2v2m0 3v1m0 2v1m0 1v3m0 1v2m0 4v2m0 2v2m0 6v2m0 7v3m0 2v4m0 3v1m0 3v1m0 2v1m0 140v4m0 2v1m0 1v6m0 4v4m0 2v2m2 -253v3m0 11v1m0 210v2m0 4v1m0 1v1m2 -239v1m0 3v1m0 225v6m0 2v1m2 -3v3m0 3v1m2 -230v2m0 1v1m0 226v1m2 -222v3m0 2v3m0 217v5m0 2v1m0 162v1m0 1v1m2 -393v2m0 1v3m0 2v2m0 213v6m0 2v2m2 -220v4m0 1v2m0 211v10m0 3v1m2 -242v1m0 13v3m0 1v3m0 215v1m0 1v2m0 1v3m2 -244v1m0 19v1m0 1v1m0 2v2m0 218v6m2 -224v2m0 213v3m0 1v2m0 1v1m2 -227v2m0 1v1m0 211v8m2 -230v5m0 208v5m0 2v3m2 -232v3m0 1v3m0 205v1m0 1v9m0 3v3m2 -232v1m0 1v4m0 202v2m0 3v11m0 122v2m2 -351v6m0 196v2m0 3v2m0 2v9m0 100v3m0 2v2m2 -330v1m0 2v3m0 192v1m0 1v12m2 -216v5m0 186v1m0 2v2m0 3v6m2 -208v2m0 185v4m0 3v5m2 -216v1m0 25v1m0 171v1m0 3v7m2 -11v1m0 3v1m2 -215v1m0 206v6m2 -219v1m0 1v1m0 210v8m2 -214v2m0 213v3m0 1v1m2 -217v4m0 1v2m0 206v3m0 4v2m0 1v1m0 2v1m2 -222v11m0 209v1m0 1v12m0 168v2m2 -397v4m0 1v2m0 1v1m0 13v1m0 203v4m0 1v2m2 -222v2m0 221v1m0 1v3m0 1v1m0 163v1m2 -386v1m0 1v3m0 215v4m0 1v1m2 -223v1m0 2v2m0 214v9m0 1v1m0 70v1m0 75v1m2 -382v2m0 1v3m0 2v2m0 1v2m0 215v2m0 1v4m0 83v1m0 30v1m0 5v3m0 4v3m0 1v1m2 -379v3m0 1v2m0 1v1m0 4v2m0 208v1m0 1v1m0 1v8m0 1v7m0 1v2m0 91v1m2 -134v2m0 5v3m0 2v3m0 1v11m0 1v6m0 1v1m2 -257v1m0 210v1m0 4v1m0 2v5m2 -16v1m0 2v1m2 -199v1m0 201v2m0 2v1m0 1v1m0 164v2m2 -375v1m0 4v1m0 199v7m2 -208v5m0 2v1m0 198v5m0 1v3m2 -203v1m0 198v5m2 -212v1m0 6v2m0 3v1m0 195v8m2 -232v1m0 6v1m0 22v1m0 197v6m2 -235v1m0 235v1m2 -2v2m2 -238v1m0 1v3m0 229v7m0 176v2m2 -416v6m0 231v1m0 3v1m0 7v1m2 -240v5m0 1v3m0 4v1m2 -6v1m0 4v1m0 2v1m0 1v4m2 7v1m0 223v2m2 -223v1m10 179v1m2 3v3m2 -2v7m0 1v4m0 2v1m0 1v4m0 8v3m0 1v2m0 4v1m0 1v3m0 1v5m2 -45v2m2 -3v4m2 -2v3m2 -220v1m0 216v1m0 1v1m2 -228v1m0 21v1m0 204v1m2 -229v1m0 225v5m2 -235v1m0 230v1m0 125v2m2 -129v1m0 1v1m0 115v1m2 -347v2m0 218v1m0 4v1m0 1v2m0 118v1m2 -346v1m0 206v1m0 7v1m0 3v1m2 -197v1m0 166v5m0 1v3m0 1v1m2 -9v1m2 -2v2m0 3v2m2 -198v1m0 196v2m0 1v3m0 1v1m0 160v2m0 2v1m2 -381v1m0 3v1m0 209v1m0 1v2m4 -218v1m0 2v1m2 0v1m0 3v3m2 2v2m0 2v2m0 13v1m0 203v2m2 -204v1m2 -19v1m4 225v1m4 -223v1m2 3v1m0 9v1m0 220v1m2 -229v2m0 237v1m0 154v1m2 -150v2m0 148v1m2 -388v1m0 235v3m2 -10v2m2 -6v2m2 8v1m0 167v1m2 -168v1m2 6v1m0 1v2m0 140v2m0 23v3m2 -173v1m0 2v2m2 -34v7m0 3v3m0 1v6m0 2v12m0 175v1m2 -218v3m0 1v2m0 1v4m0 1v1m0 23v8m2 -51v1m0 1v1m0 3v1m0 2v1m0 41v4m0 2v1m2 -57v1m0 60v1m0 4v2m0 2v2m0 86v2m2 -361v2m0 5v1m0 2v1m0 1v2m0 185v2m0 74v2m0 83v2m2 -378v2m0 17v1m0 3v1m0 3v1m0 2v1m0 183v5m0 158v1m0 1v1m2 -388v2m0 47v1m0 2v2m0 1v1m0 165v1m0 2v3m2 -156v1m0 153v1m0 3v1m0 1v1m2 -142v1m0 139v4m2 -232v1m0 4v1m0 229v1m2 -226v1m0 228v4m2 -1v1m0 2v2m2 -234v1m2 229v5m2 -5v1m2 -4v3m2 -221v2m0 219v2m0 2v2m2 -1v3m2 0v1m0 3v1m0 167v1m2 -386v1m0 220v1m0 158v3m2 -377v1m0 213v1m0 1v4m0 137v1m0 8v1m2 -362v2m0 214v2m2 0v1m0 100v1m2 -105v3m0 100v1m2 -312v1m0 163v1m0 2v1m0 4v5m0 2v4m0 4v2m0 2v2m0 2v5m0 1v1m0 108v1m2 -347v2m0 8v2m0 184v9m0 6v4m0 1v1m0 2v1m0 1v2m0 128v2m2 -156v3m2 -2v3m0 2v1m0 155v1m2 -157v1m4 -215v1m0 217v4m2 -221v2m0 216v1m0 1v2m0 159v1m2 -381v1m0 1v1m0 223v2m0 1v1m2 -3v1m0 2v3m2 -227v3m0 225v4m2 -1v1m0 2v1m0 1v1m2 -229v1m0 224v2m0 1v2m2 -227v1m0 219v1m0 2v4m2 -11v1m0 2v1m0 1v1m2 -7v2m2 -219v2m0 213v2m0 1v1m2 -9v3m0 2v2m2 -12v1m0 1v4m0 2v1m2 -13v2m0 2v1m0 4v1m2 -212v1m0 200v2m0 4v1m2 -220v1m0 2v1m0 3v1m0 3v1m0 194v1m0 2v3m0 2v1m2 -226v3m0 212v6m0 1v1m0 150v1m2 -381v1m0 227v1m0 1v2m2 -4v1m0 1v2m0 5v1m2 -3v1m0 2v2m2 -217v1m0 217v1m2 -219v2m0 224v3m2 -225v1m0 223v2m0 3v1m2 -6v2m2 -224v2m0 217v2m2 -219v2m0 1v1m0 194v1m0 2v1m0 1v2m0 4v1m0 1v2m2 -18v7m0 3v2m0 2v1m0 1v1m2 -209v1m0 198v1m0 6v1m0 1v4m2 -213v1m0 216v2m2 2v2m2 -226v1m0 226v1m0 2v1m2 0v6m2 -235v2m0 222v8m2 -227v1m0 210v2m0 2v2m0 2v4m2 -222v1m0 203v3m0 1v5m0 137v1m2 -348v1m0 196v6m2 -202v1m0 2v1m0 187v1m0 3v4m2 -1v4m0 2v2m0 145v1m2 -363v2m0 215v1m0 1v2m0 1v1m4 2v1m4 -222v2m0 213v2m0 2v1m0 1v1m2 -215v1m0 205v5m2 -13v6m2 -220v1m0 206v1m0 2v1m0 155v1m2 -161v2m0 4v1m2 -11v6m2 -7v7m0 3v1m2 -7v1m0 1v5m0 2v1m0 1v1m2 -3v6m0 2v1m2 -1v1m0 1v3m0 3v1m2 -226v2m0 1v1m0 216v9m0 163v1m2 -387v2m0 217v11m2 -3v8m2 -13v1m0 2v2m0 1v12m2 -228v1m0 4v1m0 207v2m0 4v1m2 -231v3m0 1v1m0 2v1m0 198v2m0 2v2m2 -222v3m0 2v2m0 3v1m0 207v4m2 -3v1m0 1v3m0 1v1m0 2v2m2 -227v4m0 222v3m2 -1v1m4 1v4m2 -223v1m2 -7v1m0 225v2m0 1v2m2 -3v1m0 1v2m0 1v1m2 -7v1m0 1v4m2 -200v4m0 188v1m0 3v1m2 -207v2m0 5v1m0 193v1m0 1v2m2 -215v1m0 1v2m0 207v2m2 -215v2m0 201v6m0 1v1m2 -222v1m0 204v3m0 2v2m2 -224v1m0 5v1m0 204v3m0 4v1m2 -226v1m0 1v2m0 1v1m0 207v3m0 1v2m0 152v1m2 -377v1m0 215v1m0 1v2m0 2v1m0 153v1m2 -378v5m0 215v1m0 1v1m0 2v1m2 -220v2m0 215v5m0 147v2m2 -368v3m0 213v5m2 -215v1m0 213v2m2 -214v3m0 210v3m2 -221v2m0 4v2m0 209v1m0 1v1m2 -224v2m0 217v2m0 1v2m0 1v1m0 141v2m2 -379v1m0 1v3m0 230v2m0 167v1m2 -400v1m0 4v1m0 226v2m0 1v1m2 -230v7m0 221v5m0 1v6m0 1v1m0 171v2m2 -398v1m0 1v2m0 216v1m0 2v4m0 1v3m2 -217v2m0 2v1m0 209v1m0 2v1m0 3v1m0 1v4m0 158v1m2 -380v1m0 1v4m0 214v1m0 144v1m2 -360v2m0 215v1m0 1v2m2 -14v2m0 1v1m0 6v2m2 -228v1m0 1v5m0 1v3m0 2v2m0 176v1m0 3v1m0 2v1m0 1v2m0 1v1m0 2v1m0 3v1m0 3v1m2 -30v1m0 6v1m0 7v2m2 -243v1m0 219v4m0 1v2m2 -8v2m0 2v1m0 147v1m2 -152v1m2 -2v1m0 1v1m2 -218v3m0 209v3m0 2v1m2 -6v1m0 2v5m2 -5v4m0 1v1m0 2v1m0 1v3m2 -4v4m0 1v2m2 0v1m0 1v2m2 -225v1m0 221v4m0 1v2m2 -229v2m0 225v2m0 162v1m2 -389v1m0 224v1m0 1v3m0 159v1m2 -391v1m0 226v1m0 4v1m2 -230v1m0 223v1m2 -223v1m0 219v3m0 1v2m2 -223v1m0 215v1m0 4v2m0 164v1m2 -388v2m0 215v3m0 1v3m2 -223v3m0 216v7m0 146v1m0 2v2m2 -376v2m0 223v1m0 1v1m0 165v1m2 -398v2m0 1v1m0 230v1m2 -239v3m0 238v2m2 -249v2m0 233v1m0 5v2m0 1v1m2 -240v5m0 2v2m0 4v1m0 194v7m0 3v2m0 3v3m0 4v1m0 1v1m2 -207v4m0 175v2m0 1v1m0 1v2m0 3v1m0 83v1m2 -291v2m0 6v3m0 183v1m0 2v2m2 -213v4m0 205v2m2 -224v1m0 4v6m0 214v3m2 -227v4m0 4v2m0 214v5m0 3v1m2 -224v8m0 1v1m0 210v6m0 1v1m2 -220v1m0 4v4m0 215v4m2 -215v3m0 1v1m0 210v2m0 4v2m2 -220v1m0 3v1m0 218v3m2 -219v3m0 213v3m0 1v3m0 2v2m2 -234v1m0 216v1m0 1v1m0 2v4m0 1v5m2 -245v1m0 222v2m0 3v1m0 3v1m0 2v1m2 -239v1m0 223v3m0 135v1m2 -366v2m0 218v1m0 1v3m2 -228v1m0 1v1m0 217v4m2 -230v3m0 1v1m0 213v7m0 1v2m2 -236v8m0 210v4m0 1v1m0 2v4m2 -230v5m0 218v1m0 2v2m0 2v5m0 1v4m2 -236v1m0 1v3m0 2v1m0 1v2m0 215v2m0 1v5m0 1v3m0 5v1m0 3v1m2 -236v4m0 1v1m0 225v10m0 1v2m2 -231v2m0 4v1m0 219v8m0 1v2m2 -227v1m0 3v1m0 1v1m0 1v1m0 218v2m2 -222v1m0 2v2m0 220v1m0 3v1m2 -224v1m0 2v1m0 217v3m2 -10v6m0 2v2m2 -232v4m0 206v5m0 4v3m2 -228v3m0 3v1m0 203v3m0 1v6m0 1v1m0 153v1m2 -378v4m0 211v8m2 -224v1m0 218v4m0 1v3m2 0v2m2 0v6m2 -233v2m0 228v5m2 -227v1m0 224v2m0 3v1m2 -228v3m0 213v2m0 2v3m2 -220v1m0 1v3m0 206v1m0 4v1m0 2v1m2 -224v1m0 207v1m0 2v4m0 133v2m2 -355v1m0 1v3m0 193v2m0 6v6m0 1v2m2 -218v1m0 1v2m0 189v11m0 7v1m2 -219v3m0 2v2m0 187v8m2 -213v1m0 207v2m0 3v1m2 -224v1m0 218v1m0 1v2m2 0v4m0 157v2m2 -165v4m2 -224v1m0 220v1m0 1v4m2 -3v2m2 -218v1m0 212v6m2 -208v1m0 204v10m2 -209v2m0 1v1m0 3v1m0 196v1m0 1v3m0 2v3m2 -1v2m0 145v1m0 1v1m2 -353v7m0 1v1m0 196v6m2 -226v3m0 1v1m0 4v2m0 1v1m0 205v4m0 1v1m0 150v1m2 -386v3m0 224v6"/>
</g>

<defs><linearGradient id="yl" gradientUnits="userSpaceOnUse" x1="0" y1="572" x2="0" y2="754"><stop offset="0" stop-color="#e8ff18"/><stop offset="0.72" stop-color="#dcff24"/><stop offset="0.84" stop-color="#40ffc0"/><stop offset="0.93" stop-color="#10a0ff"/><stop offset="1" stop-color="#0030e0"/></linearGradient></defs><rect x="300.2" y="572" width="1.7" height="182" fill="url(#yl)"/>
<rect x="133.5" y="66.5" width="797" height="712" fill="none" stroke="#07073e" stroke-width="1" stroke-opacity="0.8"/><line x1="133.5" x2="133.5" y1="66" y2="779" stroke="#0a0a26" stroke-width="1"/>
<defs><linearGradient id="jet" x1="0" y1="1" x2="0" y2="0"><stop offset="0" stop-color="#00008a"/><stop offset="0.123" stop-color="#0000ff"/><stop offset="0.374" stop-color="#00ffff"/><stop offset="0.625" stop-color="#ffff00"/><stop offset="0.876" stop-color="#ff0000"/><stop offset="1" stop-color="#800000"/></linearGradient></defs>
<rect x="969" y="66" width="45" height="713.5" fill="url(#jet)"/>
<rect x="969.5" y="65.7" width="44" height="713.8" fill="none" stroke="#1a1a1a" stroke-width="1" stroke-opacity="0.85"/>
<line x1="1006" x2="1013.5" y1="141.11" y2="141.11" stroke="#262626" stroke-width="1" stroke-opacity="0.55"/><line x1="1006" x2="1013.5" y1="216.21" y2="216.21" stroke="#262626" stroke-width="1" stroke-opacity="0.55"/><line x1="1006" x2="1013.5" y1="291.32" y2="291.32" stroke="#262626" stroke-width="1" stroke-opacity="0.55"/><line x1="1006" x2="1013.5" y1="366.42" y2="366.42" stroke="#262626" stroke-width="1" stroke-opacity="0.55"/><line x1="1006" x2="1013.5" y1="441.53" y2="441.53" stroke="#262626" stroke-width="1" stroke-opacity="0.55"/><line x1="1006" x2="1013.5" y1="516.63" y2="516.63" stroke="#262626" stroke-width="1" stroke-opacity="0.55"/><line x1="1006" x2="1013.5" y1="591.74" y2="591.74" stroke="#262626" stroke-width="1" stroke-opacity="0.55"/><line x1="1006" x2="1013.5" y1="666.84" y2="666.84" stroke="#262626" stroke-width="1" stroke-opacity="0.55"/><line x1="1006" x2="1013.5" y1="741.95" y2="741.95" stroke="#262626" stroke-width="1" stroke-opacity="0.55"/>
</svg>
<span class="t" id="title" style="left:71.0px;top:30.2px;font-weight:bold;font-size:30.55px;color:#000">f=7.04 MHz;  lat=50.04; long=14.48, time=0 is at 2026 01 22 08:00</span>
<span class="xt" style="left:232.75px">9</span><span class="xt" style="left:332.50px">10</span><span class="xt" style="left:432.25px">11</span><span class="xt" style="left:532.00px">12</span><span class="xt" style="left:631.75px">13</span><span class="xt" style="left:731.50px">14</span><span class="xt" style="left:831.25px">15</span><span class="xt" style="left:931.00px">16</span>
<span class="yt" style="top:143.03px">6</span><span class="yt" style="top:232.15px">4</span><span class="yt" style="top:321.28px">2</span><span class="yt" style="top:410.40px">0</span><span class="yt" style="top:499.53px">-2</span><span class="yt" style="top:588.65px">-4</span><span class="yt" style="top:677.77px">-6</span><span class="yt" style="top:766.90px">-8</span>
<span class="ct" style="top:53.90px">6.6</span><span class="ct" style="top:129.01px">6.4</span><span class="ct" style="top:204.11px">6.2</span><span class="ct" style="top:279.22px">6</span><span class="ct" style="top:354.32px">5.8</span><span class="ct" style="top:429.43px">5.6</span><span class="ct" style="top:504.53px">5.4</span><span class="ct" style="top:579.64px">5.2</span><span class="ct" style="top:654.74px">5</span><span class="ct" style="top:729.85px">4.8</span>
<span class="t" id="xl" style="left:424.2px;top:834px;font-size:30.7px">hour of day [UT]</span>
<span class="t" id="yl" style="left:58.5px;top:520.7px;font-size:30.7px;transform-origin:0 0;transform:rotate(-90deg)">frequency [Hz]</span>
</body></html>
